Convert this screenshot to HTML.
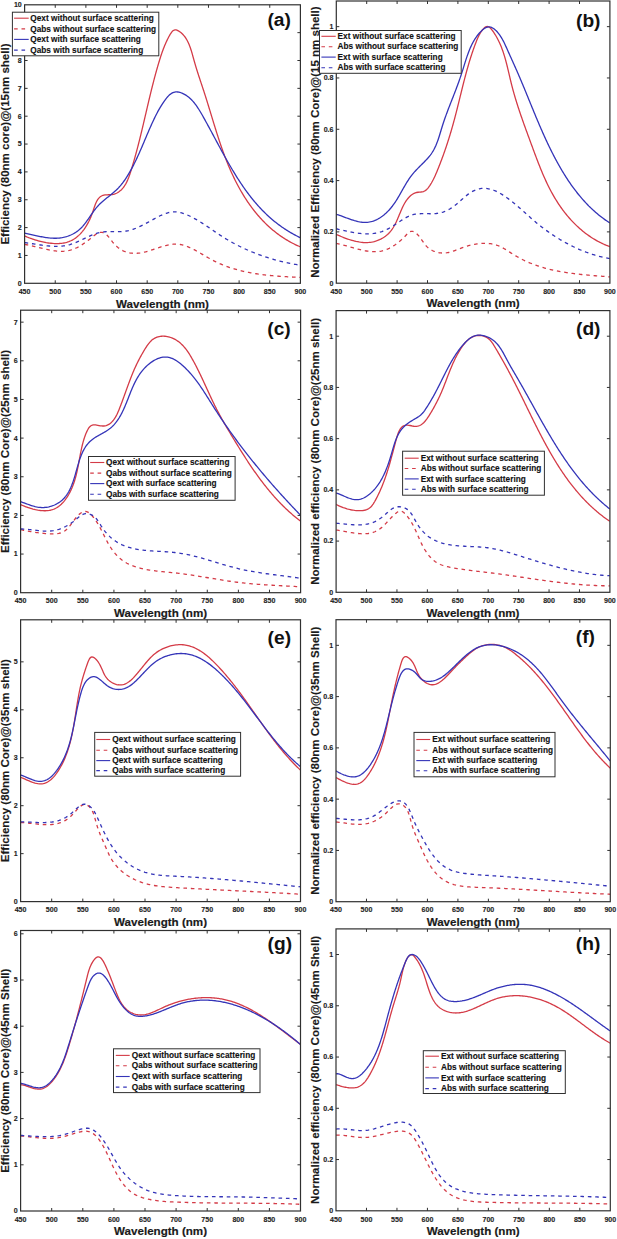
<!DOCTYPE html>
<html><head><meta charset="utf-8"><style>
html,body{margin:0;padding:0;background:#fff;width:617px;height:1239px;overflow:hidden}
svg{display:block}
</style></head><body>
<svg width="617" height="1239" viewBox="0 0 617 1239" font-family="&quot;Liberation Sans&quot;, sans-serif" font-weight="bold">
<rect width="617" height="1239" fill="#fff"/>
<g><clipPath id="clipa"><rect x="24.60" y="4.80" width="275.80" height="278.50"/></clipPath><g clip-path="url(#clipa)"><path d="M24.83,236.09 L25.74,236.47 L26.67,236.85 L27.62,237.23 L28.60,237.61 L29.59,237.99 L30.61,238.36 L31.64,238.73 L32.70,239.09 L33.76,239.45 L34.85,239.80 L35.94,240.13 L37.06,240.46 L38.18,240.78 L39.31,241.09 L40.45,241.38 L41.60,241.66 L42.76,241.92 L43.93,242.17 L45.10,242.40 L46.27,242.62 L47.45,242.81 L48.62,242.99 L49.80,243.14 L50.98,243.27 L52.16,243.38 L53.33,243.47 L54.50,243.53 L55.66,243.56 L56.82,243.57 L57.97,243.55 L59.12,243.50 L60.25,243.42 L61.37,243.31 L62.48,243.17 L63.58,243.00 L64.66,242.79 L65.73,242.55 L66.79,242.27 L67.82,241.95 L68.84,241.60 L69.84,241.21 L70.81,240.78 L71.77,240.31 L72.71,239.81 L73.63,239.28 L74.53,238.71 L75.42,238.10 L76.28,237.47 L77.13,236.80 L77.95,236.10 L78.76,235.37 L79.55,234.62 L80.33,233.84 L81.08,233.03 L81.82,232.19 L82.53,231.33 L83.23,230.44 L83.92,229.53 L84.58,228.60 L85.23,227.65 L85.86,226.68 L86.48,225.68 L87.07,224.67 L87.65,223.64 L88.21,222.60 L88.76,221.54 L89.29,220.46 L89.80,219.37 L90.30,218.26 L90.78,217.15 L91.24,216.02 L91.69,214.88 L92.12,213.73 L92.53,212.57 L92.93,211.40 L93.32,210.24 L93.71,209.07 L94.09,207.92 L94.47,206.78 L94.87,205.66 L95.27,204.56 L95.70,203.49 L96.14,202.47 L96.62,201.48 L97.12,200.54 L97.66,199.66 L98.25,198.83 L98.88,198.07 L99.56,197.37 L100.30,196.75 L101.10,196.22 L101.96,195.76 L102.89,195.41 L103.90,195.14 L104.98,194.97 L106.11,194.86 L107.29,194.80 L108.49,194.75 L109.70,194.71 L110.91,194.64 L112.10,194.52 L113.26,194.33 L114.38,194.05 L115.44,193.69 L116.46,193.24 L117.44,192.73 L118.36,192.16 L119.25,191.54 L120.09,190.87 L120.89,190.17 L121.65,189.43 L122.37,188.65 L123.06,187.84 L123.72,187.00 L124.34,186.13 L124.93,185.23 L125.49,184.30 L126.03,183.35 L126.54,182.38 L127.03,181.38 L127.49,180.37 L127.94,179.34 L128.37,178.29 L128.78,177.23 L129.17,176.15 L129.56,175.07 L129.93,173.98 L130.29,172.88 L130.65,171.78 L131.00,170.67 L131.34,169.57 L131.68,168.46 L132.02,167.36 L132.35,166.25 L132.68,165.14 L133.01,164.04 L133.34,162.93 L133.66,161.83 L133.98,160.72 L134.29,159.61 L134.61,158.51 L134.92,157.40 L135.23,156.30 L135.53,155.19 L135.83,154.08 L136.13,152.98 L136.43,151.87 L136.73,150.77 L137.02,149.66 L137.31,148.56 L137.60,147.45 L137.89,146.35 L138.18,145.24 L138.46,144.14 L138.74,143.03 L139.02,141.93 L139.30,140.82 L139.58,139.72 L139.85,138.62 L140.12,137.51 L140.39,136.41 L140.67,135.30 L140.93,134.20 L141.20,133.10 L141.47,131.99 L141.73,130.89 L142.00,129.79 L142.26,128.69 L142.52,127.58 L142.78,126.48 L143.05,125.38 L143.31,124.28 L143.56,123.18 L143.82,122.08 L144.08,120.98 L144.34,119.87 L144.60,118.77 L144.85,117.67 L145.11,116.57 L145.37,115.47 L145.62,114.37 L145.88,113.28 L146.13,112.18 L146.39,111.08 L146.65,109.98 L146.90,108.88 L147.16,107.78 L147.41,106.69 L147.67,105.59 L147.93,104.49 L148.19,103.40 L148.45,102.30 L148.70,101.20 L148.96,100.11 L149.23,99.01 L149.49,97.92 L149.75,96.82 L150.01,95.73 L150.28,94.64 L150.54,93.54 L150.81,92.45 L151.08,91.36 L151.34,90.27 L151.61,89.17 L151.89,88.08 L152.16,86.99 L152.43,85.90 L152.71,84.81 L152.99,83.72 L153.27,82.63 L153.55,81.54 L153.83,80.45 L154.12,79.37 L154.40,78.28 L154.69,77.19 L154.99,76.11 L155.28,75.02 L155.57,73.93 L155.87,72.85 L156.17,71.76 L156.48,70.68 L156.78,69.60 L157.09,68.51 L157.40,67.43 L157.71,66.35 L158.03,65.27 L158.35,64.18 L158.67,63.10 L158.99,62.02 L159.32,60.94 L159.65,59.86 L159.99,58.79 L160.33,57.71 L160.67,56.63 L161.02,55.55 L161.38,54.47 L161.75,53.39 L162.12,52.31 L162.50,51.23 L162.90,50.15 L163.30,49.07 L163.72,47.99 L164.14,46.90 L164.58,45.82 L165.04,44.73 L165.51,43.64 L165.99,42.55 L166.49,41.46 L167.01,40.37 L167.54,39.27 L168.10,38.17 L168.67,37.07 L169.26,35.97 L169.87,34.86 L170.51,33.79 L171.18,32.78 L171.88,31.87 L172.61,31.09 L173.39,30.49 L174.21,30.08 L175.07,29.91 L175.98,29.95 L176.90,30.18 L177.84,30.56 L178.77,31.06 L179.68,31.66 L180.56,32.31 L181.39,33.01 L182.19,33.74 L182.95,34.51 L183.67,35.31 L184.36,36.14 L185.01,37.00 L185.64,37.90 L186.23,38.82 L186.79,39.76 L187.32,40.73 L187.83,41.72 L188.31,42.74 L188.77,43.77 L189.21,44.82 L189.64,45.89 L190.04,46.97 L190.43,48.07 L190.80,49.18 L191.16,50.29 L191.51,51.42 L191.84,52.55 L192.17,53.69 L192.50,54.83 L192.82,55.98 L193.13,57.12 L193.45,58.26 L193.76,59.41 L194.07,60.54 L194.39,61.68 L194.71,62.80 L195.04,63.92 L195.37,65.04 L195.70,66.15 L196.03,67.25 L196.37,68.35 L196.71,69.45 L197.05,70.54 L197.39,71.63 L197.74,72.71 L198.08,73.79 L198.43,74.87 L198.78,75.94 L199.13,77.01 L199.49,78.08 L199.84,79.15 L200.19,80.21 L200.54,81.28 L200.90,82.34 L201.25,83.40 L201.61,84.46 L201.96,85.52 L202.31,86.58 L202.66,87.64 L203.01,88.70 L203.36,89.76 L203.71,90.82 L204.06,91.88 L204.40,92.95 L204.74,94.01 L205.09,95.08 L205.43,96.14 L205.76,97.21 L206.10,98.28 L206.44,99.35 L206.77,100.42 L207.11,101.50 L207.44,102.57 L207.77,103.64 L208.10,104.72 L208.43,105.79 L208.76,106.87 L209.09,107.95 L209.42,109.02 L209.75,110.10 L210.08,111.18 L210.40,112.26 L210.73,113.34 L211.06,114.42 L211.39,115.50 L211.72,116.58 L212.05,117.67 L212.38,118.75 L212.71,119.83 L213.04,120.91 L213.37,121.99 L213.70,123.08 L214.03,124.16 L214.36,125.24 L214.70,126.32 L215.03,127.41 L215.37,128.49 L215.71,129.57 L216.05,130.65 L216.39,131.73 L216.73,132.82 L217.08,133.90 L217.42,134.98 L217.77,136.06 L218.12,137.14 L218.47,138.22 L218.83,139.29 L219.18,140.37 L219.54,141.45 L219.90,142.53 L220.27,143.60 L220.63,144.68 L221.00,145.75 L221.37,146.83 L221.75,147.90 L222.12,148.97 L222.50,150.04 L222.89,151.11 L223.27,152.18 L223.66,153.25 L224.06,154.31 L224.46,155.38 L224.86,156.44 L225.26,157.50 L225.67,158.56 L226.08,159.62 L226.50,160.68 L226.92,161.74 L227.34,162.79 L227.77,163.85 L228.20,164.90 L228.64,165.95 L229.08,167.00 L229.53,168.04 L229.98,169.09 L230.43,170.13 L230.90,171.17 L231.36,172.21 L231.83,173.25 L232.31,174.28 L232.79,175.32 L233.27,176.35 L233.77,177.38 L234.26,178.40 L234.76,179.43 L235.27,180.45 L235.78,181.46 L236.30,182.48 L236.82,183.49 L237.35,184.50 L237.88,185.50 L238.42,186.51 L238.97,187.51 L239.52,188.50 L240.07,189.49 L240.64,190.48 L241.20,191.47 L241.78,192.45 L242.35,193.42 L242.94,194.40 L243.53,195.37 L244.13,196.33 L244.73,197.29 L245.34,198.25 L245.95,199.20 L246.57,200.15 L247.20,201.09 L247.83,202.03 L248.47,202.96 L249.11,203.89 L249.76,204.81 L250.42,205.73 L251.09,206.64 L251.76,207.55 L252.43,208.45 L253.11,209.34 L253.80,210.24 L254.50,211.12 L255.20,212.00 L255.91,212.87 L256.63,213.74 L257.35,214.60 L258.08,215.46 L258.81,216.30 L259.55,217.15 L260.30,217.98 L261.06,218.81 L261.82,219.64 L262.59,220.45 L263.37,221.26 L264.15,222.06 L264.94,222.86 L265.74,223.65 L266.55,224.43 L267.36,225.20 L268.18,225.97 L269.00,226.73 L269.84,227.48 L270.68,228.22 L271.53,228.96 L272.38,229.68 L273.25,230.40 L274.12,231.12 L274.99,231.82 L275.88,232.51 L276.77,233.20 L277.67,233.88 L278.58,234.55 L279.50,235.21 L280.42,235.87 L281.35,236.51 L282.29,237.14 L283.24,237.77 L284.20,238.39 L285.16,239.00 L286.13,239.59 L287.11,240.18 L288.10,240.76 L289.09,241.33 L290.09,241.90 L291.11,242.45 L292.13,242.99 L293.15,243.52 L294.19,244.04 L295.23,244.55 L296.29,245.05 L297.35,245.54 L298.42,246.02 L299.49,246.49 L300.58,246.95" fill="none" stroke="#d43b47" stroke-width="1.3"/><path d="M24.65,244.44 L25.63,244.59 L26.62,244.76 L27.62,244.94 L28.63,245.14 L29.65,245.36 L30.68,245.58 L31.72,245.81 L32.76,246.06 L33.81,246.31 L34.86,246.57 L35.92,246.83 L36.99,247.09 L38.06,247.36 L39.14,247.63 L40.22,247.90 L41.30,248.17 L42.39,248.44 L43.48,248.70 L44.57,248.96 L45.66,249.21 L46.76,249.45 L47.85,249.69 L48.95,249.91 L50.05,250.12 L51.14,250.32 L52.24,250.50 L53.33,250.67 L54.42,250.83 L55.51,250.96 L56.59,251.07 L57.68,251.17 L58.75,251.24 L59.83,251.29 L60.90,251.31 L61.96,251.31 L63.02,251.28 L64.07,251.22 L65.12,251.13 L66.16,251.01 L67.19,250.86 L68.22,250.68 L69.23,250.46 L70.24,250.20 L71.24,249.91 L72.23,249.59 L73.21,249.24 L74.19,248.86 L75.16,248.45 L76.12,248.01 L77.08,247.55 L78.03,247.06 L78.98,246.54 L79.92,246.01 L80.85,245.45 L81.78,244.87 L82.70,244.27 L83.62,243.66 L84.54,243.03 L85.45,242.38 L86.36,241.72 L87.26,241.05 L88.16,240.36 L89.06,239.66 L89.96,238.96 L90.85,238.24 L91.74,237.52 L92.63,236.79 L93.52,236.07 L94.41,235.36 L95.30,234.69 L96.19,234.06 L97.08,233.50 L97.97,233.03 L98.87,232.66 L99.78,232.40 L100.69,232.28 L101.61,232.30 L102.52,232.47 L103.43,232.77 L104.32,233.18 L105.18,233.70 L106.01,234.31 L106.81,235.00 L107.58,235.76 L108.33,236.57 L109.07,237.44 L109.79,238.34 L110.50,239.26 L111.22,240.20 L111.94,241.14 L112.66,242.06 L113.41,242.97 L114.17,243.85 L114.95,244.69 L115.75,245.50 L116.57,246.28 L117.40,247.02 L118.25,247.72 L119.12,248.38 L120.01,249.00 L120.91,249.59 L121.83,250.13 L122.76,250.62 L123.71,251.07 L124.67,251.48 L125.65,251.85 L126.64,252.17 L127.64,252.45 L128.65,252.69 L129.67,252.89 L130.70,253.05 L131.73,253.17 L132.78,253.26 L133.83,253.31 L134.89,253.33 L135.95,253.31 L137.01,253.26 L138.08,253.18 L139.14,253.07 L140.21,252.93 L141.28,252.76 L142.35,252.56 L143.42,252.34 L144.48,252.09 L145.55,251.83 L146.62,251.54 L147.68,251.24 L148.75,250.93 L149.82,250.60 L150.88,250.26 L151.95,249.92 L153.01,249.56 L154.07,249.21 L155.13,248.84 L156.19,248.48 L157.25,248.12 L158.31,247.77 L159.37,247.41 L160.42,247.07 L161.48,246.73 L162.53,246.41 L163.58,246.10 L164.63,245.80 L165.68,245.53 L166.72,245.27 L167.77,245.03 L168.81,244.81 L169.85,244.62 L170.89,244.46 L171.92,244.33 L172.96,244.22 L173.99,244.15 L175.02,244.12 L176.04,244.12 L177.07,244.16 L178.09,244.24 L179.11,244.36 L180.12,244.51 L181.13,244.71 L182.15,244.93 L183.15,245.19 L184.16,245.47 L185.16,245.79 L186.17,246.13 L187.16,246.50 L188.16,246.89 L189.16,247.31 L190.15,247.75 L191.14,248.20 L192.13,248.68 L193.11,249.17 L194.10,249.67 L195.08,250.19 L196.06,250.73 L197.04,251.27 L198.02,251.82 L198.99,252.38 L199.97,252.94 L200.94,253.51 L201.91,254.08 L202.88,254.65 L203.84,255.22 L204.81,255.79 L205.77,256.35 L206.73,256.91 L207.69,257.47 L208.65,258.01 L209.61,258.55 L210.57,259.07 L211.52,259.59 L212.48,260.09 L213.44,260.59 L214.39,261.08 L215.35,261.55 L216.31,262.02 L217.27,262.48 L218.23,262.93 L219.20,263.37 L220.17,263.80 L221.14,264.22 L222.11,264.64 L223.09,265.04 L224.08,265.43 L225.06,265.82 L226.06,266.19 L227.05,266.56 L228.05,266.92 L229.06,267.27 L230.06,267.61 L231.08,267.94 L232.09,268.27 L233.11,268.59 L234.13,268.90 L235.16,269.20 L236.19,269.49 L237.22,269.78 L238.25,270.05 L239.29,270.33 L240.33,270.59 L241.38,270.85 L242.42,271.10 L243.47,271.34 L244.52,271.57 L245.58,271.80 L246.63,272.03 L247.69,272.24 L248.75,272.45 L249.82,272.66 L250.88,272.85 L251.95,273.05 L253.02,273.23 L254.09,273.41 L255.16,273.59 L256.23,273.75 L257.30,273.92 L258.38,274.08 L259.46,274.23 L260.54,274.38 L261.61,274.52 L262.69,274.66 L263.78,274.79 L264.86,274.92 L265.94,275.05 L267.02,275.17 L268.11,275.28 L269.19,275.39 L270.27,275.50 L271.36,275.61 L272.44,275.71 L273.53,275.80 L274.61,275.90 L275.69,275.99 L276.78,276.07 L277.86,276.16 L278.94,276.24 L280.02,276.31 L281.10,276.39 L282.19,276.46 L283.27,276.53 L284.34,276.60 L285.42,276.66 L286.50,276.72 L287.57,276.78 L288.65,276.84 L289.72,276.90 L290.79,276.95 L291.86,277.00 L292.93,277.05 L293.99,277.10 L295.06,277.15 L296.12,277.20 L297.18,277.25 L298.24,277.29 L299.29,277.34 L300.34,277.38" fill="none" stroke="#d43b47" stroke-width="1.3" stroke-dasharray="3.6,3.8"/><path d="M24.62,233.02 L25.72,233.27 L26.83,233.53 L27.94,233.78 L29.05,234.04 L30.16,234.30 L31.27,234.56 L32.39,234.82 L33.50,235.07 L34.62,235.32 L35.74,235.58 L36.86,235.82 L37.98,236.06 L39.11,236.30 L40.24,236.53 L41.37,236.75 L42.51,236.97 L43.65,237.17 L44.79,237.36 L45.93,237.54 L47.07,237.70 L48.22,237.84 L49.37,237.97 L50.51,238.07 L51.66,238.16 L52.81,238.22 L53.96,238.25 L55.11,238.26 L56.26,238.24 L57.41,238.19 L58.55,238.11 L59.70,237.99 L60.84,237.84 L61.98,237.66 L63.12,237.44 L64.25,237.19 L65.37,236.91 L66.48,236.60 L67.58,236.25 L68.67,235.87 L69.75,235.45 L70.81,235.01 L71.85,234.53 L72.88,234.02 L73.88,233.47 L74.87,232.90 L75.83,232.29 L76.77,231.65 L77.69,230.98 L78.57,230.28 L79.43,229.55 L80.27,228.78 L81.08,227.99 L81.87,227.18 L82.64,226.34 L83.39,225.48 L84.12,224.60 L84.84,223.71 L85.54,222.79 L86.23,221.87 L86.92,220.93 L87.59,219.99 L88.26,219.03 L88.92,218.07 L89.58,217.11 L90.24,216.14 L90.90,215.18 L91.57,214.22 L92.23,213.26 L92.91,212.30 L93.59,211.36 L94.28,210.43 L94.98,209.50 L95.69,208.59 L96.42,207.70 L97.17,206.83 L97.93,205.97 L98.71,205.14 L99.52,204.32 L100.33,203.53 L101.17,202.75 L102.01,201.98 L102.87,201.23 L103.74,200.49 L104.62,199.76 L105.50,199.03 L106.39,198.31 L107.28,197.60 L108.17,196.89 L109.07,196.18 L109.96,195.46 L110.85,194.75 L111.74,194.02 L112.62,193.30 L113.49,192.56 L114.35,191.81 L115.20,191.05 L116.04,190.28 L116.86,189.49 L117.66,188.69 L118.46,187.86 L119.23,187.02 L119.99,186.17 L120.73,185.30 L121.46,184.41 L122.18,183.52 L122.88,182.60 L123.57,181.68 L124.24,180.75 L124.91,179.80 L125.56,178.85 L126.20,177.88 L126.83,176.91 L127.45,175.93 L128.05,174.94 L128.65,173.95 L129.24,172.95 L129.82,171.95 L130.39,170.94 L130.95,169.93 L131.50,168.91 L132.05,167.90 L132.59,166.88 L133.12,165.86 L133.65,164.83 L134.16,163.81 L134.68,162.78 L135.18,161.75 L135.68,160.72 L136.18,159.68 L136.67,158.65 L137.16,157.61 L137.64,156.57 L138.11,155.53 L138.59,154.49 L139.05,153.45 L139.52,152.40 L139.98,151.36 L140.44,150.31 L140.90,149.26 L141.35,148.22 L141.80,147.17 L142.25,146.12 L142.70,145.07 L143.15,144.02 L143.59,142.97 L144.04,141.91 L144.48,140.86 L144.92,139.81 L145.37,138.76 L145.81,137.71 L146.25,136.66 L146.70,135.60 L147.15,134.55 L147.59,133.50 L148.04,132.45 L148.49,131.40 L148.95,130.35 L149.40,129.31 L149.86,128.26 L150.32,127.21 L150.78,126.17 L151.25,125.12 L151.72,124.08 L152.20,123.04 L152.68,121.99 L153.16,120.96 L153.65,119.92 L154.14,118.88 L154.64,117.85 L155.15,116.81 L155.66,115.78 L156.18,114.75 L156.70,113.73 L157.24,112.70 L157.79,111.68 L158.34,110.66 L158.91,109.63 L159.49,108.62 L160.08,107.60 L160.69,106.58 L161.31,105.57 L161.94,104.56 L162.60,103.54 L163.27,102.54 L163.95,101.53 L164.66,100.52 L165.38,99.53 L166.13,98.56 L166.89,97.62 L167.68,96.72 L168.49,95.87 L169.32,95.08 L170.17,94.36 L171.05,93.71 L171.94,93.15 L172.87,92.69 L173.82,92.33 L174.79,92.09 L175.79,91.96 L176.80,91.94 L177.83,92.01 L178.87,92.18 L179.90,92.43 L180.93,92.75 L181.96,93.13 L182.97,93.58 L183.95,94.07 L184.92,94.60 L185.86,95.17 L186.77,95.77 L187.66,96.41 L188.52,97.07 L189.36,97.77 L190.17,98.50 L190.97,99.25 L191.75,100.03 L192.50,100.84 L193.24,101.67 L193.96,102.52 L194.67,103.39 L195.36,104.29 L196.04,105.20 L196.70,106.13 L197.35,107.07 L197.98,108.03 L198.61,109.00 L199.23,109.98 L199.84,110.98 L200.44,111.98 L201.03,112.99 L201.62,114.00 L202.21,115.02 L202.79,116.05 L203.36,117.08 L203.94,118.10 L204.51,119.13 L205.08,120.16 L205.65,121.19 L206.22,122.22 L206.79,123.26 L207.35,124.29 L207.91,125.32 L208.48,126.35 L209.04,127.39 L209.60,128.42 L210.16,129.46 L210.71,130.49 L211.27,131.52 L211.83,132.56 L212.38,133.59 L212.94,134.63 L213.49,135.66 L214.04,136.70 L214.60,137.73 L215.15,138.76 L215.70,139.79 L216.26,140.83 L216.81,141.86 L217.36,142.89 L217.92,143.92 L218.47,144.95 L219.02,145.98 L219.58,147.01 L220.13,148.03 L220.69,149.06 L221.25,150.08 L221.80,151.10 L222.36,152.13 L222.92,153.15 L223.48,154.17 L224.04,155.18 L224.60,156.20 L225.16,157.22 L225.73,158.23 L226.30,159.24 L226.86,160.25 L227.43,161.26 L228.00,162.26 L228.58,163.26 L229.15,164.27 L229.73,165.27 L230.31,166.26 L230.89,167.26 L231.47,168.25 L232.06,169.24 L232.65,170.23 L233.24,171.21 L233.83,172.19 L234.43,173.17 L235.03,174.15 L235.63,175.12 L236.23,176.10 L236.84,177.06 L237.45,178.03 L238.06,178.99 L238.68,179.95 L239.30,180.91 L239.93,181.86 L240.55,182.81 L241.19,183.75 L241.82,184.69 L242.46,185.63 L243.10,186.57 L243.75,187.50 L244.40,188.43 L245.05,189.35 L245.71,190.27 L246.38,191.18 L247.05,192.10 L247.72,193.00 L248.40,193.91 L249.08,194.80 L249.76,195.70 L250.46,196.59 L251.15,197.48 L251.85,198.36 L252.56,199.23 L253.27,200.11 L253.99,200.97 L254.71,201.83 L255.44,202.69 L256.17,203.54 L256.91,204.39 L257.66,205.24 L258.41,206.07 L259.16,206.90 L259.93,207.73 L260.69,208.55 L261.47,209.37 L262.25,210.18 L263.04,210.99 L263.83,211.78 L264.63,212.58 L265.44,213.37 L266.25,214.15 L267.07,214.93 L267.90,215.70 L268.73,216.46 L269.57,217.22 L270.42,217.97 L271.28,218.72 L272.14,219.46 L273.01,220.19 L273.89,220.92 L274.77,221.64 L275.67,222.35 L276.57,223.06 L277.47,223.76 L278.39,224.45 L279.31,225.14 L280.25,225.82 L281.19,226.49 L282.14,227.16 L283.09,227.82 L284.06,228.47 L285.03,229.11 L286.01,229.75 L287.00,230.38 L288.00,231.00 L289.01,231.62 L290.03,232.23 L291.06,232.83 L292.09,233.42 L293.14,234.00 L294.19,234.58 L295.26,235.15 L296.33,235.71 L297.41,236.26 L298.50,236.80 L299.61,237.34 L300.72,237.87" fill="none" stroke="#3434b8" stroke-width="1.3"/><path d="M24.62,242.62 L25.74,242.76 L26.87,242.91 L28.00,243.06 L29.14,243.22 L30.28,243.39 L31.43,243.57 L32.59,243.75 L33.75,243.93 L34.92,244.11 L36.09,244.30 L37.26,244.48 L38.44,244.66 L39.62,244.84 L40.80,245.01 L41.98,245.18 L43.17,245.35 L44.36,245.50 L45.55,245.65 L46.74,245.78 L47.93,245.91 L49.11,246.02 L50.30,246.12 L51.49,246.20 L52.68,246.27 L53.86,246.32 L55.05,246.35 L56.23,246.36 L57.40,246.36 L58.58,246.33 L59.75,246.27 L60.92,246.20 L62.08,246.09 L63.24,245.96 L64.39,245.81 L65.53,245.62 L66.68,245.41 L67.81,245.16 L68.94,244.88 L70.06,244.57 L71.18,244.22 L72.28,243.85 L73.39,243.46 L74.49,243.04 L75.58,242.60 L76.67,242.14 L77.76,241.67 L78.84,241.18 L79.92,240.69 L81.00,240.18 L82.07,239.67 L83.14,239.15 L84.22,238.64 L85.29,238.12 L86.36,237.61 L87.43,237.10 L88.50,236.60 L89.57,236.11 L90.65,235.64 L91.72,235.18 L92.80,234.73 L93.88,234.31 L94.97,233.91 L96.06,233.54 L97.15,233.19 L98.26,232.88 L99.37,232.60 L100.49,232.35 L101.61,232.14 L102.75,231.97 L103.90,231.84 L105.06,231.73 L106.22,231.65 L107.39,231.59 L108.57,231.56 L109.76,231.54 L110.95,231.54 L112.15,231.55 L113.35,231.57 L114.56,231.59 L115.76,231.61 L116.97,231.62 L118.17,231.63 L119.37,231.62 L120.56,231.58 L121.75,231.53 L122.92,231.44 L124.09,231.33 L125.25,231.17 L126.39,230.99 L127.53,230.77 L128.65,230.53 L129.77,230.25 L130.88,229.95 L131.98,229.62 L133.08,229.27 L134.17,228.89 L135.25,228.49 L136.33,228.07 L137.40,227.63 L138.46,227.17 L139.53,226.69 L140.59,226.19 L141.64,225.68 L142.70,225.16 L143.75,224.62 L144.80,224.07 L145.85,223.51 L146.90,222.94 L147.95,222.37 L149.00,221.78 L150.05,221.19 L151.10,220.60 L152.15,220.01 L153.21,219.42 L154.27,218.83 L155.33,218.25 L156.39,217.68 L157.45,217.12 L158.52,216.57 L159.59,216.04 L160.66,215.53 L161.74,215.04 L162.82,214.58 L163.90,214.15 L164.98,213.74 L166.07,213.37 L167.16,213.03 L168.26,212.73 L169.36,212.47 L170.46,212.26 L171.57,212.09 L172.68,211.97 L173.80,211.89 L174.92,211.88 L176.05,211.92 L177.18,212.01 L178.31,212.17 L179.45,212.37 L180.59,212.63 L181.73,212.93 L182.87,213.28 L184.01,213.66 L185.14,214.08 L186.27,214.53 L187.39,215.01 L188.51,215.51 L189.62,216.03 L190.72,216.57 L191.80,217.12 L192.88,217.68 L193.95,218.25 L195.00,218.83 L196.05,219.42 L197.09,220.01 L198.12,220.62 L199.14,221.23 L200.15,221.85 L201.16,222.48 L202.16,223.11 L203.16,223.75 L204.15,224.39 L205.13,225.03 L206.11,225.68 L207.09,226.34 L208.06,226.99 L209.03,227.65 L210.00,228.31 L210.96,228.97 L211.93,229.63 L212.89,230.29 L213.85,230.95 L214.81,231.60 L215.78,232.26 L216.74,232.91 L217.71,233.57 L218.67,234.21 L219.64,234.86 L220.62,235.50 L221.60,236.13 L222.58,236.76 L223.56,237.39 L224.55,238.00 L225.55,238.61 L226.55,239.22 L227.55,239.81 L228.56,240.41 L229.57,240.99 L230.59,241.57 L231.61,242.14 L232.64,242.71 L233.67,243.27 L234.70,243.82 L235.74,244.37 L236.78,244.91 L237.83,245.44 L238.88,245.97 L239.93,246.49 L240.99,247.01 L242.05,247.52 L243.12,248.02 L244.18,248.52 L245.25,249.01 L246.33,249.49 L247.41,249.97 L248.49,250.44 L249.57,250.90 L250.66,251.36 L251.75,251.81 L252.84,252.26 L253.94,252.70 L255.03,253.13 L256.13,253.56 L257.24,253.98 L258.34,254.39 L259.45,254.80 L260.56,255.20 L261.67,255.59 L262.79,255.98 L263.91,256.36 L265.03,256.74 L266.15,257.11 L267.27,257.47 L268.39,257.83 L269.52,258.18 L270.65,258.52 L271.78,258.86 L272.91,259.19 L274.04,259.51 L275.18,259.83 L276.32,260.14 L277.45,260.45 L278.59,260.75 L279.73,261.04 L280.87,261.33 L282.01,261.61 L283.16,261.88 L284.30,262.15 L285.44,262.41 L286.59,262.66 L287.73,262.91 L288.88,263.15 L290.03,263.39 L291.17,263.62 L292.32,263.84 L293.47,264.06 L294.61,264.27 L295.76,264.47 L296.91,264.67 L298.06,264.86 L299.21,265.04 L300.35,265.22" fill="none" stroke="#3434b8" stroke-width="1.3" stroke-dasharray="3.6,3.8"/></g><rect x="24.60" y="4.80" width="275.80" height="278.50" fill="none" stroke="#303030" stroke-width="1.2"/><text x="24.60" y="294.00" text-anchor="middle" font-size="7.7" textLength="11.84" lengthAdjust="spacingAndGlyphs" fill="#222" stroke="#222" stroke-width="0.12">450</text><text x="55.24" y="294.00" text-anchor="middle" font-size="7.7" textLength="11.84" lengthAdjust="spacingAndGlyphs" fill="#222" stroke="#222" stroke-width="0.12">500</text><text x="85.89" y="294.00" text-anchor="middle" font-size="7.7" textLength="11.84" lengthAdjust="spacingAndGlyphs" fill="#222" stroke="#222" stroke-width="0.12">550</text><text x="116.53" y="294.00" text-anchor="middle" font-size="7.7" textLength="11.84" lengthAdjust="spacingAndGlyphs" fill="#222" stroke="#222" stroke-width="0.12">600</text><text x="147.18" y="294.00" text-anchor="middle" font-size="7.7" textLength="11.84" lengthAdjust="spacingAndGlyphs" fill="#222" stroke="#222" stroke-width="0.12">650</text><text x="177.82" y="294.00" text-anchor="middle" font-size="7.7" textLength="11.84" lengthAdjust="spacingAndGlyphs" fill="#222" stroke="#222" stroke-width="0.12">700</text><text x="208.47" y="294.00" text-anchor="middle" font-size="7.7" textLength="11.84" lengthAdjust="spacingAndGlyphs" fill="#222" stroke="#222" stroke-width="0.12">750</text><text x="239.11" y="294.00" text-anchor="middle" font-size="7.7" textLength="11.84" lengthAdjust="spacingAndGlyphs" fill="#222" stroke="#222" stroke-width="0.12">800</text><text x="269.76" y="294.00" text-anchor="middle" font-size="7.7" textLength="11.84" lengthAdjust="spacingAndGlyphs" fill="#222" stroke="#222" stroke-width="0.12">850</text><text x="300.40" y="294.00" text-anchor="middle" font-size="7.7" textLength="11.84" lengthAdjust="spacingAndGlyphs" fill="#222" stroke="#222" stroke-width="0.12">900</text><text x="21.80" y="285.70" text-anchor="end" font-size="7.7" textLength="3.95" lengthAdjust="spacingAndGlyphs" fill="#222" stroke="#222" stroke-width="0.12">0</text><text x="21.80" y="257.85" text-anchor="end" font-size="7.7" textLength="3.95" lengthAdjust="spacingAndGlyphs" fill="#222" stroke="#222" stroke-width="0.12">1</text><text x="21.80" y="230.00" text-anchor="end" font-size="7.7" textLength="3.95" lengthAdjust="spacingAndGlyphs" fill="#222" stroke="#222" stroke-width="0.12">2</text><text x="21.80" y="202.15" text-anchor="end" font-size="7.7" textLength="3.95" lengthAdjust="spacingAndGlyphs" fill="#222" stroke="#222" stroke-width="0.12">3</text><text x="21.80" y="174.30" text-anchor="end" font-size="7.7" textLength="3.95" lengthAdjust="spacingAndGlyphs" fill="#222" stroke="#222" stroke-width="0.12">4</text><text x="21.80" y="146.45" text-anchor="end" font-size="7.7" textLength="3.95" lengthAdjust="spacingAndGlyphs" fill="#222" stroke="#222" stroke-width="0.12">5</text><text x="21.80" y="118.60" text-anchor="end" font-size="7.7" textLength="3.95" lengthAdjust="spacingAndGlyphs" fill="#222" stroke="#222" stroke-width="0.12">6</text><text x="21.80" y="90.75" text-anchor="end" font-size="7.7" textLength="3.95" lengthAdjust="spacingAndGlyphs" fill="#222" stroke="#222" stroke-width="0.12">7</text><text x="21.80" y="62.90" text-anchor="end" font-size="7.7" textLength="3.95" lengthAdjust="spacingAndGlyphs" fill="#222" stroke="#222" stroke-width="0.12">8</text><text x="21.80" y="35.05" text-anchor="end" font-size="7.7" textLength="3.95" lengthAdjust="spacingAndGlyphs" fill="#222" stroke="#222" stroke-width="0.12">9</text><text x="21.80" y="7.20" text-anchor="end" font-size="7.7" textLength="7.90" lengthAdjust="spacingAndGlyphs" fill="#222" stroke="#222" stroke-width="0.12">10</text><path d="M55.24,283.30v-3.00 M55.24,4.80v3.00 M85.89,283.30v-3.00 M85.89,4.80v3.00 M116.53,283.30v-3.00 M116.53,4.80v3.00 M147.18,283.30v-3.00 M147.18,4.80v3.00 M177.82,283.30v-3.00 M177.82,4.80v3.00 M208.47,283.30v-3.00 M208.47,4.80v3.00 M239.11,283.30v-3.00 M239.11,4.80v3.00 M269.76,283.30v-3.00 M269.76,4.80v3.00 M24.60,255.45h3.00 M300.40,255.45h-3.00 M24.60,227.60h3.00 M300.40,227.60h-3.00 M24.60,199.75h3.00 M300.40,199.75h-3.00 M24.60,171.90h3.00 M300.40,171.90h-3.00 M24.60,144.05h3.00 M300.40,144.05h-3.00 M24.60,116.20h3.00 M300.40,116.20h-3.00 M24.60,88.35h3.00 M300.40,88.35h-3.00 M24.60,60.50h3.00 M300.40,60.50h-3.00 M24.60,32.65h3.00 M300.40,32.65h-3.00" stroke="#303030" stroke-width="1" fill="none"/><text x="162.50" y="307.50" text-anchor="middle" font-size="11.6" fill="#1a1a1a" stroke="#1a1a1a" stroke-width="0.18">Wavelength (nm)</text><text transform="translate(9.00,144.05) rotate(-90)" text-anchor="middle" font-size="11.5" fill="#1a1a1a" stroke="#1a1a1a" stroke-width="0.15">Efficiency (80nm core)@(15nm shell)</text><text x="267.40" y="26.40" font-size="19.2" fill="#111">(a)</text><rect x="12.40" y="12.20" width="146.40" height="43.60" fill="#fff" stroke="#303030" stroke-width="1"/><path d="M14.10,18.20H28.70" stroke="#d43b47" stroke-width="1.1"/><text x="30.30" y="20.80" font-size="8.5" textLength="123.46" lengthAdjust="spacingAndGlyphs" fill="#111" stroke="#111" stroke-width="0.12">Qext without surface scattering</text><path d="M14.10,28.90H28.70" stroke="#d43b47" stroke-width="1.1" stroke-dasharray="3.6,3.8"/><text x="30.30" y="31.50" font-size="8.5" textLength="125.75" lengthAdjust="spacingAndGlyphs" fill="#111" stroke="#111" stroke-width="0.12">Qabs without surface scattering</text><path d="M14.10,39.40H28.70" stroke="#3434b8" stroke-width="1.1"/><text x="30.30" y="42.00" font-size="8.5" textLength="110.62" lengthAdjust="spacingAndGlyphs" fill="#111" stroke="#111" stroke-width="0.12">Qext with surface scattering</text><path d="M14.10,50.10H28.70" stroke="#3434b8" stroke-width="1.1" stroke-dasharray="3.6,3.8"/><text x="30.30" y="52.70" font-size="8.5" textLength="112.91" lengthAdjust="spacingAndGlyphs" fill="#111" stroke="#111" stroke-width="0.12">Qabs with surface scattering</text></g>
<g><clipPath id="clipb"><rect x="336.30" y="1.00" width="273.60" height="282.20"/></clipPath><g clip-path="url(#clipb)"><path d="M336.11,234.32 L337.31,234.86 L338.54,235.40 L339.79,235.94 L341.07,236.48 L342.36,237.01 L343.68,237.54 L345.01,238.05 L346.35,238.55 L347.71,239.03 L349.09,239.50 L350.47,239.94 L351.87,240.35 L353.27,240.74 L354.68,241.10 L356.10,241.43 L357.52,241.72 L358.94,241.98 L360.36,242.19 L361.78,242.36 L363.21,242.48 L364.62,242.56 L366.04,242.58 L367.44,242.55 L368.84,242.46 L370.23,242.32 L371.61,242.11 L372.98,241.85 L374.33,241.52 L375.66,241.14 L376.97,240.71 L378.26,240.22 L379.53,239.67 L380.77,239.07 L381.99,238.42 L383.18,237.72 L384.33,236.96 L385.45,236.16 L386.53,235.30 L387.58,234.40 L388.59,233.45 L389.55,232.45 L390.47,231.41 L391.35,230.31 L392.18,229.18 L392.96,228.01 L393.71,226.79 L394.42,225.55 L395.10,224.28 L395.75,222.98 L396.38,221.66 L396.99,220.32 L397.58,218.97 L398.16,217.61 L398.73,216.24 L399.29,214.87 L399.86,213.50 L400.42,212.13 L400.99,210.77 L401.58,209.43 L402.17,208.10 L402.79,206.79 L403.42,205.51 L404.08,204.25 L404.77,203.02 L405.49,201.83 L406.25,200.67 L407.05,199.56 L407.90,198.49 L408.79,197.48 L409.73,196.51 L410.73,195.61 L411.78,194.77 L412.90,194.02 L414.08,193.37 L415.32,192.86 L416.63,192.49 L418.00,192.26 L419.39,192.12 L420.78,192.00 L422.13,191.82 L423.40,191.51 L424.57,191.02 L425.64,190.35 L426.63,189.54 L427.54,188.61 L428.39,187.58 L429.19,186.49 L429.97,185.36 L430.71,184.19 L431.43,183.00 L432.12,181.78 L432.79,180.54 L433.44,179.28 L434.06,178.00 L434.67,176.70 L435.27,175.40 L435.85,174.08 L436.42,172.75 L436.98,171.42 L437.52,170.08 L438.07,168.75 L438.60,167.41 L439.13,166.08 L439.66,164.75 L440.17,163.42 L440.69,162.08 L441.19,160.75 L441.69,159.42 L442.19,158.09 L442.68,156.76 L443.16,155.43 L443.64,154.10 L444.11,152.77 L444.58,151.44 L445.04,150.11 L445.50,148.78 L445.95,147.45 L446.40,146.12 L446.84,144.79 L447.28,143.46 L447.71,142.12 L448.14,140.79 L448.56,139.46 L448.98,138.12 L449.40,136.79 L449.81,135.45 L450.21,134.12 L450.61,132.78 L451.01,131.44 L451.40,130.10 L451.79,128.76 L452.18,127.42 L452.56,126.08 L452.94,124.73 L453.31,123.39 L453.68,122.04 L454.05,120.69 L454.42,119.34 L454.78,117.99 L455.13,116.64 L455.49,115.28 L455.84,113.93 L456.19,112.57 L456.54,111.21 L456.88,109.85 L457.22,108.49 L457.56,107.13 L457.90,105.77 L458.24,104.40 L458.58,103.04 L458.92,101.67 L459.25,100.31 L459.59,98.94 L459.92,97.57 L460.26,96.21 L460.59,94.84 L460.93,93.47 L461.26,92.10 L461.60,90.74 L461.94,89.37 L462.28,88.00 L462.62,86.63 L462.96,85.27 L463.31,83.90 L463.65,82.53 L464.00,81.17 L464.35,79.80 L464.71,78.44 L465.06,77.08 L465.42,75.71 L465.79,74.35 L466.15,72.99 L466.52,71.63 L466.90,70.27 L467.28,68.92 L467.66,67.56 L468.05,66.21 L468.44,64.85 L468.84,63.50 L469.24,62.15 L469.65,60.81 L470.06,59.46 L470.48,58.12 L470.91,56.77 L471.34,55.43 L471.78,54.10 L472.22,52.76 L472.67,51.43 L473.13,50.10 L473.60,48.77 L474.07,47.45 L474.56,46.12 L475.05,44.80 L475.54,43.49 L476.05,42.17 L476.56,40.86 L477.09,39.55 L477.64,38.24 L478.23,36.93 L478.86,35.62 L479.55,34.31 L480.32,32.99 L481.17,31.66 L482.12,30.33 L483.14,29.08 L484.20,27.99 L485.28,27.15 L486.35,26.64 L487.39,26.52 L488.40,26.76 L489.37,27.29 L490.30,28.06 L491.21,29.01 L492.08,30.09 L492.93,31.24 L493.74,32.41 L494.52,33.59 L495.28,34.78 L496.01,35.99 L496.71,37.21 L497.38,38.44 L498.03,39.68 L498.66,40.94 L499.26,42.20 L499.84,43.48 L500.40,44.76 L500.94,46.05 L501.46,47.35 L501.96,48.66 L502.44,49.98 L502.91,51.31 L503.36,52.64 L503.80,53.98 L504.22,55.33 L504.63,56.68 L505.03,58.03 L505.41,59.40 L505.79,60.76 L506.16,62.13 L506.51,63.50 L506.87,64.88 L507.21,66.26 L507.55,67.64 L507.88,69.03 L508.21,70.41 L508.54,71.80 L508.86,73.18 L509.19,74.57 L509.51,75.96 L509.84,77.34 L510.16,78.73 L510.49,80.11 L510.83,81.49 L511.16,82.87 L511.50,84.25 L511.85,85.62 L512.21,86.99 L512.57,88.36 L512.93,89.72 L513.31,91.08 L513.69,92.44 L514.07,93.80 L514.46,95.15 L514.85,96.50 L515.25,97.85 L515.66,99.19 L516.06,100.54 L516.48,101.88 L516.90,103.21 L517.32,104.55 L517.74,105.89 L518.17,107.22 L518.61,108.55 L519.05,109.88 L519.49,111.21 L519.93,112.53 L520.38,113.86 L520.84,115.18 L521.29,116.51 L521.75,117.83 L522.21,119.15 L522.67,120.47 L523.14,121.79 L523.61,123.10 L524.08,124.42 L524.55,125.74 L525.02,127.06 L525.50,128.37 L525.98,129.69 L526.46,131.00 L526.94,132.32 L527.42,133.64 L527.90,134.95 L528.38,136.27 L528.87,137.59 L529.35,138.90 L529.84,140.22 L530.32,141.54 L530.81,142.86 L531.30,144.18 L531.78,145.50 L532.27,146.82 L532.76,148.14 L533.24,149.46 L533.73,150.79 L534.22,152.11 L534.71,153.43 L535.21,154.75 L535.70,156.07 L536.20,157.39 L536.70,158.71 L537.20,160.03 L537.71,161.35 L538.22,162.67 L538.73,163.98 L539.25,165.30 L539.77,166.61 L540.30,167.92 L540.83,169.22 L541.36,170.53 L541.91,171.83 L542.45,173.13 L543.01,174.43 L543.57,175.72 L544.13,177.01 L544.70,178.30 L545.28,179.59 L545.87,180.87 L546.47,182.14 L547.07,183.41 L547.68,184.68 L548.30,185.95 L548.93,187.21 L549.56,188.46 L550.21,189.71 L550.87,190.96 L551.53,192.19 L552.21,193.43 L552.89,194.66 L553.59,195.88 L554.30,197.10 L555.02,198.31 L555.75,199.51 L556.49,200.71 L557.24,201.90 L558.01,203.09 L558.78,204.27 L559.57,205.44 L560.37,206.60 L561.19,207.75 L562.01,208.90 L562.85,210.04 L563.69,211.16 L564.55,212.28 L565.43,213.39 L566.31,214.49 L567.20,215.58 L568.11,216.66 L569.03,217.73 L569.96,218.79 L570.90,219.83 L571.86,220.87 L572.82,221.89 L573.80,222.90 L574.79,223.90 L575.79,224.89 L576.80,225.86 L577.83,226.82 L578.86,227.76 L579.91,228.70 L580.97,229.61 L582.04,230.52 L583.13,231.41 L584.22,232.28 L585.33,233.14 L586.45,233.98 L587.58,234.81 L588.72,235.62 L589.88,236.41 L591.04,237.19 L592.22,237.95 L593.41,238.69 L594.61,239.42 L595.82,240.13 L597.05,240.82 L598.28,241.49 L599.53,242.14 L600.79,242.77 L602.07,243.39 L603.35,243.98 L604.64,244.55 L605.95,245.11 L607.27,245.64 L608.60,246.16 L609.94,246.65" fill="none" stroke="#d43b47" stroke-width="1.3"/><path d="M336.14,243.37 L337.28,243.59 L338.42,243.83 L339.58,244.09 L340.74,244.37 L341.91,244.67 L343.10,244.98 L344.29,245.30 L345.48,245.63 L346.69,245.97 L347.90,246.32 L349.12,246.67 L350.34,247.03 L351.57,247.38 L352.81,247.74 L354.04,248.09 L355.28,248.43 L356.53,248.77 L357.77,249.10 L359.02,249.42 L360.27,249.73 L361.52,250.02 L362.77,250.29 L364.01,250.55 L365.26,250.78 L366.51,250.99 L367.75,251.18 L368.99,251.34 L370.23,251.47 L371.46,251.58 L372.69,251.65 L373.91,251.68 L375.13,251.68 L376.34,251.64 L377.55,251.56 L378.75,251.44 L379.94,251.28 L381.12,251.06 L382.29,250.81 L383.45,250.50 L384.61,250.15 L385.75,249.76 L386.89,249.32 L388.01,248.85 L389.13,248.33 L390.23,247.78 L391.32,247.19 L392.40,246.57 L393.47,245.91 L394.53,245.23 L395.58,244.51 L396.61,243.76 L397.63,242.98 L398.64,242.18 L399.64,241.36 L400.62,240.51 L401.59,239.64 L402.54,238.75 L403.48,237.84 L404.41,236.91 L405.32,235.97 L406.22,235.02 L407.11,234.08 L408.00,233.21 L408.90,232.45 L409.81,231.85 L410.75,231.45 L411.72,231.30 L412.72,231.41 L413.75,231.76 L414.77,232.30 L415.78,233.00 L416.76,233.82 L417.69,234.72 L418.56,235.67 L419.38,236.66 L420.17,237.69 L420.92,238.74 L421.66,239.80 L422.39,240.87 L423.12,241.93 L423.87,242.98 L424.63,244.01 L425.42,245.01 L426.24,245.96 L427.12,246.87 L428.06,247.72 L429.05,248.51 L430.09,249.23 L431.18,249.89 L432.30,250.50 L433.47,251.03 L434.66,251.51 L435.88,251.92 L437.12,252.27 L438.37,252.55 L439.63,252.77 L440.89,252.93 L442.16,253.02 L443.41,253.04 L444.66,253.00 L445.89,252.89 L447.10,252.72 L448.31,252.50 L449.50,252.23 L450.69,251.92 L451.86,251.57 L453.04,251.19 L454.20,250.79 L455.37,250.36 L456.54,249.92 L457.70,249.47 L458.87,249.01 L460.05,248.56 L461.23,248.12 L462.42,247.68 L463.62,247.26 L464.82,246.86 L466.03,246.47 L467.25,246.10 L468.47,245.74 L469.69,245.41 L470.92,245.09 L472.15,244.80 L473.38,244.53 L474.62,244.28 L475.85,244.06 L477.09,243.86 L478.33,243.69 L479.56,243.55 L480.80,243.44 L482.03,243.35 L483.26,243.30 L484.49,243.28 L485.71,243.29 L486.93,243.34 L488.14,243.42 L489.35,243.54 L490.55,243.70 L491.75,243.89 L492.94,244.13 L494.12,244.40 L495.29,244.72 L496.45,245.08 L497.60,245.49 L498.74,245.93 L499.87,246.43 L500.99,246.96 L502.10,247.53 L503.20,248.13 L504.30,248.76 L505.39,249.41 L506.47,250.08 L507.56,250.76 L508.64,251.45 L509.71,252.14 L510.79,252.83 L511.87,253.52 L512.95,254.20 L514.03,254.87 L515.11,255.52 L516.20,256.16 L517.29,256.79 L518.38,257.40 L519.48,258.00 L520.58,258.58 L521.68,259.16 L522.79,259.71 L523.90,260.26 L525.02,260.79 L526.14,261.31 L527.27,261.82 L528.40,262.32 L529.53,262.80 L530.68,263.27 L531.82,263.72 L532.97,264.17 L534.13,264.60 L535.28,265.03 L536.45,265.44 L537.62,265.84 L538.79,266.22 L539.96,266.60 L541.14,266.97 L542.32,267.33 L543.51,267.67 L544.70,268.01 L545.89,268.34 L547.09,268.65 L548.29,268.96 L549.49,269.26 L550.70,269.55 L551.91,269.83 L553.12,270.10 L554.33,270.37 L555.55,270.62 L556.77,270.87 L557.99,271.11 L559.21,271.35 L560.44,271.57 L561.66,271.79 L562.89,272.00 L564.12,272.21 L565.36,272.40 L566.59,272.60 L567.83,272.78 L569.06,272.96 L570.30,273.14 L571.54,273.30 L572.78,273.47 L574.02,273.63 L575.26,273.78 L576.50,273.93 L577.75,274.07 L578.99,274.21 L580.23,274.35 L581.48,274.48 L582.72,274.61 L583.97,274.73 L585.21,274.85 L586.45,274.97 L587.70,275.09 L588.94,275.20 L590.18,275.31 L591.42,275.42 L592.66,275.52 L593.90,275.63 L595.14,275.73 L596.38,275.83 L597.62,275.93 L598.85,276.03 L600.09,276.12 L601.32,276.22 L602.55,276.32 L603.78,276.41 L605.01,276.51 L606.23,276.60 L607.46,276.70 L608.68,276.80 L609.90,276.89" fill="none" stroke="#d43b47" stroke-width="1.3" stroke-dasharray="3.6,3.8"/><path d="M336.11,214.20 L337.21,214.53 L338.33,214.90 L339.48,215.29 L340.64,215.71 L341.83,216.14 L343.03,216.59 L344.25,217.05 L345.48,217.52 L346.73,217.99 L347.99,218.45 L349.26,218.91 L350.54,219.36 L351.83,219.80 L353.12,220.21 L354.41,220.61 L355.71,220.97 L357.01,221.30 L358.31,221.60 L359.61,221.86 L360.90,222.07 L362.19,222.23 L363.47,222.34 L364.74,222.40 L366.01,222.39 L367.26,222.32 L368.50,222.18 L369.72,221.98 L370.93,221.72 L372.13,221.40 L373.32,221.03 L374.48,220.60 L375.64,220.12 L376.77,219.59 L377.89,219.02 L379.00,218.40 L380.08,217.73 L381.14,217.03 L382.19,216.29 L383.22,215.51 L384.22,214.70 L385.21,213.86 L386.17,212.99 L387.11,212.09 L388.03,211.16 L388.93,210.22 L389.80,209.25 L390.65,208.26 L391.47,207.26 L392.27,206.25 L393.04,205.22 L393.80,204.17 L394.54,203.12 L395.26,202.06 L395.96,200.98 L396.65,199.90 L397.32,198.80 L397.99,197.71 L398.64,196.60 L399.29,195.49 L399.93,194.38 L400.56,193.27 L401.19,192.15 L401.82,191.03 L402.45,189.91 L403.08,188.80 L403.71,187.68 L404.34,186.57 L404.98,185.46 L405.63,184.36 L406.29,183.27 L406.95,182.18 L407.63,181.10 L408.32,180.03 L409.03,178.97 L409.75,177.92 L410.49,176.88 L411.25,175.86 L412.03,174.85 L412.84,173.85 L413.66,172.87 L414.51,171.91 L415.37,170.96 L416.25,170.01 L417.14,169.08 L418.05,168.16 L418.96,167.24 L419.88,166.32 L420.79,165.41 L421.71,164.49 L422.63,163.58 L423.54,162.67 L424.45,161.74 L425.34,160.82 L426.22,159.89 L427.09,158.94 L427.94,157.99 L428.77,157.02 L429.57,156.04 L430.35,155.05 L431.10,154.03 L431.82,153.00 L432.51,151.95 L433.17,150.87 L433.79,149.78 L434.38,148.66 L434.94,147.53 L435.48,146.38 L436.00,145.22 L436.49,144.04 L436.96,142.85 L437.41,141.64 L437.85,140.43 L438.27,139.21 L438.68,137.98 L439.08,136.74 L439.47,135.49 L439.85,134.24 L440.23,132.99 L440.61,131.73 L440.99,130.48 L441.36,129.22 L441.75,127.97 L442.13,126.71 L442.52,125.46 L442.92,124.22 L443.33,122.98 L443.74,121.74 L444.16,120.50 L444.59,119.27 L445.02,118.05 L445.46,116.82 L445.90,115.60 L446.34,114.38 L446.79,113.17 L447.24,111.96 L447.69,110.75 L448.15,109.55 L448.61,108.34 L449.07,107.14 L449.54,105.95 L450.00,104.75 L450.46,103.56 L450.93,102.37 L451.39,101.19 L451.86,100.00 L452.32,98.82 L452.78,97.64 L453.25,96.46 L453.70,95.29 L454.16,94.12 L454.61,92.95 L455.06,91.78 L455.51,90.61 L455.96,89.44 L456.40,88.27 L456.84,87.10 L457.27,85.93 L457.71,84.76 L458.14,83.58 L458.56,82.41 L458.99,81.23 L459.40,80.04 L459.82,78.85 L460.23,77.66 L460.64,76.46 L461.04,75.26 L461.44,74.05 L461.84,72.83 L462.23,71.61 L462.62,70.38 L463.01,69.14 L463.39,67.90 L463.78,66.66 L464.16,65.41 L464.55,64.15 L464.94,62.90 L465.33,61.64 L465.73,60.39 L466.13,59.14 L466.54,57.89 L466.96,56.64 L467.39,55.40 L467.83,54.16 L468.28,52.92 L468.75,51.70 L469.23,50.48 L469.72,49.27 L470.23,48.07 L470.76,46.88 L471.30,45.70 L471.86,44.53 L472.45,43.38 L473.05,42.24 L473.68,41.12 L474.33,40.01 L475.01,38.92 L475.71,37.85 L476.44,36.79 L477.20,35.76 L477.99,34.74 L478.80,33.75 L479.65,32.78 L480.53,31.84 L481.44,30.92 L482.39,30.05 L483.35,29.25 L484.34,28.53 L485.35,27.92 L486.37,27.43 L487.40,27.09 L488.44,26.91 L489.48,26.91 L490.52,27.10 L491.55,27.45 L492.57,27.95 L493.58,28.58 L494.56,29.32 L495.52,30.16 L496.45,31.07 L497.35,32.05 L498.21,33.06 L499.03,34.11 L499.81,35.18 L500.55,36.28 L501.26,37.40 L501.95,38.54 L502.60,39.70 L503.23,40.87 L503.84,42.06 L504.43,43.25 L505.00,44.46 L505.56,45.67 L506.11,46.88 L506.65,48.09 L507.19,49.29 L507.72,50.50 L508.26,51.69 L508.79,52.88 L509.32,54.07 L509.85,55.25 L510.38,56.42 L510.91,57.60 L511.44,58.76 L511.96,59.93 L512.49,61.09 L513.01,62.25 L513.53,63.40 L514.05,64.56 L514.57,65.72 L515.09,66.87 L515.60,68.02 L516.11,69.18 L516.62,70.34 L517.13,71.49 L517.64,72.65 L518.14,73.81 L518.65,74.98 L519.15,76.14 L519.65,77.30 L520.14,78.47 L520.64,79.64 L521.13,80.81 L521.62,81.98 L522.11,83.15 L522.60,84.32 L523.09,85.50 L523.58,86.67 L524.07,87.85 L524.55,89.02 L525.04,90.20 L525.52,91.38 L526.01,92.56 L526.49,93.74 L526.97,94.92 L527.45,96.10 L527.94,97.28 L528.42,98.46 L528.90,99.64 L529.38,100.83 L529.87,102.01 L530.35,103.19 L530.83,104.38 L531.32,105.56 L531.80,106.74 L532.28,107.93 L532.77,109.11 L533.25,110.29 L533.74,111.48 L534.23,112.66 L534.72,113.85 L535.21,115.03 L535.70,116.21 L536.19,117.39 L536.69,118.58 L537.18,119.76 L537.68,120.94 L538.18,122.12 L538.68,123.30 L539.18,124.48 L539.69,125.66 L540.20,126.83 L540.71,128.01 L541.22,129.19 L541.73,130.36 L542.25,131.53 L542.77,132.71 L543.29,133.88 L543.81,135.05 L544.34,136.22 L544.87,137.39 L545.40,138.55 L545.94,139.72 L546.48,140.88 L547.02,142.05 L547.57,143.21 L548.12,144.37 L548.67,145.52 L549.23,146.68 L549.79,147.84 L550.35,148.99 L550.92,150.14 L551.49,151.29 L552.07,152.43 L552.65,153.58 L553.24,154.72 L553.83,155.86 L554.42,157.00 L555.02,158.14 L555.62,159.27 L556.23,160.40 L556.84,161.53 L557.46,162.66 L558.08,163.78 L558.71,164.91 L559.35,166.03 L559.99,167.14 L560.63,168.26 L561.28,169.37 L561.93,170.47 L562.60,171.58 L563.26,172.68 L563.93,173.77 L564.61,174.87 L565.30,175.96 L565.99,177.04 L566.68,178.12 L567.39,179.20 L568.09,180.27 L568.81,181.34 L569.53,182.40 L570.26,183.46 L570.99,184.51 L571.73,185.56 L572.48,186.60 L573.24,187.63 L574.00,188.67 L574.76,189.69 L575.54,190.71 L576.32,191.72 L577.11,192.73 L577.91,193.73 L578.71,194.72 L579.52,195.71 L580.34,196.69 L581.17,197.67 L582.00,198.63 L582.84,199.59 L583.69,200.54 L584.55,201.49 L585.41,202.43 L586.29,203.36 L587.17,204.28 L588.06,205.19 L588.95,206.10 L589.86,206.99 L590.77,207.88 L591.70,208.76 L592.63,209.63 L593.57,210.50 L594.51,211.35 L595.47,212.19 L596.44,213.03 L597.41,213.85 L598.40,214.67 L599.39,215.47 L600.39,216.27 L601.40,217.06 L602.42,217.83 L603.45,218.60 L604.49,219.35 L605.54,220.10 L606.60,220.83 L607.66,221.56 L608.74,222.27 L609.83,222.97" fill="none" stroke="#3434b8" stroke-width="1.3"/><path d="M336.12,228.73 L337.26,229.00 L338.40,229.28 L339.56,229.56 L340.72,229.84 L341.90,230.12 L343.08,230.40 L344.27,230.67 L345.46,230.94 L346.66,231.21 L347.87,231.47 L349.09,231.72 L350.31,231.96 L351.53,232.19 L352.75,232.41 L353.98,232.62 L355.22,232.82 L356.45,233.00 L357.69,233.17 L358.92,233.32 L360.16,233.45 L361.40,233.56 L362.63,233.66 L363.87,233.73 L365.10,233.78 L366.33,233.81 L367.56,233.81 L368.79,233.79 L370.01,233.74 L371.22,233.66 L372.43,233.56 L373.64,233.42 L374.84,233.25 L376.03,233.05 L377.21,232.82 L378.39,232.55 L379.56,232.25 L380.72,231.91 L381.87,231.53 L383.00,231.11 L384.14,230.66 L385.26,230.18 L386.37,229.67 L387.47,229.13 L388.57,228.56 L389.65,227.97 L390.73,227.36 L391.80,226.73 L392.87,226.08 L393.92,225.42 L394.97,224.74 L396.01,224.05 L397.05,223.36 L398.08,222.66 L399.10,221.96 L400.13,221.27 L401.16,220.58 L402.18,219.91 L403.21,219.25 L404.25,218.61 L405.29,218.00 L406.34,217.42 L407.40,216.86 L408.47,216.35 L409.55,215.87 L410.64,215.44 L411.76,215.06 L412.88,214.73 L414.03,214.45 L415.19,214.22 L416.37,214.04 L417.56,213.91 L418.77,213.80 L419.98,213.73 L421.21,213.69 L422.44,213.67 L423.68,213.66 L424.92,213.67 L426.17,213.69 L427.42,213.70 L428.67,213.72 L429.91,213.73 L431.16,213.73 L432.40,213.71 L433.64,213.67 L434.87,213.60 L436.08,213.50 L437.29,213.37 L438.49,213.20 L439.68,212.98 L440.85,212.71 L442.00,212.39 L443.15,212.03 L444.27,211.63 L445.39,211.18 L446.49,210.70 L447.57,210.17 L448.65,209.61 L449.71,209.01 L450.75,208.38 L451.79,207.72 L452.81,207.03 L453.82,206.31 L454.81,205.56 L455.79,204.79 L456.76,204.00 L457.72,203.19 L458.67,202.36 L459.62,201.52 L460.56,200.67 L461.50,199.82 L462.44,198.97 L463.39,198.13 L464.34,197.29 L465.30,196.47 L466.28,195.67 L467.26,194.88 L468.27,194.13 L469.29,193.40 L470.33,192.70 L471.40,192.05 L472.48,191.43 L473.59,190.86 L474.71,190.34 L475.84,189.87 L476.98,189.46 L478.13,189.10 L479.28,188.81 L480.44,188.59 L481.60,188.43 L482.75,188.34 L483.91,188.32 L485.07,188.35 L486.22,188.44 L487.37,188.58 L488.52,188.78 L489.67,189.03 L490.81,189.33 L491.95,189.67 L493.08,190.06 L494.21,190.48 L495.34,190.95 L496.45,191.45 L497.56,191.98 L498.67,192.55 L499.76,193.14 L500.85,193.77 L501.93,194.41 L503.00,195.08 L504.06,195.76 L505.11,196.47 L506.15,197.18 L507.18,197.91 L508.20,198.65 L509.21,199.40 L510.20,200.15 L511.19,200.91 L512.16,201.68 L513.12,202.45 L514.08,203.23 L515.03,204.01 L515.97,204.80 L516.90,205.59 L517.83,206.39 L518.75,207.18 L519.66,207.98 L520.58,208.79 L521.48,209.59 L522.39,210.40 L523.29,211.21 L524.19,212.02 L525.09,212.83 L525.99,213.64 L526.89,214.45 L527.79,215.25 L528.69,216.06 L529.59,216.86 L530.50,217.66 L531.40,218.46 L532.31,219.26 L533.23,220.05 L534.15,220.84 L535.08,221.62 L536.01,222.40 L536.95,223.18 L537.89,223.95 L538.84,224.71 L539.79,225.47 L540.75,226.23 L541.72,226.98 L542.69,227.72 L543.66,228.46 L544.64,229.19 L545.63,229.92 L546.62,230.64 L547.61,231.36 L548.61,232.07 L549.62,232.77 L550.63,233.47 L551.64,234.16 L552.66,234.84 L553.69,235.52 L554.72,236.19 L555.75,236.85 L556.79,237.51 L557.83,238.16 L558.88,238.81 L559.93,239.44 L560.99,240.07 L562.05,240.69 L563.11,241.31 L564.18,241.91 L565.26,242.51 L566.33,243.10 L567.42,243.68 L568.50,244.26 L569.59,244.82 L570.68,245.38 L571.78,245.93 L572.88,246.47 L573.99,247.00 L575.10,247.53 L576.21,248.04 L577.33,248.55 L578.45,249.04 L579.57,249.53 L580.70,250.01 L581.83,250.48 L582.96,250.94 L584.10,251.39 L585.24,251.83 L586.38,252.26 L587.53,252.68 L588.68,253.09 L589.83,253.49 L590.98,253.88 L592.14,254.26 L593.31,254.63 L594.47,254.99 L595.64,255.33 L596.81,255.67 L597.98,256.00 L599.16,256.31 L600.34,256.61 L601.52,256.91 L602.70,257.19 L603.89,257.46 L605.07,257.72 L606.27,257.96 L607.46,258.20 L608.65,258.42 L609.85,258.63" fill="none" stroke="#3434b8" stroke-width="1.3" stroke-dasharray="3.6,3.8"/></g><rect x="336.30" y="1.00" width="273.60" height="282.20" fill="none" stroke="#303030" stroke-width="1.2"/><text x="336.30" y="293.90" text-anchor="middle" font-size="7.7" textLength="11.84" lengthAdjust="spacingAndGlyphs" fill="#222" stroke="#222" stroke-width="0.12">450</text><text x="366.70" y="293.90" text-anchor="middle" font-size="7.7" textLength="11.84" lengthAdjust="spacingAndGlyphs" fill="#222" stroke="#222" stroke-width="0.12">500</text><text x="397.10" y="293.90" text-anchor="middle" font-size="7.7" textLength="11.84" lengthAdjust="spacingAndGlyphs" fill="#222" stroke="#222" stroke-width="0.12">550</text><text x="427.50" y="293.90" text-anchor="middle" font-size="7.7" textLength="11.84" lengthAdjust="spacingAndGlyphs" fill="#222" stroke="#222" stroke-width="0.12">600</text><text x="457.90" y="293.90" text-anchor="middle" font-size="7.7" textLength="11.84" lengthAdjust="spacingAndGlyphs" fill="#222" stroke="#222" stroke-width="0.12">650</text><text x="488.30" y="293.90" text-anchor="middle" font-size="7.7" textLength="11.84" lengthAdjust="spacingAndGlyphs" fill="#222" stroke="#222" stroke-width="0.12">700</text><text x="518.70" y="293.90" text-anchor="middle" font-size="7.7" textLength="11.84" lengthAdjust="spacingAndGlyphs" fill="#222" stroke="#222" stroke-width="0.12">750</text><text x="549.10" y="293.90" text-anchor="middle" font-size="7.7" textLength="11.84" lengthAdjust="spacingAndGlyphs" fill="#222" stroke="#222" stroke-width="0.12">800</text><text x="579.50" y="293.90" text-anchor="middle" font-size="7.7" textLength="11.84" lengthAdjust="spacingAndGlyphs" fill="#222" stroke="#222" stroke-width="0.12">850</text><text x="609.90" y="293.90" text-anchor="middle" font-size="7.7" textLength="11.84" lengthAdjust="spacingAndGlyphs" fill="#222" stroke="#222" stroke-width="0.12">900</text><text x="333.50" y="285.60" text-anchor="end" font-size="7.7" textLength="3.95" lengthAdjust="spacingAndGlyphs" fill="#222" stroke="#222" stroke-width="0.12">0</text><text x="333.50" y="234.29" text-anchor="end" font-size="7.7" textLength="9.87" lengthAdjust="spacingAndGlyphs" fill="#222" stroke="#222" stroke-width="0.12">0.2</text><text x="333.50" y="182.98" text-anchor="end" font-size="7.7" textLength="9.87" lengthAdjust="spacingAndGlyphs" fill="#222" stroke="#222" stroke-width="0.12">0.4</text><text x="333.50" y="131.67" text-anchor="end" font-size="7.7" textLength="9.87" lengthAdjust="spacingAndGlyphs" fill="#222" stroke="#222" stroke-width="0.12">0.6</text><text x="333.50" y="80.36" text-anchor="end" font-size="7.7" textLength="9.87" lengthAdjust="spacingAndGlyphs" fill="#222" stroke="#222" stroke-width="0.12">0.8</text><text x="333.50" y="29.05" text-anchor="end" font-size="7.7" textLength="3.95" lengthAdjust="spacingAndGlyphs" fill="#222" stroke="#222" stroke-width="0.12">1</text><path d="M366.70,283.20v-3.00 M366.70,1.00v3.00 M397.10,283.20v-3.00 M397.10,1.00v3.00 M427.50,283.20v-3.00 M427.50,1.00v3.00 M457.90,283.20v-3.00 M457.90,1.00v3.00 M488.30,283.20v-3.00 M488.30,1.00v3.00 M518.70,283.20v-3.00 M518.70,1.00v3.00 M549.10,283.20v-3.00 M549.10,1.00v3.00 M579.50,283.20v-3.00 M579.50,1.00v3.00 M336.30,231.89h3.00 M609.90,231.89h-3.00 M336.30,180.58h3.00 M609.90,180.58h-3.00 M336.30,129.27h3.00 M609.90,129.27h-3.00 M336.30,77.96h3.00 M609.90,77.96h-3.00 M336.30,26.65h3.00 M609.90,26.65h-3.00" stroke="#303030" stroke-width="1" fill="none"/><text x="473.10" y="307.40" text-anchor="middle" font-size="11.6" fill="#1a1a1a" stroke="#1a1a1a" stroke-width="0.18">Wavelength (nm)</text><text transform="translate(319.00,142.10) rotate(-90)" text-anchor="middle" font-size="11.5" fill="#1a1a1a" stroke="#1a1a1a" stroke-width="0.15">Normalized Efficiency (80nm Core)@(15 nm shell)</text><text x="576.00" y="26.60" font-size="19.2" fill="#111">(b)</text><rect x="319.50" y="30.50" width="141.70" height="42.80" fill="#fff" stroke="#303030" stroke-width="1"/><path d="M321.40,36.30H335.70" stroke="#d43b47" stroke-width="1.1"/><text x="337.60" y="38.90" font-size="8.5" textLength="117.95" lengthAdjust="spacingAndGlyphs" fill="#111" stroke="#111" stroke-width="0.12">Ext without surface scattering</text><path d="M321.40,46.70H335.70" stroke="#d43b47" stroke-width="1.1" stroke-dasharray="3.6,3.8"/><text x="337.60" y="49.30" font-size="8.5" textLength="120.70" lengthAdjust="spacingAndGlyphs" fill="#111" stroke="#111" stroke-width="0.12">Abs without surface scattering</text><path d="M321.40,57.10H335.70" stroke="#3434b8" stroke-width="1.1"/><text x="337.60" y="59.70" font-size="8.5" textLength="105.11" lengthAdjust="spacingAndGlyphs" fill="#111" stroke="#111" stroke-width="0.12">Ext with surface scattering</text><path d="M321.40,67.70H335.70" stroke="#3434b8" stroke-width="1.1" stroke-dasharray="3.6,3.8"/><text x="337.60" y="70.30" font-size="8.5" textLength="107.86" lengthAdjust="spacingAndGlyphs" fill="#111" stroke="#111" stroke-width="0.12">Abs with surface scattering</text></g>
<g><clipPath id="clipc"><rect x="20.60" y="310.20" width="280.00" height="282.50"/></clipPath><g clip-path="url(#clipc)"><path d="M20.72,504.69 L21.68,505.10 L22.68,505.52 L23.71,505.94 L24.78,506.36 L25.88,506.77 L27.00,507.18 L28.15,507.58 L29.32,507.97 L30.51,508.34 L31.72,508.70 L32.95,509.04 L34.18,509.35 L35.43,509.65 L36.68,509.91 L37.94,510.14 L39.20,510.34 L40.46,510.51 L41.71,510.64 L42.96,510.72 L44.20,510.77 L45.44,510.77 L46.65,510.71 L47.86,510.61 L49.04,510.46 L50.20,510.24 L51.34,509.97 L52.46,509.64 L53.55,509.24 L54.61,508.79 L55.64,508.28 L56.65,507.71 L57.63,507.09 L58.58,506.43 L59.51,505.72 L60.42,504.96 L61.29,504.17 L62.14,503.33 L62.97,502.46 L63.77,501.56 L64.55,500.62 L65.30,499.66 L66.02,498.67 L66.72,497.66 L67.40,496.63 L68.05,495.58 L68.68,494.52 L69.28,493.44 L69.86,492.35 L70.41,491.26 L70.94,490.16 L71.45,489.05 L71.94,487.94 L72.40,486.83 L72.84,485.71 L73.27,484.59 L73.67,483.46 L74.06,482.33 L74.43,481.20 L74.79,480.06 L75.13,478.92 L75.45,477.77 L75.77,476.62 L76.07,475.47 L76.35,474.31 L76.63,473.16 L76.90,471.99 L77.16,470.83 L77.41,469.66 L77.66,468.48 L77.90,467.31 L78.13,466.13 L78.36,464.95 L78.58,463.76 L78.81,462.58 L79.03,461.39 L79.25,460.20 L79.47,459.00 L79.69,457.80 L79.92,456.61 L80.14,455.40 L80.37,454.20 L80.61,452.99 L80.85,451.79 L81.10,450.58 L81.35,449.36 L81.61,448.15 L81.89,446.94 L82.17,445.73 L82.46,444.51 L82.77,443.31 L83.09,442.10 L83.43,440.90 L83.78,439.71 L84.15,438.53 L84.54,437.35 L84.95,436.18 L85.38,435.02 L85.83,433.87 L86.31,432.74 L86.81,431.62 L87.33,430.52 L87.89,429.45 L88.49,428.43 L89.13,427.50 L89.84,426.68 L90.60,425.99 L91.44,425.46 L92.35,425.10 L93.35,424.92 L94.41,424.88 L95.52,424.96 L96.68,425.12 L97.87,425.33 L99.08,425.56 L100.31,425.77 L101.52,425.93 L102.73,426.02 L103.91,426.00 L105.05,425.85 L106.16,425.57 L107.23,425.18 L108.26,424.68 L109.24,424.09 L110.18,423.42 L111.07,422.68 L111.91,421.88 L112.70,421.02 L113.45,420.11 L114.16,419.16 L114.83,418.16 L115.47,417.13 L116.07,416.06 L116.65,414.97 L117.20,413.85 L117.72,412.71 L118.23,411.55 L118.72,410.39 L119.20,409.21 L119.67,408.03 L120.13,406.85 L120.58,405.68 L121.03,404.51 L121.47,403.34 L121.91,402.17 L122.34,401.00 L122.77,399.84 L123.19,398.68 L123.61,397.53 L124.03,396.37 L124.45,395.22 L124.86,394.07 L125.28,392.93 L125.69,391.79 L126.10,390.65 L126.51,389.51 L126.92,388.38 L127.33,387.25 L127.74,386.12 L128.15,385.00 L128.56,383.88 L128.97,382.76 L129.39,381.65 L129.81,380.54 L130.23,379.43 L130.65,378.33 L131.08,377.23 L131.51,376.13 L131.95,375.04 L132.39,373.95 L132.84,372.86 L133.29,371.78 L133.75,370.70 L134.21,369.62 L134.68,368.55 L135.16,367.49 L135.64,366.42 L136.14,365.36 L136.64,364.31 L137.15,363.25 L137.67,362.20 L138.20,361.15 L138.74,360.10 L139.29,359.04 L139.85,357.99 L140.42,356.92 L141.01,355.86 L141.61,354.78 L142.22,353.70 L142.85,352.62 L143.49,351.52 L144.15,350.41 L144.82,349.29 L145.51,348.17 L146.23,347.05 L146.96,345.94 L147.71,344.86 L148.49,343.81 L149.30,342.80 L150.14,341.84 L151.01,340.94 L151.91,340.11 L152.85,339.36 L153.83,338.70 L154.84,338.12 L155.88,337.61 L156.94,337.19 L158.03,336.84 L159.14,336.57 L160.27,336.37 L161.42,336.24 L162.57,336.18 L163.73,336.19 L164.90,336.26 L166.06,336.39 L167.23,336.58 L168.39,336.83 L169.55,337.14 L170.69,337.50 L171.82,337.91 L172.93,338.37 L174.03,338.88 L175.09,339.44 L176.14,340.03 L177.15,340.67 L178.13,341.35 L179.08,342.07 L180.01,342.82 L180.90,343.61 L181.77,344.42 L182.62,345.27 L183.44,346.15 L184.24,347.05 L185.02,347.98 L185.77,348.93 L186.51,349.91 L187.23,350.90 L187.93,351.91 L188.61,352.93 L189.28,353.97 L189.94,355.02 L190.58,356.08 L191.21,357.15 L191.83,358.23 L192.44,359.31 L193.04,360.39 L193.64,361.47 L194.22,362.56 L194.80,363.65 L195.37,364.73 L195.94,365.82 L196.50,366.91 L197.05,368.00 L197.60,369.09 L198.15,370.18 L198.69,371.27 L199.22,372.36 L199.75,373.45 L200.28,374.54 L200.80,375.63 L201.32,376.72 L201.83,377.81 L202.34,378.90 L202.85,380.00 L203.36,381.09 L203.86,382.18 L204.37,383.27 L204.87,384.36 L205.37,385.45 L205.87,386.54 L206.37,387.62 L206.86,388.71 L207.36,389.80 L207.86,390.89 L208.36,391.97 L208.86,393.06 L209.36,394.14 L209.86,395.22 L210.36,396.31 L210.87,397.39 L211.37,398.47 L211.88,399.55 L212.39,400.62 L212.91,401.70 L213.43,402.77 L213.95,403.85 L214.48,404.92 L215.00,405.99 L215.54,407.06 L216.08,408.12 L216.62,409.19 L217.17,410.25 L217.72,411.31 L218.28,412.37 L218.85,413.43 L219.42,414.48 L219.99,415.54 L220.56,416.59 L221.15,417.64 L221.73,418.69 L222.32,419.74 L222.91,420.79 L223.51,421.84 L224.10,422.88 L224.71,423.93 L225.31,424.97 L225.92,426.01 L226.53,427.05 L227.14,428.09 L227.75,429.13 L228.37,430.17 L228.99,431.21 L229.61,432.25 L230.23,433.28 L230.85,434.32 L231.48,435.36 L232.10,436.39 L232.73,437.43 L233.35,438.46 L233.98,439.50 L234.61,440.53 L235.24,441.57 L235.87,442.60 L236.50,443.63 L237.13,444.66 L237.77,445.69 L238.40,446.72 L239.04,447.75 L239.68,448.78 L240.32,449.81 L240.96,450.83 L241.60,451.86 L242.25,452.88 L242.89,453.90 L243.54,454.92 L244.19,455.94 L244.85,456.96 L245.50,457.98 L246.16,458.99 L246.82,460.00 L247.48,461.01 L248.14,462.02 L248.81,463.03 L249.48,464.04 L250.15,465.04 L250.82,466.04 L251.50,467.04 L252.18,468.04 L252.86,469.03 L253.55,470.02 L254.23,471.01 L254.93,472.00 L255.62,472.98 L256.32,473.97 L257.02,474.94 L257.72,475.92 L258.43,476.89 L259.14,477.87 L259.86,478.83 L260.58,479.80 L261.30,480.76 L262.03,481.72 L262.76,482.67 L263.49,483.63 L264.23,484.57 L264.97,485.52 L265.72,486.46 L266.47,487.40 L267.22,488.34 L267.98,489.27 L268.74,490.19 L269.51,491.12 L270.28,492.04 L271.06,492.95 L271.84,493.86 L272.63,494.77 L273.42,495.68 L274.21,496.58 L275.01,497.47 L275.82,498.36 L276.63,499.25 L277.45,500.13 L278.27,501.01 L279.09,501.88 L279.93,502.75 L280.76,503.61 L281.61,504.47 L282.45,505.32 L283.31,506.17 L284.17,507.02 L285.03,507.86 L285.90,508.69 L286.78,509.52 L287.66,510.34 L288.55,511.16 L289.45,511.97 L290.35,512.78 L291.26,513.58 L292.17,514.38 L293.09,515.17 L294.02,515.96 L294.95,516.74 L295.89,517.51 L296.84,518.28 L297.79,519.04 L298.76,519.79 L299.72,520.54 L300.70,521.29" fill="none" stroke="#d43b47" stroke-width="1.3"/><path d="M20.60,529.70 L22.06,529.97 L23.52,530.25 L24.97,530.52 L26.42,530.79 L27.87,531.06 L29.32,531.32 L30.77,531.58 L32.22,531.83 L33.67,532.07 L35.12,532.30 L36.58,532.52 L38.03,532.73 L39.49,532.92 L40.96,533.10 L42.42,533.26 L43.90,533.41 L45.37,533.53 L46.86,533.64 L48.35,533.72 L49.85,533.78 L51.35,533.81 L52.87,533.82 L54.38,533.79 L55.88,533.71 L57.37,533.56 L58.83,533.33 L60.25,533.00 L61.63,532.57 L62.95,532.02 L64.20,531.33 L65.39,530.51 L66.53,529.57 L67.61,528.52 L68.65,527.39 L69.66,526.20 L70.63,524.95 L71.59,523.67 L72.54,522.37 L73.48,521.06 L74.42,519.77 L75.37,518.51 L76.34,517.30 L77.33,516.16 L78.36,515.09 L79.43,514.12 L80.54,513.27 L81.71,512.54 L82.93,511.98 L84.16,511.62 L85.40,511.49 L86.62,511.64 L87.81,512.07 L88.95,512.75 L90.06,513.63 L91.13,514.65 L92.16,515.78 L93.14,516.96 L94.08,518.17 L94.98,519.39 L95.85,520.64 L96.68,521.90 L97.48,523.17 L98.26,524.46 L99.01,525.75 L99.73,527.06 L100.45,528.38 L101.14,529.70 L101.82,531.03 L102.50,532.36 L103.17,533.69 L103.83,535.03 L104.49,536.36 L105.16,537.69 L105.84,539.01 L106.52,540.33 L107.21,541.64 L107.92,542.94 L108.65,544.23 L109.40,545.50 L110.17,546.77 L110.97,548.01 L111.80,549.24 L112.66,550.45 L113.56,551.64 L114.49,552.80 L115.46,553.94 L116.46,555.05 L117.49,556.12 L118.56,557.16 L119.65,558.16 L120.78,559.12 L121.95,560.04 L123.14,560.91 L124.37,561.73 L125.62,562.51 L126.91,563.23 L128.22,563.90 L129.55,564.53 L130.91,565.12 L132.28,565.67 L133.68,566.19 L135.08,566.66 L136.50,567.11 L137.92,567.53 L139.35,567.92 L140.78,568.28 L142.22,568.63 L143.66,568.95 L145.11,569.25 L146.56,569.53 L148.01,569.79 L149.46,570.04 L150.92,570.27 L152.38,570.48 L153.84,570.69 L155.30,570.88 L156.77,571.06 L158.24,571.23 L159.71,571.39 L161.18,571.54 L162.65,571.69 L164.12,571.84 L165.59,571.98 L167.06,572.12 L168.53,572.26 L170.01,572.40 L171.48,572.55 L172.95,572.69 L174.42,572.84 L175.89,573.00 L177.36,573.16 L178.83,573.34 L180.30,573.51 L181.76,573.70 L183.23,573.89 L184.69,574.08 L186.16,574.29 L187.62,574.49 L189.08,574.70 L190.54,574.92 L192.00,575.14 L193.46,575.36 L194.92,575.59 L196.38,575.82 L197.84,576.06 L199.30,576.29 L200.76,576.53 L202.22,576.77 L203.67,577.01 L205.13,577.26 L206.59,577.50 L208.04,577.75 L209.50,577.99 L210.96,578.24 L212.42,578.48 L213.87,578.72 L215.33,578.97 L216.79,579.21 L218.25,579.45 L219.70,579.69 L221.16,579.92 L222.62,580.15 L224.08,580.38 L225.54,580.61 L227.00,580.83 L228.46,581.05 L229.92,581.26 L231.38,581.47 L232.84,581.68 L234.31,581.88 L235.77,582.07 L237.24,582.26 L238.70,582.44 L240.17,582.61 L241.64,582.78 L243.11,582.94 L244.57,583.10 L246.04,583.25 L247.51,583.40 L248.99,583.54 L250.46,583.67 L251.93,583.80 L253.40,583.93 L254.88,584.05 L256.35,584.17 L257.83,584.28 L259.30,584.39 L260.78,584.50 L262.25,584.61 L263.73,584.71 L265.20,584.80 L266.68,584.90 L268.15,584.99 L269.63,585.08 L271.11,585.17 L272.58,585.25 L274.06,585.34 L275.54,585.42 L277.01,585.50 L278.49,585.58 L279.97,585.66 L281.44,585.74 L282.92,585.82 L284.39,585.90 L285.87,585.98 L287.34,586.06 L288.82,586.14 L290.29,586.22 L291.77,586.30 L293.24,586.38 L294.71,586.46 L296.19,586.54 L297.66,586.63 L299.13,586.72 L300.60,586.81" fill="none" stroke="#d43b47" stroke-width="1.3" stroke-dasharray="3.6,3.8"/><path d="M20.65,501.70 L21.80,502.10 L22.95,502.52 L24.12,502.95 L25.30,503.39 L26.49,503.83 L27.69,504.26 L28.90,504.69 L30.11,505.11 L31.34,505.51 L32.57,505.89 L33.81,506.24 L35.05,506.56 L36.31,506.85 L37.57,507.09 L38.83,507.29 L40.10,507.43 L41.37,507.52 L42.65,507.55 L43.93,507.52 L45.21,507.42 L46.49,507.27 L47.75,507.07 L49.01,506.80 L50.26,506.49 L51.49,506.12 L52.71,505.70 L53.90,505.24 L55.07,504.72 L56.22,504.16 L57.33,503.55 L58.41,502.91 L59.46,502.22 L60.46,501.49 L61.43,500.72 L62.35,499.91 L63.24,499.07 L64.08,498.19 L64.88,497.28 L65.65,496.34 L66.38,495.37 L67.08,494.37 L67.75,493.34 L68.38,492.29 L68.99,491.21 L69.57,490.11 L70.12,488.99 L70.65,487.85 L71.16,486.68 L71.65,485.50 L72.11,484.31 L72.56,483.09 L73.00,481.87 L73.41,480.63 L73.82,479.38 L74.21,478.13 L74.60,476.86 L74.97,475.59 L75.34,474.31 L75.71,473.03 L76.07,471.75 L76.43,470.47 L76.78,469.18 L77.14,467.90 L77.51,466.62 L77.87,465.35 L78.24,464.08 L78.63,462.82 L79.01,461.56 L79.41,460.32 L79.83,459.09 L80.25,457.87 L80.70,456.67 L81.15,455.48 L81.63,454.31 L82.13,453.16 L82.65,452.03 L83.19,450.91 L83.76,449.83 L84.35,448.76 L84.98,447.72 L85.63,446.71 L86.31,445.72 L87.03,444.76 L87.78,443.84 L88.56,442.94 L89.38,442.07 L90.23,441.24 L91.13,440.44 L92.06,439.67 L93.03,438.94 L94.04,438.24 L95.08,437.56 L96.15,436.90 L97.23,436.26 L98.34,435.63 L99.45,435.01 L100.57,434.39 L101.69,433.77 L102.81,433.14 L103.93,432.51 L105.03,431.86 L106.12,431.19 L107.19,430.50 L108.24,429.79 L109.26,429.05 L110.26,428.28 L111.22,427.47 L112.15,426.63 L113.05,425.75 L113.92,424.84 L114.75,423.90 L115.55,422.94 L116.33,421.94 L117.08,420.93 L117.80,419.89 L118.50,418.83 L119.18,417.76 L119.83,416.68 L120.46,415.58 L121.07,414.47 L121.66,413.35 L122.24,412.22 L122.80,411.08 L123.34,409.94 L123.87,408.79 L124.39,407.63 L124.89,406.47 L125.39,405.30 L125.88,404.12 L126.36,402.95 L126.83,401.77 L127.30,400.58 L127.77,399.40 L128.23,398.21 L128.70,397.03 L129.16,395.84 L129.62,394.66 L130.09,393.47 L130.56,392.29 L131.04,391.11 L131.52,389.94 L132.01,388.77 L132.51,387.60 L133.03,386.44 L133.55,385.29 L134.08,384.14 L134.63,383.00 L135.20,381.86 L135.78,380.74 L136.38,379.63 L137.00,378.52 L137.64,377.43 L138.30,376.34 L138.99,375.27 L139.70,374.22 L140.43,373.17 L141.20,372.14 L141.99,371.12 L142.81,370.12 L143.66,369.14 L144.54,368.17 L145.46,367.22 L146.40,366.29 L147.38,365.39 L148.38,364.51 L149.40,363.67 L150.45,362.86 L151.51,362.09 L152.60,361.36 L153.70,360.67 L154.82,360.04 L155.95,359.46 L157.10,358.93 L158.25,358.46 L159.41,358.05 L160.57,357.70 L161.74,357.43 L162.91,357.22 L164.08,357.10 L165.24,357.05 L166.40,357.08 L167.56,357.19 L168.71,357.40 L169.85,357.68 L170.98,358.03 L172.10,358.46 L173.22,358.95 L174.32,359.50 L175.41,360.11 L176.49,360.77 L177.55,361.48 L178.61,362.23 L179.64,363.02 L180.67,363.84 L181.68,364.68 L182.67,365.55 L183.65,366.44 L184.61,367.34 L185.56,368.26 L186.48,369.18 L187.39,370.11 L188.29,371.05 L189.17,371.99 L190.03,372.95 L190.88,373.92 L191.72,374.89 L192.55,375.87 L193.36,376.85 L194.16,377.85 L194.95,378.85 L195.72,379.85 L196.49,380.86 L197.25,381.88 L197.99,382.90 L198.73,383.93 L199.46,384.96 L200.18,386.00 L200.90,387.04 L201.61,388.09 L202.31,389.14 L203.00,390.19 L203.69,391.24 L204.38,392.30 L205.06,393.36 L205.74,394.42 L206.41,395.48 L207.09,396.55 L207.76,397.62 L208.43,398.68 L209.09,399.75 L209.76,400.82 L210.43,401.89 L211.10,402.96 L211.76,404.02 L212.43,405.09 L213.11,406.16 L213.78,407.22 L214.46,408.28 L215.14,409.34 L215.82,410.40 L216.51,411.46 L217.20,412.52 L217.89,413.57 L218.58,414.63 L219.27,415.68 L219.97,416.73 L220.67,417.78 L221.38,418.83 L222.08,419.88 L222.79,420.92 L223.50,421.97 L224.21,423.01 L224.93,424.05 L225.65,425.09 L226.36,426.13 L227.09,427.16 L227.81,428.20 L228.54,429.23 L229.27,430.26 L230.00,431.29 L230.73,432.32 L231.47,433.35 L232.21,434.38 L232.95,435.40 L233.69,436.43 L234.44,437.45 L235.18,438.47 L235.93,439.49 L236.68,440.51 L237.44,441.52 L238.19,442.54 L238.95,443.55 L239.71,444.56 L240.47,445.57 L241.24,446.58 L242.00,447.59 L242.77,448.60 L243.54,449.60 L244.31,450.60 L245.09,451.61 L245.86,452.61 L246.64,453.61 L247.42,454.60 L248.20,455.60 L248.99,456.59 L249.77,457.59 L250.56,458.58 L251.35,459.57 L252.14,460.56 L252.94,461.55 L253.73,462.53 L254.53,463.52 L255.33,464.50 L256.13,465.48 L256.93,466.46 L257.73,467.44 L258.54,468.42 L259.35,469.39 L260.16,470.37 L260.97,471.34 L261.78,472.31 L262.60,473.28 L263.41,474.25 L264.23,475.22 L265.05,476.18 L265.87,477.15 L266.69,478.11 L267.52,479.07 L268.34,480.03 L269.17,480.99 L270.00,481.95 L270.83,482.90 L271.66,483.86 L272.49,484.81 L273.33,485.76 L274.16,486.71 L275.00,487.66 L275.84,488.60 L276.68,489.55 L277.52,490.49 L278.37,491.44 L279.21,492.38 L280.06,493.32 L280.90,494.26 L281.75,495.19 L282.60,496.13 L283.45,497.06 L284.31,497.99 L285.16,498.93 L286.02,499.85 L286.87,500.78 L287.73,501.71 L288.59,502.63 L289.45,503.56 L290.31,504.48 L291.17,505.40 L292.03,506.32 L292.90,507.24 L293.76,508.16 L294.63,509.07 L295.50,509.98 L296.37,510.90 L297.24,511.81 L298.11,512.72 L298.98,513.62 L299.85,514.53 L300.73,515.44" fill="none" stroke="#3434b8" stroke-width="1.3"/><path d="M20.61,529.01 L22.02,529.02 L23.45,529.07 L24.89,529.15 L26.35,529.26 L27.83,529.40 L29.31,529.55 L30.81,529.72 L32.31,529.90 L33.83,530.08 L35.34,530.26 L36.86,530.44 L38.38,530.60 L39.90,530.75 L41.42,530.88 L42.94,530.99 L44.45,531.06 L45.95,531.11 L47.45,531.11 L48.93,531.07 L50.40,530.98 L51.86,530.84 L53.30,530.64 L54.73,530.38 L56.14,530.07 L57.54,529.71 L58.92,529.29 L60.29,528.83 L61.64,528.31 L62.98,527.75 L64.31,527.13 L65.62,526.48 L66.91,525.77 L68.20,525.03 L69.47,524.24 L70.72,523.42 L71.96,522.55 L73.19,521.65 L74.41,520.70 L75.61,519.73 L76.80,518.72 L77.99,517.71 L79.18,516.73 L80.39,515.82 L81.64,515.02 L82.92,514.37 L84.26,513.90 L85.67,513.66 L87.14,513.67 L88.64,513.90 L90.13,514.32 L91.56,514.92 L92.90,515.65 L94.11,516.50 L95.20,517.44 L96.20,518.48 L97.12,519.58 L97.97,520.75 L98.78,521.96 L99.56,523.22 L100.33,524.50 L101.10,525.79 L101.91,527.08 L102.75,528.37 L103.64,529.63 L104.58,530.87 L105.56,532.09 L106.58,533.28 L107.64,534.43 L108.73,535.55 L109.84,536.63 L110.99,537.66 L112.16,538.65 L113.34,539.59 L114.55,540.48 L115.77,541.32 L117.01,542.11 L118.27,542.85 L119.54,543.55 L120.83,544.21 L122.13,544.82 L123.45,545.40 L124.78,545.94 L126.13,546.44 L127.49,546.91 L128.86,547.34 L130.24,547.74 L131.63,548.11 L133.04,548.45 L134.45,548.76 L135.88,549.05 L137.31,549.31 L138.75,549.55 L140.20,549.77 L141.66,549.97 L143.12,550.15 L144.60,550.32 L146.07,550.47 L147.56,550.60 L149.04,550.73 L150.53,550.84 L152.03,550.94 L153.53,551.04 L155.03,551.13 L156.54,551.22 L158.04,551.31 L159.55,551.39 L161.06,551.47 L162.56,551.56 L164.07,551.65 L165.58,551.74 L167.08,551.85 L168.58,551.95 L170.08,552.07 L171.58,552.20 L173.07,552.35 L174.56,552.51 L176.05,552.68 L177.53,552.87 L179.00,553.08 L180.47,553.30 L181.93,553.54 L183.39,553.80 L184.85,554.07 L186.30,554.35 L187.74,554.65 L189.19,554.96 L190.63,555.29 L192.06,555.62 L193.50,555.97 L194.93,556.32 L196.35,556.69 L197.78,557.06 L199.20,557.44 L200.62,557.83 L202.04,558.23 L203.46,558.63 L204.87,559.04 L206.29,559.45 L207.70,559.87 L209.11,560.29 L210.52,560.71 L211.94,561.14 L213.35,561.56 L214.76,561.99 L216.17,562.42 L217.58,562.85 L218.99,563.27 L220.41,563.70 L221.82,564.12 L223.24,564.54 L224.65,564.95 L226.07,565.37 L227.49,565.77 L228.92,566.17 L230.34,566.57 L231.77,566.95 L233.20,567.33 L234.63,567.70 L236.07,568.07 L237.51,568.42 L238.95,568.76 L240.40,569.09 L241.85,569.42 L243.30,569.73 L244.76,570.03 L246.22,570.33 L247.68,570.62 L249.14,570.89 L250.61,571.17 L252.08,571.43 L253.55,571.69 L255.02,571.94 L256.49,572.18 L257.97,572.42 L259.45,572.65 L260.92,572.88 L262.40,573.10 L263.88,573.32 L265.36,573.53 L266.84,573.74 L268.32,573.95 L269.80,574.15 L271.28,574.35 L272.76,574.55 L274.24,574.74 L275.72,574.94 L277.20,575.13 L278.67,575.32 L280.15,575.51 L281.62,575.71 L283.10,575.90 L284.57,576.09 L286.04,576.28 L287.50,576.47 L288.97,576.67 L290.43,576.86 L291.89,577.06 L293.35,577.26 L294.80,577.47 L296.26,577.67 L297.70,577.88 L299.15,578.10 L300.59,578.32" fill="none" stroke="#3434b8" stroke-width="1.3" stroke-dasharray="3.6,3.8"/></g><rect x="20.60" y="310.20" width="280.00" height="282.50" fill="none" stroke="#303030" stroke-width="1.2"/><text x="20.60" y="603.40" text-anchor="middle" font-size="7.7" textLength="11.84" lengthAdjust="spacingAndGlyphs" fill="#222" stroke="#222" stroke-width="0.12">450</text><text x="51.71" y="603.40" text-anchor="middle" font-size="7.7" textLength="11.84" lengthAdjust="spacingAndGlyphs" fill="#222" stroke="#222" stroke-width="0.12">500</text><text x="82.82" y="603.40" text-anchor="middle" font-size="7.7" textLength="11.84" lengthAdjust="spacingAndGlyphs" fill="#222" stroke="#222" stroke-width="0.12">550</text><text x="113.93" y="603.40" text-anchor="middle" font-size="7.7" textLength="11.84" lengthAdjust="spacingAndGlyphs" fill="#222" stroke="#222" stroke-width="0.12">600</text><text x="145.04" y="603.40" text-anchor="middle" font-size="7.7" textLength="11.84" lengthAdjust="spacingAndGlyphs" fill="#222" stroke="#222" stroke-width="0.12">650</text><text x="176.16" y="603.40" text-anchor="middle" font-size="7.7" textLength="11.84" lengthAdjust="spacingAndGlyphs" fill="#222" stroke="#222" stroke-width="0.12">700</text><text x="207.27" y="603.40" text-anchor="middle" font-size="7.7" textLength="11.84" lengthAdjust="spacingAndGlyphs" fill="#222" stroke="#222" stroke-width="0.12">750</text><text x="238.38" y="603.40" text-anchor="middle" font-size="7.7" textLength="11.84" lengthAdjust="spacingAndGlyphs" fill="#222" stroke="#222" stroke-width="0.12">800</text><text x="269.49" y="603.40" text-anchor="middle" font-size="7.7" textLength="11.84" lengthAdjust="spacingAndGlyphs" fill="#222" stroke="#222" stroke-width="0.12">850</text><text x="300.60" y="603.40" text-anchor="middle" font-size="7.7" textLength="11.84" lengthAdjust="spacingAndGlyphs" fill="#222" stroke="#222" stroke-width="0.12">900</text><text x="17.80" y="595.10" text-anchor="end" font-size="7.7" textLength="3.95" lengthAdjust="spacingAndGlyphs" fill="#222" stroke="#222" stroke-width="0.12">0</text><text x="17.80" y="556.45" text-anchor="end" font-size="7.7" textLength="3.95" lengthAdjust="spacingAndGlyphs" fill="#222" stroke="#222" stroke-width="0.12">1</text><text x="17.80" y="517.80" text-anchor="end" font-size="7.7" textLength="3.95" lengthAdjust="spacingAndGlyphs" fill="#222" stroke="#222" stroke-width="0.12">2</text><text x="17.80" y="479.15" text-anchor="end" font-size="7.7" textLength="3.95" lengthAdjust="spacingAndGlyphs" fill="#222" stroke="#222" stroke-width="0.12">3</text><text x="17.80" y="440.50" text-anchor="end" font-size="7.7" textLength="3.95" lengthAdjust="spacingAndGlyphs" fill="#222" stroke="#222" stroke-width="0.12">4</text><text x="17.80" y="401.85" text-anchor="end" font-size="7.7" textLength="3.95" lengthAdjust="spacingAndGlyphs" fill="#222" stroke="#222" stroke-width="0.12">5</text><text x="17.80" y="363.20" text-anchor="end" font-size="7.7" textLength="3.95" lengthAdjust="spacingAndGlyphs" fill="#222" stroke="#222" stroke-width="0.12">6</text><text x="17.80" y="324.55" text-anchor="end" font-size="7.7" textLength="3.95" lengthAdjust="spacingAndGlyphs" fill="#222" stroke="#222" stroke-width="0.12">7</text><path d="M51.71,592.70v-3.00 M51.71,310.20v3.00 M82.82,592.70v-3.00 M82.82,310.20v3.00 M113.93,592.70v-3.00 M113.93,310.20v3.00 M145.04,592.70v-3.00 M145.04,310.20v3.00 M176.16,592.70v-3.00 M176.16,310.20v3.00 M207.27,592.70v-3.00 M207.27,310.20v3.00 M238.38,592.70v-3.00 M238.38,310.20v3.00 M269.49,592.70v-3.00 M269.49,310.20v3.00 M20.60,554.05h3.00 M300.60,554.05h-3.00 M20.60,515.40h3.00 M300.60,515.40h-3.00 M20.60,476.75h3.00 M300.60,476.75h-3.00 M20.60,438.10h3.00 M300.60,438.10h-3.00 M20.60,399.45h3.00 M300.60,399.45h-3.00 M20.60,360.80h3.00 M300.60,360.80h-3.00 M20.60,322.15h3.00 M300.60,322.15h-3.00" stroke="#303030" stroke-width="1" fill="none"/><text x="160.60" y="616.90" text-anchor="middle" font-size="11.6" fill="#1a1a1a" stroke="#1a1a1a" stroke-width="0.18">Wavelength (nm)</text><text transform="translate(9.00,451.45) rotate(-90)" text-anchor="middle" font-size="11.5" fill="#1a1a1a" stroke="#1a1a1a" stroke-width="0.15">Efficiency (80nm Core)@(25nm shell)</text><text x="267.30" y="334.90" font-size="19.2" fill="#111">(c)</text><rect x="88.50" y="456.50" width="146.60" height="43.80" fill="#fff" stroke="#303030" stroke-width="1"/><path d="M90.20,462.50H104.30" stroke="#d43b47" stroke-width="1.1"/><text x="106.00" y="465.10" font-size="8.5" textLength="123.46" lengthAdjust="spacingAndGlyphs" fill="#111" stroke="#111" stroke-width="0.12">Qext without surface scattering</text><path d="M90.20,473.10H104.30" stroke="#d43b47" stroke-width="1.1" stroke-dasharray="3.6,3.8"/><text x="106.00" y="475.70" font-size="8.5" textLength="125.75" lengthAdjust="spacingAndGlyphs" fill="#111" stroke="#111" stroke-width="0.12">Qabs without surface scattering</text><path d="M90.20,483.60H104.30" stroke="#3434b8" stroke-width="1.1"/><text x="106.00" y="486.20" font-size="8.5" textLength="110.62" lengthAdjust="spacingAndGlyphs" fill="#111" stroke="#111" stroke-width="0.12">Qext with surface scattering</text><path d="M90.20,494.30H104.30" stroke="#3434b8" stroke-width="1.1" stroke-dasharray="3.6,3.8"/><text x="106.00" y="496.90" font-size="8.5" textLength="112.91" lengthAdjust="spacingAndGlyphs" fill="#111" stroke="#111" stroke-width="0.12">Qabs with surface scattering</text></g>
<g><clipPath id="clipd"><rect x="336.10" y="310.60" width="273.80" height="281.70"/></clipPath><g clip-path="url(#clipd)"><path d="M336.12,504.42 L337.25,504.99 L338.40,505.54 L339.57,506.08 L340.76,506.59 L341.97,507.08 L343.19,507.55 L344.43,507.99 L345.68,508.40 L346.94,508.79 L348.22,509.14 L349.51,509.46 L350.81,509.75 L352.12,510.01 L353.44,510.22 L354.77,510.40 L356.11,510.53 L357.46,510.63 L358.81,510.68 L360.17,510.68 L361.51,510.63 L362.84,510.50 L364.14,510.30 L365.40,510.00 L366.61,509.61 L367.77,509.12 L368.85,508.50 L369.87,507.77 L370.81,506.92 L371.69,505.97 L372.51,504.95 L373.28,503.86 L374.01,502.72 L374.71,501.54 L375.37,500.34 L376.02,499.13 L376.65,497.92 L377.26,496.72 L377.86,495.52 L378.44,494.32 L379.01,493.12 L379.57,491.93 L380.11,490.73 L380.64,489.54 L381.15,488.35 L381.66,487.16 L382.15,485.97 L382.63,484.78 L383.10,483.59 L383.56,482.39 L384.01,481.20 L384.45,480.00 L384.89,478.81 L385.31,477.61 L385.72,476.41 L386.13,475.21 L386.53,474.00 L386.93,472.79 L387.31,471.58 L387.69,470.36 L388.07,469.14 L388.44,467.92 L388.81,466.69 L389.17,465.45 L389.53,464.22 L389.89,462.97 L390.24,461.72 L390.59,460.46 L390.94,459.20 L391.29,457.93 L391.64,456.65 L391.99,455.37 L392.34,454.08 L392.68,452.78 L393.03,451.47 L393.38,450.15 L393.74,448.83 L394.09,447.49 L394.45,446.15 L394.81,444.80 L395.17,443.43 L395.54,442.06 L395.92,440.67 L396.29,439.28 L396.68,437.89 L397.09,436.50 L397.51,435.15 L397.97,433.82 L398.45,432.55 L398.98,431.34 L399.55,430.20 L400.17,429.15 L400.84,428.20 L401.58,427.36 L402.38,426.63 L403.25,426.05 L404.21,425.61 L405.24,425.33 L406.35,425.20 L407.53,425.19 L408.75,425.31 L410.02,425.51 L411.30,425.76 L412.60,426.02 L413.88,426.24 L415.15,426.37 L416.37,426.37 L417.54,426.22 L418.66,425.92 L419.75,425.50 L420.78,424.95 L421.78,424.29 L422.75,423.53 L423.68,422.68 L424.57,421.75 L425.44,420.76 L426.27,419.70 L427.08,418.60 L427.87,417.46 L428.64,416.30 L429.39,415.12 L430.12,413.93 L430.84,412.75 L431.54,411.57 L432.23,410.40 L432.90,409.23 L433.57,408.06 L434.22,406.89 L434.86,405.72 L435.48,404.56 L436.09,403.40 L436.70,402.23 L437.29,401.07 L437.87,399.91 L438.43,398.74 L438.99,397.58 L439.54,396.41 L440.08,395.24 L440.60,394.06 L441.12,392.89 L441.63,391.70 L442.13,390.52 L442.62,389.33 L443.11,388.14 L443.59,386.94 L444.07,385.75 L444.54,384.55 L445.00,383.35 L445.47,382.14 L445.93,380.94 L446.39,379.73 L446.85,378.52 L447.32,377.31 L447.78,376.10 L448.24,374.89 L448.71,373.69 L449.19,372.48 L449.66,371.27 L450.15,370.06 L450.64,368.85 L451.14,367.65 L451.64,366.44 L452.15,365.24 L452.68,364.04 L453.21,362.84 L453.76,361.65 L454.32,360.46 L454.89,359.27 L455.47,358.08 L456.07,356.90 L456.69,355.72 L457.32,354.55 L457.97,353.38 L458.64,352.21 L459.32,351.06 L460.03,349.90 L460.75,348.75 L461.50,347.61 L462.27,346.49 L463.07,345.38 L463.89,344.30 L464.74,343.25 L465.61,342.25 L466.52,341.28 L467.45,340.37 L468.42,339.52 L469.43,338.73 L470.47,338.01 L471.54,337.36 L472.66,336.80 L473.81,336.33 L475.01,335.96 L476.24,335.68 L477.53,335.51 L478.85,335.46 L480.20,335.51 L481.55,335.68 L482.89,335.96 L484.21,336.34 L485.48,336.83 L486.69,337.43 L487.81,338.12 L488.84,338.92 L489.80,339.80 L490.68,340.76 L491.50,341.78 L492.28,342.85 L493.01,343.95 L493.72,345.08 L494.41,346.23 L495.10,347.37 L495.78,348.51 L496.46,349.65 L497.13,350.79 L497.80,351.92 L498.46,353.06 L499.12,354.19 L499.78,355.33 L500.43,356.46 L501.08,357.59 L501.73,358.73 L502.37,359.86 L503.01,360.99 L503.65,362.12 L504.28,363.25 L504.91,364.39 L505.54,365.52 L506.16,366.65 L506.78,367.78 L507.40,368.92 L508.01,370.05 L508.63,371.19 L509.24,372.33 L509.84,373.47 L510.45,374.61 L511.05,375.75 L511.66,376.89 L512.25,378.04 L512.85,379.18 L513.45,380.33 L514.04,381.48 L514.63,382.64 L515.23,383.79 L515.82,384.95 L516.40,386.11 L516.99,387.27 L517.58,388.44 L518.16,389.60 L518.74,390.77 L519.33,391.94 L519.91,393.11 L520.49,394.28 L521.07,395.45 L521.65,396.63 L522.23,397.80 L522.81,398.98 L523.39,400.15 L523.96,401.33 L524.54,402.51 L525.12,403.69 L525.70,404.87 L526.28,406.05 L526.85,407.23 L527.43,408.42 L528.01,409.60 L528.59,410.78 L529.17,411.96 L529.75,413.15 L530.33,414.33 L530.91,415.51 L531.50,416.70 L532.08,417.88 L532.66,419.06 L533.25,420.24 L533.84,421.43 L534.42,422.61 L535.01,423.79 L535.60,424.97 L536.20,426.15 L536.79,427.32 L537.39,428.50 L537.98,429.68 L538.58,430.85 L539.19,432.03 L539.79,433.20 L540.39,434.37 L541.00,435.54 L541.61,436.71 L542.22,437.88 L542.84,439.04 L543.46,440.20 L544.08,441.37 L544.70,442.53 L545.33,443.68 L545.95,444.84 L546.59,445.99 L547.22,447.14 L547.86,448.29 L548.50,449.44 L549.14,450.58 L549.79,451.73 L550.44,452.86 L551.10,454.00 L551.75,455.13 L552.42,456.27 L553.08,457.39 L553.75,458.52 L554.43,459.64 L555.10,460.76 L555.79,461.87 L556.47,462.99 L557.16,464.09 L557.86,465.20 L558.56,466.30 L559.26,467.40 L559.97,468.49 L560.68,469.58 L561.40,470.67 L562.13,471.75 L562.85,472.83 L563.59,473.90 L564.33,474.97 L565.07,476.04 L565.82,477.10 L566.57,478.16 L567.33,479.21 L568.10,480.26 L568.87,481.30 L569.65,482.34 L570.43,483.37 L571.22,484.40 L572.02,485.42 L572.82,486.44 L573.63,487.45 L574.44,488.46 L575.26,489.46 L576.09,490.46 L576.92,491.45 L577.76,492.44 L578.61,493.42 L579.46,494.39 L580.32,495.36 L581.19,496.32 L582.06,497.28 L582.94,498.23 L583.83,499.17 L584.73,500.11 L585.63,501.04 L586.54,501.97 L587.46,502.89 L588.39,503.80 L589.32,504.70 L590.26,505.60 L591.21,506.49 L592.17,507.38 L593.13,508.26 L594.11,509.13 L595.09,509.99 L596.08,510.85 L597.08,511.70 L598.09,512.54 L599.10,513.38 L600.13,514.20 L601.16,515.02 L602.20,515.83 L603.25,516.64 L604.31,517.43 L605.38,518.22 L606.46,519.00 L607.55,519.78 L608.65,520.54 L609.75,521.30" fill="none" stroke="#d43b47" stroke-width="1.3"/><path d="M336.16,530.03 L337.44,530.21 L338.75,530.41 L340.09,530.63 L341.46,530.87 L342.86,531.13 L344.28,531.39 L345.73,531.66 L347.19,531.93 L348.67,532.19 L350.17,532.45 L351.67,532.70 L353.18,532.93 L354.70,533.14 L356.22,533.32 L357.74,533.48 L359.25,533.61 L360.76,533.70 L362.26,533.75 L363.75,533.76 L365.22,533.72 L366.68,533.63 L368.12,533.48 L369.53,533.27 L370.92,533.00 L372.28,532.65 L373.61,532.24 L374.90,531.75 L376.16,531.18 L377.38,530.52 L378.57,529.79 L379.72,528.99 L380.85,528.12 L381.95,527.20 L383.03,526.23 L384.09,525.22 L385.14,524.17 L386.18,523.10 L387.22,522.00 L388.25,520.90 L389.28,519.78 L390.32,518.67 L391.36,517.57 L392.42,516.48 L393.50,515.41 L394.59,514.37 L395.71,513.38 L396.84,512.48 L398.00,511.74 L399.16,511.25 L400.32,511.07 L401.48,511.25 L402.63,511.76 L403.76,512.53 L404.86,513.50 L405.93,514.63 L406.96,515.85 L407.94,517.11 L408.86,518.37 L409.74,519.64 L410.57,520.92 L411.36,522.21 L412.11,523.50 L412.82,524.79 L413.51,526.09 L414.16,527.39 L414.80,528.69 L415.41,530.00 L416.01,531.31 L416.59,532.62 L417.17,533.93 L417.74,535.24 L418.30,536.55 L418.87,537.85 L419.45,539.16 L420.03,540.46 L420.62,541.76 L421.23,543.06 L421.87,544.35 L422.52,545.64 L423.20,546.92 L423.91,548.20 L424.66,549.46 L425.44,550.73 L426.26,551.97 L427.12,553.20 L428.01,554.41 L428.95,555.58 L429.92,556.72 L430.92,557.82 L431.97,558.87 L433.05,559.87 L434.18,560.81 L435.34,561.69 L436.53,562.50 L437.77,563.23 L439.04,563.89 L440.34,564.48 L441.67,565.01 L443.03,565.49 L444.41,565.92 L445.80,566.30 L447.22,566.65 L448.64,566.97 L450.07,567.27 L451.50,567.54 L452.94,567.81 L454.37,568.07 L455.81,568.32 L457.25,568.56 L458.68,568.79 L460.12,569.01 L461.56,569.23 L462.99,569.44 L464.43,569.64 L465.87,569.84 L467.31,570.03 L468.75,570.22 L470.18,570.40 L471.62,570.58 L473.06,570.76 L474.50,570.94 L475.94,571.11 L477.38,571.28 L478.81,571.45 L480.25,571.62 L481.69,571.79 L483.13,571.96 L484.57,572.13 L486.00,572.30 L487.44,572.47 L488.88,572.65 L490.32,572.83 L491.75,573.01 L493.19,573.20 L494.63,573.39 L496.06,573.58 L497.50,573.77 L498.93,573.96 L500.37,574.16 L501.81,574.35 L503.24,574.55 L504.68,574.76 L506.11,574.96 L507.55,575.16 L508.98,575.37 L510.42,575.57 L511.85,575.78 L513.29,575.99 L514.72,576.20 L516.16,576.41 L517.60,576.62 L519.03,576.83 L520.47,577.04 L521.90,577.25 L523.34,577.46 L524.77,577.67 L526.21,577.89 L527.64,578.10 L529.08,578.31 L530.51,578.52 L531.95,578.73 L533.39,578.93 L534.82,579.14 L536.26,579.35 L537.69,579.55 L539.13,579.76 L540.57,579.96 L542.00,580.16 L543.44,580.36 L544.88,580.56 L546.31,580.76 L547.75,580.95 L549.19,581.14 L550.63,581.33 L552.07,581.52 L553.50,581.71 L554.94,581.89 L556.38,582.07 L557.82,582.25 L559.26,582.42 L560.70,582.59 L562.14,582.76 L563.58,582.93 L565.02,583.09 L566.46,583.25 L567.90,583.40 L569.35,583.56 L570.79,583.70 L572.23,583.85 L573.67,583.99 L575.12,584.12 L576.56,584.25 L578.01,584.38 L579.45,584.50 L580.90,584.62 L582.34,584.73 L583.79,584.84 L585.23,584.94 L586.68,585.04 L588.13,585.13 L589.58,585.22 L591.03,585.30 L592.48,585.38 L593.93,585.45 L595.38,585.51 L596.83,585.57 L598.28,585.62 L599.73,585.67 L601.18,585.71 L602.64,585.74 L604.09,585.77 L605.54,585.79 L607.00,585.80 L608.45,585.81 L609.91,585.81" fill="none" stroke="#d43b47" stroke-width="1.3" stroke-dasharray="3.6,3.8"/><path d="M336.11,492.99 L337.16,493.32 L338.26,493.71 L339.39,494.16 L340.56,494.64 L341.76,495.16 L342.99,495.69 L344.24,496.23 L345.52,496.77 L346.80,497.29 L348.10,497.79 L349.41,498.25 L350.71,498.67 L352.02,499.03 L353.32,499.32 L354.61,499.53 L355.88,499.65 L357.14,499.67 L358.37,499.58 L359.58,499.39 L360.77,499.10 L361.93,498.72 L363.07,498.27 L364.18,497.74 L365.27,497.14 L366.33,496.49 L367.37,495.79 L368.38,495.04 L369.37,494.26 L370.32,493.46 L371.25,492.63 L372.16,491.77 L373.04,490.89 L373.89,489.99 L374.72,489.07 L375.53,488.13 L376.31,487.17 L377.07,486.19 L377.81,485.18 L378.52,484.16 L379.22,483.13 L379.90,482.07 L380.55,481.00 L381.19,479.91 L381.81,478.81 L382.41,477.70 L382.99,476.57 L383.56,475.43 L384.11,474.27 L384.64,473.11 L385.16,471.93 L385.67,470.74 L386.16,469.54 L386.64,468.34 L387.11,467.12 L387.56,465.90 L388.00,464.67 L388.44,463.44 L388.86,462.20 L389.27,460.95 L389.67,459.70 L390.07,458.45 L390.46,457.19 L390.84,455.94 L391.21,454.68 L391.58,453.42 L391.94,452.16 L392.30,450.90 L392.66,449.64 L393.03,448.39 L393.40,447.15 L393.77,445.91 L394.16,444.68 L394.55,443.46 L394.96,442.26 L395.39,441.06 L395.83,439.88 L396.29,438.72 L396.78,437.57 L397.29,436.44 L397.82,435.34 L398.39,434.25 L398.98,433.18 L399.61,432.14 L400.28,431.13 L400.98,430.14 L401.72,429.18 L402.51,428.25 L403.33,427.35 L404.20,426.48 L405.11,425.64 L406.06,424.82 L407.03,424.03 L408.04,423.27 L409.07,422.53 L410.12,421.81 L411.19,421.11 L412.28,420.43 L413.37,419.77 L414.48,419.12 L415.59,418.48 L416.68,417.83 L417.76,417.16 L418.80,416.47 L419.81,415.73 L420.75,414.94 L421.65,414.10 L422.49,413.20 L423.30,412.26 L424.06,411.28 L424.80,410.28 L425.52,409.24 L426.21,408.20 L426.90,407.14 L427.58,406.07 L428.25,405.00 L428.92,403.92 L429.58,402.83 L430.23,401.74 L430.88,400.64 L431.52,399.54 L432.16,398.43 L432.79,397.32 L433.41,396.20 L434.03,395.08 L434.64,393.95 L435.25,392.83 L435.85,391.70 L436.45,390.56 L437.04,389.43 L437.63,388.29 L438.22,387.15 L438.80,386.01 L439.38,384.86 L439.95,383.72 L440.52,382.58 L441.09,381.43 L441.66,380.29 L442.22,379.15 L442.79,378.01 L443.36,376.87 L443.92,375.72 L444.49,374.59 L445.06,373.45 L445.64,372.32 L446.21,371.18 L446.79,370.05 L447.38,368.93 L447.97,367.80 L448.56,366.68 L449.16,365.57 L449.77,364.46 L450.38,363.35 L451.01,362.24 L451.64,361.15 L452.28,360.05 L452.93,358.97 L453.59,357.88 L454.26,356.81 L454.95,355.74 L455.64,354.68 L456.35,353.62 L457.07,352.57 L457.81,351.53 L458.56,350.50 L459.33,349.47 L460.11,348.45 L460.91,347.45 L461.72,346.45 L462.55,345.45 L463.40,344.47 L464.27,343.50 L465.16,342.55 L466.07,341.62 L467.01,340.73 L467.96,339.87 L468.95,339.07 L469.96,338.31 L471.00,337.62 L472.08,337.00 L473.18,336.46 L474.32,336.00 L475.49,335.64 L476.70,335.37 L477.95,335.21 L479.23,335.16 L480.53,335.21 L481.85,335.35 L483.18,335.58 L484.50,335.90 L485.80,336.29 L487.08,336.76 L488.33,337.29 L489.54,337.88 L490.69,338.52 L491.79,339.21 L492.85,339.95 L493.85,340.74 L494.81,341.57 L495.72,342.43 L496.60,343.34 L497.44,344.27 L498.25,345.24 L499.02,346.24 L499.76,347.26 L500.48,348.31 L501.18,349.38 L501.85,350.47 L502.50,351.57 L503.14,352.68 L503.77,353.81 L504.39,354.94 L504.99,356.08 L505.60,357.22 L506.20,358.37 L506.80,359.50 L507.40,360.64 L508.01,361.77 L508.62,362.89 L509.24,364.00 L509.86,365.11 L510.48,366.22 L511.10,367.32 L511.73,368.42 L512.36,369.51 L512.99,370.60 L513.62,371.69 L514.26,372.78 L514.89,373.86 L515.53,374.95 L516.16,376.03 L516.80,377.12 L517.43,378.20 L518.06,379.29 L518.70,380.38 L519.33,381.47 L519.95,382.56 L520.58,383.65 L521.21,384.75 L521.83,385.84 L522.46,386.94 L523.08,388.04 L523.71,389.14 L524.33,390.24 L524.95,391.35 L525.57,392.45 L526.19,393.56 L526.81,394.66 L527.43,395.77 L528.04,396.88 L528.66,397.99 L529.28,399.10 L529.90,400.21 L530.51,401.32 L531.13,402.43 L531.75,403.54 L532.37,404.65 L532.98,405.77 L533.60,406.88 L534.22,407.99 L534.84,409.11 L535.46,410.22 L536.08,411.33 L536.70,412.45 L537.32,413.56 L537.94,414.67 L538.56,415.79 L539.19,416.90 L539.81,418.01 L540.43,419.12 L541.06,420.23 L541.69,421.34 L542.32,422.45 L542.95,423.56 L543.58,424.67 L544.21,425.78 L544.85,426.89 L545.48,427.99 L546.12,429.10 L546.76,430.20 L547.40,431.30 L548.04,432.40 L548.69,433.50 L549.33,434.60 L549.98,435.70 L550.63,436.79 L551.29,437.89 L551.94,438.98 L552.60,440.07 L553.26,441.16 L553.93,442.25 L554.59,443.33 L555.26,444.41 L555.93,445.50 L556.60,446.57 L557.28,447.65 L557.96,448.73 L558.64,449.80 L559.33,450.87 L560.02,451.94 L560.71,453.00 L561.41,454.06 L562.11,455.12 L562.81,456.18 L563.51,457.23 L564.22,458.28 L564.94,459.33 L565.65,460.38 L566.37,461.42 L567.10,462.46 L567.83,463.50 L568.56,464.53 L569.30,465.56 L570.04,466.59 L570.78,467.61 L571.53,468.63 L572.28,469.64 L573.04,470.66 L573.80,471.67 L574.57,472.67 L575.34,473.67 L576.12,474.67 L576.90,475.66 L577.69,476.65 L578.48,477.64 L579.27,478.62 L580.08,479.59 L580.88,480.57 L581.69,481.53 L582.51,482.50 L583.33,483.46 L584.16,484.41 L584.99,485.36 L585.83,486.31 L586.68,487.25 L587.53,488.18 L588.38,489.11 L589.24,490.04 L590.11,490.96 L590.99,491.88 L591.87,492.79 L592.75,493.69 L593.64,494.59 L594.54,495.49 L595.45,496.38 L596.36,497.26 L597.28,498.14 L598.20,499.01 L599.13,499.88 L600.07,500.74 L601.01,501.60 L601.97,502.45 L602.92,503.29 L603.89,504.13 L604.86,504.96 L605.84,505.79 L606.83,506.61 L607.82,507.42 L608.82,508.23 L609.83,509.03" fill="none" stroke="#3434b8" stroke-width="1.3"/><path d="M336.12,523.22 L337.35,523.33 L338.60,523.44 L339.87,523.56 L341.15,523.69 L342.44,523.82 L343.74,523.96 L345.06,524.09 L346.38,524.22 L347.71,524.35 L349.05,524.47 L350.39,524.57 L351.74,524.67 L353.09,524.75 L354.44,524.81 L355.79,524.86 L357.13,524.88 L358.47,524.88 L359.81,524.85 L361.14,524.79 L362.47,524.70 L363.78,524.58 L365.08,524.43 L366.38,524.23 L367.65,524.00 L368.92,523.72 L370.17,523.40 L371.39,523.03 L372.61,522.61 L373.80,522.14 L374.96,521.61 L376.11,521.04 L377.24,520.41 L378.36,519.74 L379.45,519.03 L380.54,518.28 L381.61,517.49 L382.67,516.67 L383.72,515.82 L384.76,514.93 L385.80,514.03 L386.83,513.10 L387.86,512.17 L388.90,511.25 L389.95,510.37 L391.02,509.55 L392.12,508.80 L393.24,508.14 L394.39,507.60 L395.59,507.19 L396.82,506.91 L398.06,506.76 L399.32,506.73 L400.58,506.82 L401.83,507.02 L403.06,507.34 L404.26,507.77 L405.42,508.29 L406.52,508.92 L407.56,509.63 L408.53,510.44 L409.43,511.33 L410.27,512.29 L411.06,513.32 L411.80,514.40 L412.52,515.53 L413.20,516.69 L413.87,517.89 L414.54,519.10 L415.20,520.32 L415.87,521.55 L416.55,522.77 L417.26,523.98 L418.00,525.16 L418.77,526.32 L419.58,527.45 L420.41,528.56 L421.27,529.63 L422.16,530.67 L423.07,531.68 L424.01,532.65 L424.96,533.58 L425.95,534.48 L426.95,535.34 L427.97,536.15 L429.01,536.92 L430.06,537.65 L431.14,538.34 L432.23,538.99 L433.33,539.60 L434.45,540.17 L435.59,540.71 L436.74,541.22 L437.91,541.69 L439.08,542.13 L440.28,542.54 L441.48,542.92 L442.69,543.27 L443.92,543.60 L445.16,543.90 L446.41,544.17 L447.66,544.43 L448.93,544.66 L450.21,544.87 L451.49,545.07 L452.78,545.24 L454.08,545.40 L455.39,545.54 L456.70,545.67 L458.02,545.79 L459.34,545.90 L460.67,545.99 L462.00,546.08 L463.34,546.16 L464.68,546.23 L466.02,546.30 L467.37,546.36 L468.71,546.42 L470.06,546.49 L471.41,546.55 L472.76,546.61 L474.10,546.67 L475.45,546.74 L476.80,546.81 L478.14,546.89 L479.48,546.98 L480.82,547.08 L482.15,547.19 L483.48,547.30 L484.81,547.44 L486.13,547.58 L487.45,547.74 L488.76,547.92 L490.06,548.11 L491.36,548.32 L492.65,548.55 L493.94,548.79 L495.22,549.05 L496.50,549.32 L497.77,549.60 L499.04,549.90 L500.31,550.21 L501.57,550.52 L502.82,550.85 L504.08,551.19 L505.33,551.53 L506.58,551.89 L507.83,552.25 L509.08,552.62 L510.33,552.99 L511.57,553.37 L512.81,553.75 L514.06,554.14 L515.30,554.52 L516.54,554.92 L517.79,555.31 L519.03,555.70 L520.28,556.09 L521.53,556.49 L522.77,556.88 L524.02,557.27 L525.27,557.67 L526.52,558.06 L527.78,558.45 L529.03,558.84 L530.28,559.23 L531.54,559.62 L532.79,560.01 L534.05,560.40 L535.31,560.78 L536.57,561.17 L537.83,561.55 L539.09,561.93 L540.35,562.31 L541.61,562.68 L542.88,563.06 L544.14,563.43 L545.41,563.80 L546.67,564.16 L547.94,564.52 L549.21,564.88 L550.48,565.24 L551.75,565.59 L553.02,565.94 L554.29,566.29 L555.57,566.63 L556.84,566.97 L558.12,567.30 L559.39,567.63 L560.67,567.96 L561.95,568.28 L563.23,568.60 L564.51,568.91 L565.79,569.22 L567.07,569.52 L568.35,569.81 L569.63,570.11 L570.92,570.39 L572.20,570.67 L573.49,570.95 L574.78,571.22 L576.07,571.48 L577.36,571.73 L578.65,571.98 L579.94,572.23 L581.23,572.46 L582.52,572.69 L583.82,572.92 L585.11,573.13 L586.41,573.34 L587.70,573.54 L589.00,573.74 L590.30,573.92 L591.60,574.10 L592.90,574.27 L594.20,574.44 L595.50,574.59 L596.80,574.74 L598.11,574.87 L599.41,575.00 L600.72,575.12 L602.03,575.23 L603.33,575.34 L604.64,575.43 L605.95,575.51 L607.26,575.59 L608.57,575.65 L609.88,575.71" fill="none" stroke="#3434b8" stroke-width="1.3" stroke-dasharray="3.6,3.8"/></g><rect x="336.10" y="310.60" width="273.80" height="281.70" fill="none" stroke="#303030" stroke-width="1.2"/><text x="336.10" y="603.00" text-anchor="middle" font-size="7.7" textLength="11.84" lengthAdjust="spacingAndGlyphs" fill="#222" stroke="#222" stroke-width="0.12">450</text><text x="366.52" y="603.00" text-anchor="middle" font-size="7.7" textLength="11.84" lengthAdjust="spacingAndGlyphs" fill="#222" stroke="#222" stroke-width="0.12">500</text><text x="396.94" y="603.00" text-anchor="middle" font-size="7.7" textLength="11.84" lengthAdjust="spacingAndGlyphs" fill="#222" stroke="#222" stroke-width="0.12">550</text><text x="427.37" y="603.00" text-anchor="middle" font-size="7.7" textLength="11.84" lengthAdjust="spacingAndGlyphs" fill="#222" stroke="#222" stroke-width="0.12">600</text><text x="457.79" y="603.00" text-anchor="middle" font-size="7.7" textLength="11.84" lengthAdjust="spacingAndGlyphs" fill="#222" stroke="#222" stroke-width="0.12">650</text><text x="488.21" y="603.00" text-anchor="middle" font-size="7.7" textLength="11.84" lengthAdjust="spacingAndGlyphs" fill="#222" stroke="#222" stroke-width="0.12">700</text><text x="518.63" y="603.00" text-anchor="middle" font-size="7.7" textLength="11.84" lengthAdjust="spacingAndGlyphs" fill="#222" stroke="#222" stroke-width="0.12">750</text><text x="549.06" y="603.00" text-anchor="middle" font-size="7.7" textLength="11.84" lengthAdjust="spacingAndGlyphs" fill="#222" stroke="#222" stroke-width="0.12">800</text><text x="579.48" y="603.00" text-anchor="middle" font-size="7.7" textLength="11.84" lengthAdjust="spacingAndGlyphs" fill="#222" stroke="#222" stroke-width="0.12">850</text><text x="609.90" y="603.00" text-anchor="middle" font-size="7.7" textLength="11.84" lengthAdjust="spacingAndGlyphs" fill="#222" stroke="#222" stroke-width="0.12">900</text><text x="333.30" y="594.70" text-anchor="end" font-size="7.7" textLength="3.95" lengthAdjust="spacingAndGlyphs" fill="#222" stroke="#222" stroke-width="0.12">0</text><text x="333.30" y="543.48" text-anchor="end" font-size="7.7" textLength="9.87" lengthAdjust="spacingAndGlyphs" fill="#222" stroke="#222" stroke-width="0.12">0.2</text><text x="333.30" y="492.26" text-anchor="end" font-size="7.7" textLength="9.87" lengthAdjust="spacingAndGlyphs" fill="#222" stroke="#222" stroke-width="0.12">0.4</text><text x="333.30" y="441.05" text-anchor="end" font-size="7.7" textLength="9.87" lengthAdjust="spacingAndGlyphs" fill="#222" stroke="#222" stroke-width="0.12">0.6</text><text x="333.30" y="389.83" text-anchor="end" font-size="7.7" textLength="9.87" lengthAdjust="spacingAndGlyphs" fill="#222" stroke="#222" stroke-width="0.12">0.8</text><text x="333.30" y="338.61" text-anchor="end" font-size="7.7" textLength="3.95" lengthAdjust="spacingAndGlyphs" fill="#222" stroke="#222" stroke-width="0.12">1</text><path d="M366.52,592.30v-3.00 M366.52,310.60v3.00 M396.94,592.30v-3.00 M396.94,310.60v3.00 M427.37,592.30v-3.00 M427.37,310.60v3.00 M457.79,592.30v-3.00 M457.79,310.60v3.00 M488.21,592.30v-3.00 M488.21,310.60v3.00 M518.63,592.30v-3.00 M518.63,310.60v3.00 M549.06,592.30v-3.00 M549.06,310.60v3.00 M579.48,592.30v-3.00 M579.48,310.60v3.00 M336.10,541.08h3.00 M609.90,541.08h-3.00 M336.10,489.86h3.00 M609.90,489.86h-3.00 M336.10,438.65h3.00 M609.90,438.65h-3.00 M336.10,387.43h3.00 M609.90,387.43h-3.00 M336.10,336.21h3.00 M609.90,336.21h-3.00" stroke="#303030" stroke-width="1" fill="none"/><text x="473.00" y="616.50" text-anchor="middle" font-size="11.6" fill="#1a1a1a" stroke="#1a1a1a" stroke-width="0.18">Wavelength (nm)</text><text transform="translate(319.00,451.45) rotate(-90)" text-anchor="middle" font-size="11.5" fill="#1a1a1a" stroke="#1a1a1a" stroke-width="0.15">Normalized efficiency (80nm Core)@(25nm shell)</text><text x="576.00" y="334.90" font-size="19.2" fill="#111">(d)</text><rect x="402.60" y="451.20" width="141.80" height="44.00" fill="#fff" stroke="#303030" stroke-width="1"/><path d="M404.70,458.20H418.70" stroke="#d43b47" stroke-width="1.1"/><text x="420.70" y="460.80" font-size="8.5" textLength="117.95" lengthAdjust="spacingAndGlyphs" fill="#111" stroke="#111" stroke-width="0.12">Ext without surface scattering</text><path d="M404.70,468.50H418.70" stroke="#d43b47" stroke-width="1.1" stroke-dasharray="3.6,3.8"/><text x="420.70" y="471.10" font-size="8.5" textLength="120.70" lengthAdjust="spacingAndGlyphs" fill="#111" stroke="#111" stroke-width="0.12">Abs without surface scattering</text><path d="M404.70,478.90H418.70" stroke="#3434b8" stroke-width="1.1"/><text x="420.70" y="481.50" font-size="8.5" textLength="105.11" lengthAdjust="spacingAndGlyphs" fill="#111" stroke="#111" stroke-width="0.12">Ext with surface scattering</text><path d="M404.70,489.30H418.70" stroke="#3434b8" stroke-width="1.1" stroke-dasharray="3.6,3.8"/><text x="420.70" y="491.90" font-size="8.5" textLength="107.86" lengthAdjust="spacingAndGlyphs" fill="#111" stroke="#111" stroke-width="0.12">Abs with surface scattering</text></g>
<g><clipPath id="clipe"><rect x="20.60" y="619.80" width="279.90" height="281.80"/></clipPath><g clip-path="url(#clipe)"><path d="M20.64,777.40 L21.63,777.75 L22.71,778.18 L23.87,778.67 L25.11,779.21 L26.41,779.78 L27.77,780.37 L29.17,780.96 L30.60,781.53 L32.05,782.08 L33.51,782.58 L34.98,783.02 L36.44,783.38 L37.87,783.65 L39.28,783.82 L40.65,783.87 L41.97,783.79 L43.25,783.59 L44.49,783.28 L45.69,782.87 L46.85,782.36 L47.97,781.76 L49.05,781.07 L50.10,780.31 L51.11,779.47 L52.08,778.57 L53.03,777.61 L53.94,776.60 L54.83,775.55 L55.68,774.46 L56.51,773.34 L57.31,772.20 L58.08,771.04 L58.83,769.86 L59.56,768.68 L60.26,767.49 L60.94,766.29 L61.60,765.08 L62.24,763.86 L62.86,762.63 L63.45,761.39 L64.03,760.15 L64.58,758.89 L65.12,757.63 L65.64,756.36 L66.14,755.09 L66.62,753.81 L67.09,752.52 L67.54,751.22 L67.97,749.92 L68.39,748.61 L68.80,747.30 L69.19,745.98 L69.56,744.66 L69.93,743.33 L70.28,742.00 L70.62,740.66 L70.95,739.32 L71.26,737.98 L71.57,736.63 L71.87,735.28 L72.15,733.93 L72.43,732.58 L72.70,731.22 L72.96,729.86 L73.22,728.50 L73.46,727.14 L73.71,725.77 L73.94,724.41 L74.17,723.04 L74.40,721.68 L74.62,720.31 L74.84,718.95 L75.05,717.58 L75.27,716.22 L75.48,714.85 L75.69,713.49 L75.90,712.13 L76.11,710.77 L76.31,709.42 L76.52,708.06 L76.73,706.71 L76.95,705.36 L77.16,704.02 L77.38,702.68 L77.60,701.34 L77.82,700.00 L78.05,698.67 L78.29,697.35 L78.52,696.03 L78.77,694.71 L79.02,693.40 L79.28,692.10 L79.55,690.80 L79.82,689.51 L80.10,688.22 L80.40,686.94 L80.70,685.66 L81.01,684.39 L81.33,683.12 L81.67,681.84 L82.01,680.56 L82.37,679.28 L82.74,677.99 L83.12,676.68 L83.51,675.37 L83.92,674.04 L84.34,672.70 L84.78,671.34 L85.23,669.96 L85.70,668.56 L86.18,667.14 L86.68,665.69 L87.20,664.22 L87.73,662.73 L88.30,661.27 L88.90,659.92 L89.56,658.73 L90.28,657.79 L91.08,657.15 L91.97,656.89 L92.96,657.05 L94.01,657.58 L95.09,658.41 L96.16,659.46 L97.19,660.66 L98.13,661.93 L98.98,663.22 L99.75,664.54 L100.44,665.86 L101.08,667.18 L101.67,668.51 L102.25,669.82 L102.81,671.11 L103.38,672.39 L103.96,673.63 L104.58,674.84 L105.26,676.01 L105.99,677.13 L106.80,678.19 L107.69,679.20 L108.64,680.14 L109.65,681.01 L110.72,681.81 L111.83,682.53 L112.99,683.16 L114.18,683.71 L115.39,684.16 L116.63,684.52 L117.89,684.77 L119.15,684.91 L120.42,684.94 L121.69,684.85 L122.94,684.64 L124.18,684.30 L125.40,683.83 L126.60,683.24 L127.77,682.55 L128.92,681.76 L130.05,680.88 L131.16,679.93 L132.24,678.93 L133.30,677.87 L134.34,676.78 L135.35,675.66 L136.34,674.53 L137.31,673.40 L138.26,672.27 L139.18,671.14 L140.09,670.02 L140.99,668.91 L141.87,667.81 L142.75,666.72 L143.62,665.64 L144.48,664.57 L145.35,663.52 L146.21,662.48 L147.09,661.46 L147.96,660.45 L148.85,659.47 L149.75,658.50 L150.67,657.55 L151.60,656.63 L152.55,655.73 L153.53,654.86 L154.53,654.01 L155.56,653.19 L156.62,652.40 L157.72,651.64 L158.84,650.91 L160.01,650.22 L161.22,649.55 L162.46,648.93 L163.73,648.34 L165.03,647.78 L166.35,647.27 L167.69,646.80 L169.05,646.37 L170.43,645.99 L171.81,645.65 L173.20,645.36 L174.59,645.12 L175.99,644.92 L177.37,644.78 L178.76,644.69 L180.13,644.66 L181.49,644.68 L182.83,644.76 L184.15,644.89 L185.46,645.08 L186.76,645.31 L188.04,645.60 L189.31,645.93 L190.56,646.31 L191.80,646.74 L193.02,647.20 L194.23,647.71 L195.43,648.26 L196.61,648.84 L197.78,649.47 L198.94,650.13 L200.09,650.82 L201.22,651.54 L202.34,652.29 L203.45,653.08 L204.55,653.89 L205.64,654.72 L206.71,655.58 L207.78,656.46 L208.83,657.36 L209.88,658.28 L210.91,659.22 L211.93,660.18 L212.95,661.14 L213.95,662.13 L214.95,663.12 L215.93,664.12 L216.91,665.13 L217.88,666.15 L218.84,667.17 L219.80,668.19 L220.74,669.22 L221.68,670.26 L222.61,671.30 L223.53,672.34 L224.45,673.39 L225.35,674.44 L226.26,675.49 L227.15,676.55 L228.04,677.61 L228.92,678.67 L229.80,679.74 L230.67,680.81 L231.53,681.88 L232.39,682.96 L233.24,684.04 L234.09,685.12 L234.94,686.20 L235.77,687.29 L236.61,688.38 L237.44,689.47 L238.26,690.56 L239.08,691.66 L239.90,692.76 L240.72,693.85 L241.53,694.96 L242.33,696.06 L243.14,697.16 L243.94,698.27 L244.73,699.38 L245.53,700.48 L246.32,701.59 L247.11,702.70 L247.90,703.81 L248.69,704.93 L249.47,706.04 L250.26,707.15 L251.04,708.27 L251.82,709.38 L252.60,710.50 L253.38,711.61 L254.16,712.72 L254.94,713.84 L255.71,714.95 L256.49,716.07 L257.27,717.18 L258.05,718.30 L258.83,719.41 L259.61,720.52 L260.39,721.63 L261.17,722.74 L261.95,723.85 L262.74,724.96 L263.52,726.07 L264.31,727.17 L265.10,728.28 L265.89,729.38 L266.69,730.48 L267.48,731.58 L268.28,732.68 L269.08,733.77 L269.89,734.87 L270.70,735.96 L271.51,737.05 L272.33,738.13 L273.15,739.22 L273.97,740.30 L274.80,741.38 L275.63,742.46 L276.47,743.53 L277.31,744.60 L278.15,745.67 L279.00,746.73 L279.86,747.79 L280.72,748.85 L281.59,749.90 L282.46,750.95 L283.34,752.00 L284.23,753.04 L285.12,754.08 L286.02,755.11 L286.92,756.14 L287.84,757.17 L288.75,758.19 L289.68,759.21 L290.62,760.22 L291.56,761.23 L292.51,762.23 L293.46,763.23 L294.43,764.22 L295.40,765.21 L296.39,766.19 L297.38,767.17 L298.38,768.14 L299.39,769.11 L300.41,770.07" fill="none" stroke="#d43b47" stroke-width="1.3"/><path d="M20.63,822.51 L22.08,822.57 L23.56,822.66 L25.05,822.78 L26.56,822.92 L28.09,823.07 L29.63,823.24 L31.18,823.41 L32.75,823.59 L34.32,823.77 L35.89,823.94 L37.47,824.11 L39.05,824.26 L40.64,824.40 L42.22,824.51 L43.80,824.60 L45.37,824.66 L46.93,824.68 L48.49,824.67 L50.04,824.62 L51.57,824.52 L53.09,824.37 L54.59,824.16 L56.08,823.90 L57.54,823.58 L58.98,823.18 L60.40,822.72 L61.80,822.18 L63.16,821.56 L64.50,820.86 L65.81,820.08 L67.09,819.22 L68.35,818.28 L69.59,817.27 L70.81,816.18 L72.02,815.03 L73.21,813.81 L74.39,812.53 L75.56,811.22 L76.72,809.92 L77.88,808.68 L79.04,807.52 L80.20,806.49 L81.36,805.64 L82.53,805.00 L83.70,804.60 L84.89,804.50 L86.08,804.70 L87.25,805.18 L88.38,805.89 L89.44,806.81 L90.41,807.88 L91.27,809.08 L92.04,810.39 L92.72,811.80 L93.34,813.29 L93.90,814.84 L94.41,816.44 L94.89,818.07 L95.35,819.72 L95.80,821.37 L96.24,823.00 L96.70,824.60 L97.18,826.15 L97.68,827.68 L98.20,829.17 L98.73,830.63 L99.27,832.07 L99.82,833.48 L100.39,834.88 L100.97,836.26 L101.55,837.64 L102.14,839.00 L102.74,840.37 L103.34,841.74 L103.94,843.11 L104.55,844.49 L105.15,845.88 L105.76,847.29 L106.37,848.70 L106.99,850.12 L107.62,851.54 L108.27,852.96 L108.93,854.37 L109.63,855.77 L110.35,857.15 L111.11,858.51 L111.90,859.85 L112.74,861.15 L113.62,862.43 L114.54,863.67 L115.50,864.88 L116.50,866.05 L117.54,867.20 L118.61,868.31 L119.72,869.39 L120.86,870.44 L122.03,871.45 L123.23,872.43 L124.45,873.38 L125.71,874.29 L126.99,875.17 L128.29,876.02 L129.61,876.83 L130.96,877.61 L132.32,878.35 L133.71,879.06 L135.10,879.74 L136.52,880.38 L137.94,880.99 L139.38,881.56 L140.83,882.09 L142.29,882.60 L143.76,883.06 L145.23,883.50 L146.71,883.90 L148.20,884.27 L149.70,884.62 L151.20,884.94 L152.70,885.23 L154.22,885.50 L155.73,885.75 L157.26,885.97 L158.78,886.18 L160.31,886.37 L161.85,886.54 L163.38,886.70 L164.92,886.84 L166.47,886.97 L168.01,887.09 L169.56,887.21 L171.10,887.31 L172.65,887.41 L174.20,887.51 L175.75,887.60 L177.29,887.69 L178.84,887.78 L180.39,887.87 L181.93,887.96 L183.48,888.05 L185.02,888.14 L186.57,888.22 L188.11,888.31 L189.66,888.39 L191.20,888.48 L192.74,888.56 L194.28,888.65 L195.83,888.73 L197.37,888.81 L198.91,888.89 L200.45,888.97 L201.99,889.06 L203.53,889.14 L205.07,889.22 L206.61,889.29 L208.15,889.37 L209.69,889.45 L211.23,889.53 L212.77,889.61 L214.31,889.69 L215.85,889.76 L217.39,889.84 L218.93,889.92 L220.46,889.99 L222.00,890.07 L223.54,890.15 L225.08,890.22 L226.61,890.30 L228.15,890.37 L229.69,890.45 L231.23,890.53 L232.76,890.60 L234.30,890.68 L235.84,890.75 L237.38,890.83 L238.91,890.90 L240.45,890.98 L241.99,891.06 L243.52,891.13 L245.06,891.21 L246.60,891.28 L248.13,891.36 L249.67,891.44 L251.21,891.51 L252.75,891.59 L254.28,891.67 L255.82,891.75 L257.36,891.82 L258.90,891.90 L260.43,891.98 L261.97,892.06 L263.51,892.14 L265.05,892.22 L266.59,892.30 L268.13,892.38 L269.67,892.46 L271.21,892.54 L272.75,892.62 L274.29,892.71 L275.83,892.79 L277.37,892.88 L278.91,892.96 L280.45,893.04 L281.99,893.13 L283.53,893.22 L285.07,893.30 L286.61,893.39 L288.16,893.48 L289.70,893.57 L291.24,893.66 L292.79,893.75 L294.33,893.84 L295.88,893.94 L297.42,894.03 L298.97,894.13 L300.51,894.22" fill="none" stroke="#d43b47" stroke-width="1.3" stroke-dasharray="3.6,3.8"/><path d="M20.61,774.98 L21.55,775.27 L22.56,775.63 L23.63,776.05 L24.75,776.52 L25.93,777.03 L27.14,777.55 L28.38,778.09 L29.66,778.63 L30.95,779.15 L32.26,779.65 L33.57,780.10 L34.89,780.51 L36.20,780.85 L37.50,781.12 L38.77,781.30 L40.02,781.37 L41.24,781.34 L42.43,781.21 L43.58,780.97 L44.71,780.64 L45.81,780.23 L46.87,779.73 L47.91,779.15 L48.92,778.51 L49.90,777.79 L50.85,777.02 L51.77,776.19 L52.67,775.32 L53.54,774.40 L54.39,773.44 L55.21,772.46 L56.01,771.44 L56.78,770.41 L57.53,769.35 L58.25,768.29 L58.96,767.23 L59.64,766.16 L60.29,765.08 L60.93,764.00 L61.55,762.92 L62.14,761.83 L62.72,760.74 L63.28,759.65 L63.82,758.55 L64.34,757.45 L64.84,756.34 L65.33,755.23 L65.80,754.11 L66.26,752.99 L66.70,751.86 L67.13,750.74 L67.54,749.60 L67.94,748.47 L68.32,747.33 L68.70,746.18 L69.06,745.03 L69.41,743.88 L69.75,742.72 L70.08,741.56 L70.40,740.40 L70.71,739.23 L71.01,738.05 L71.31,736.88 L71.60,735.69 L71.88,734.51 L72.15,733.32 L72.42,732.13 L72.68,730.93 L72.94,729.73 L73.20,728.52 L73.45,727.31 L73.69,726.10 L73.94,724.88 L74.18,723.66 L74.43,722.44 L74.67,721.21 L74.91,719.97 L75.15,718.74 L75.39,717.50 L75.64,716.25 L75.88,715.00 L76.13,713.75 L76.39,712.50 L76.64,711.24 L76.90,709.97 L77.16,708.70 L77.43,707.43 L77.71,706.16 L77.99,704.88 L78.28,703.59 L78.58,702.31 L78.88,701.02 L79.19,699.72 L79.52,698.43 L79.85,697.12 L80.19,695.82 L80.54,694.51 L80.91,693.20 L81.29,691.90 L81.69,690.60 L82.12,689.33 L82.57,688.08 L83.05,686.86 L83.56,685.68 L84.11,684.53 L84.69,683.44 L85.32,682.40 L86.00,681.43 L86.72,680.52 L87.50,679.68 L88.33,678.92 L89.22,678.25 L90.17,677.67 L91.15,677.21 L92.16,676.89 L93.17,676.71 L94.19,676.70 L95.20,676.87 L96.19,677.19 L97.18,677.65 L98.17,678.23 L99.16,678.92 L100.14,679.68 L101.13,680.50 L102.13,681.37 L103.13,682.26 L104.14,683.16 L105.17,684.04 L106.21,684.89 L107.26,685.69 L108.34,686.42 L109.44,687.08 L110.55,687.65 L111.68,688.15 L112.81,688.56 L113.96,688.91 L115.12,689.17 L116.28,689.36 L117.45,689.47 L118.62,689.51 L119.78,689.47 L120.95,689.36 L122.10,689.17 L123.25,688.92 L124.39,688.58 L125.51,688.18 L126.62,687.70 L127.72,687.16 L128.79,686.54 L129.85,685.87 L130.90,685.15 L131.92,684.38 L132.94,683.56 L133.93,682.71 L134.91,681.83 L135.88,680.93 L136.83,680.01 L137.76,679.07 L138.69,678.13 L139.59,677.19 L140.49,676.25 L141.37,675.31 L142.24,674.38 L143.11,673.45 L143.97,672.53 L144.83,671.62 L145.69,670.72 L146.54,669.83 L147.40,668.95 L148.27,668.09 L149.14,667.23 L150.01,666.40 L150.90,665.58 L151.80,664.77 L152.72,663.99 L153.65,663.23 L154.59,662.48 L155.56,661.76 L156.55,661.07 L157.56,660.39 L158.60,659.75 L159.67,659.13 L160.76,658.54 L161.88,657.97 L163.03,657.44 L164.19,656.94 L165.38,656.47 L166.58,656.03 L167.80,655.62 L169.04,655.25 L170.28,654.91 L171.54,654.60 L172.80,654.33 L174.06,654.10 L175.33,653.90 L176.60,653.74 L177.87,653.62 L179.13,653.54 L180.39,653.50 L181.64,653.50 L182.88,653.54 L184.11,653.61 L185.33,653.73 L186.54,653.89 L187.73,654.09 L188.92,654.32 L190.10,654.59 L191.26,654.89 L192.42,655.22 L193.57,655.59 L194.70,655.99 L195.83,656.42 L196.95,656.88 L198.05,657.37 L199.15,657.89 L200.24,658.43 L201.32,659.00 L202.39,659.59 L203.45,660.21 L204.50,660.85 L205.54,661.51 L206.58,662.19 L207.60,662.89 L208.62,663.62 L209.63,664.35 L210.63,665.11 L211.62,665.88 L212.60,666.66 L213.57,667.46 L214.54,668.28 L215.50,669.10 L216.45,669.93 L217.39,670.78 L218.32,671.63 L219.25,672.49 L220.17,673.36 L221.08,674.23 L221.99,675.11 L222.88,676.00 L223.77,676.89 L224.66,677.78 L225.53,678.68 L226.40,679.59 L227.27,680.49 L228.12,681.41 L228.98,682.33 L229.82,683.25 L230.66,684.17 L231.50,685.10 L232.32,686.04 L233.15,686.97 L233.97,687.92 L234.78,688.86 L235.59,689.81 L236.39,690.76 L237.19,691.72 L237.99,692.67 L238.78,693.63 L239.57,694.60 L240.35,695.56 L241.13,696.53 L241.91,697.50 L242.68,698.48 L243.45,699.45 L244.22,700.43 L244.99,701.41 L245.75,702.39 L246.51,703.37 L247.26,704.36 L248.02,705.34 L248.77,706.33 L249.52,707.32 L250.27,708.31 L251.02,709.30 L251.77,710.29 L252.52,711.28 L253.26,712.27 L254.00,713.27 L254.75,714.26 L255.49,715.25 L256.23,716.24 L256.98,717.24 L257.72,718.23 L258.46,719.22 L259.20,720.22 L259.95,721.21 L260.69,722.20 L261.43,723.19 L262.18,724.18 L262.93,725.16 L263.67,726.15 L264.42,727.14 L265.18,728.12 L265.93,729.10 L266.68,730.08 L267.44,731.06 L268.20,732.04 L268.96,733.01 L269.72,733.99 L270.49,734.96 L271.26,735.93 L272.03,736.89 L272.81,737.85 L273.59,738.81 L274.37,739.77 L275.16,740.72 L275.95,741.67 L276.75,742.62 L277.54,743.57 L278.35,744.51 L279.16,745.44 L279.97,746.38 L280.79,747.30 L281.61,748.23 L282.44,749.15 L283.27,750.07 L284.11,750.98 L284.95,751.89 L285.80,752.79 L286.66,753.69 L287.52,754.58 L288.39,755.47 L289.26,756.35 L290.15,757.23 L291.03,758.10 L291.93,758.97 L292.83,759.83 L293.74,760.68 L294.66,761.53 L295.58,762.38 L296.52,763.21 L297.46,764.04 L298.41,764.87 L299.36,765.69 L300.33,766.50" fill="none" stroke="#3434b8" stroke-width="1.3"/><path d="M20.63,821.84 L22.03,821.84 L23.46,821.87 L24.90,821.91 L26.36,821.97 L27.84,822.04 L29.33,822.11 L30.83,822.19 L32.33,822.26 L33.85,822.34 L35.37,822.41 L36.90,822.48 L38.43,822.53 L39.96,822.57 L41.49,822.59 L43.02,822.59 L44.55,822.57 L46.06,822.52 L47.57,822.44 L49.07,822.33 L50.56,822.19 L52.04,822.01 L53.50,821.79 L54.95,821.52 L56.38,821.21 L57.79,820.84 L59.18,820.42 L60.54,819.95 L61.88,819.42 L63.19,818.82 L64.48,818.16 L65.74,817.44 L66.98,816.66 L68.20,815.81 L69.41,814.91 L70.61,813.95 L71.81,812.94 L73.00,811.88 L74.20,810.77 L75.40,809.63 L76.61,808.51 L77.83,807.44 L79.05,806.46 L80.29,805.60 L81.53,804.92 L82.79,804.43 L84.06,804.19 L85.34,804.23 L86.62,804.53 L87.87,805.06 L89.08,805.78 L90.22,806.65 L91.27,807.63 L92.24,808.70 L93.15,809.86 L93.98,811.10 L94.77,812.39 L95.51,813.74 L96.21,815.12 L96.89,816.52 L97.54,817.94 L98.19,819.37 L98.83,820.78 L99.47,822.20 L100.11,823.61 L100.74,825.01 L101.38,826.40 L102.01,827.79 L102.65,829.17 L103.30,830.55 L103.94,831.91 L104.60,833.27 L105.26,834.61 L105.94,835.95 L106.62,837.27 L107.31,838.58 L108.02,839.88 L108.74,841.17 L109.48,842.45 L110.24,843.71 L111.01,844.96 L111.81,846.19 L112.62,847.41 L113.46,848.61 L114.32,849.79 L115.21,850.96 L116.12,852.11 L117.06,853.25 L118.03,854.36 L119.02,855.45 L120.04,856.53 L121.09,857.58 L122.17,858.61 L123.27,859.62 L124.39,860.60 L125.53,861.56 L126.70,862.49 L127.89,863.39 L129.10,864.27 L130.33,865.12 L131.58,865.93 L132.85,866.72 L134.13,867.47 L135.44,868.20 L136.75,868.89 L138.09,869.54 L139.43,870.16 L140.80,870.74 L142.17,871.29 L143.56,871.79 L144.96,872.26 L146.37,872.69 L147.78,873.09 L149.21,873.45 L150.65,873.77 L152.10,874.07 L153.55,874.34 L155.01,874.58 L156.48,874.80 L157.96,875.00 L159.44,875.17 L160.92,875.32 L162.41,875.46 L163.91,875.59 L165.41,875.70 L166.91,875.79 L168.41,875.88 L169.91,875.96 L171.42,876.04 L172.92,876.11 L174.43,876.18 L175.93,876.25 L177.44,876.32 L178.94,876.39 L180.44,876.47 L181.94,876.54 L183.44,876.62 L184.94,876.70 L186.44,876.79 L187.93,876.87 L189.43,876.96 L190.92,877.05 L192.41,877.14 L193.91,877.23 L195.40,877.33 L196.89,877.43 L198.37,877.52 L199.86,877.62 L201.35,877.73 L202.84,877.83 L204.32,877.94 L205.81,878.04 L207.29,878.15 L208.77,878.26 L210.26,878.37 L211.74,878.49 L213.22,878.60 L214.70,878.72 L216.18,878.84 L217.66,878.95 L219.14,879.07 L220.62,879.20 L222.10,879.32 L223.57,879.44 L225.05,879.57 L226.53,879.69 L228.00,879.82 L229.48,879.95 L230.96,880.08 L232.43,880.21 L233.91,880.34 L235.38,880.48 L236.86,880.61 L238.33,880.75 L239.81,880.88 L241.28,881.02 L242.76,881.16 L244.23,881.29 L245.71,881.43 L247.18,881.57 L248.66,881.71 L250.13,881.85 L251.61,882.00 L253.08,882.14 L254.56,882.28 L256.03,882.42 L257.51,882.57 L258.99,882.71 L260.46,882.86 L261.94,883.00 L263.42,883.15 L264.89,883.30 L266.37,883.44 L267.85,883.59 L269.33,883.74 L270.81,883.88 L272.29,884.03 L273.77,884.18 L275.25,884.33 L276.73,884.47 L278.21,884.62 L279.69,884.77 L281.18,884.92 L282.66,885.07 L284.15,885.21 L285.63,885.36 L287.12,885.51 L288.61,885.66 L290.09,885.80 L291.58,885.95 L293.07,886.10 L294.56,886.25 L296.06,886.39 L297.55,886.54 L299.04,886.68 L300.54,886.83" fill="none" stroke="#3434b8" stroke-width="1.3" stroke-dasharray="3.6,3.8"/></g><rect x="20.60" y="619.80" width="279.90" height="281.80" fill="none" stroke="#303030" stroke-width="1.2"/><text x="20.60" y="912.30" text-anchor="middle" font-size="7.7" textLength="11.84" lengthAdjust="spacingAndGlyphs" fill="#222" stroke="#222" stroke-width="0.12">450</text><text x="51.70" y="912.30" text-anchor="middle" font-size="7.7" textLength="11.84" lengthAdjust="spacingAndGlyphs" fill="#222" stroke="#222" stroke-width="0.12">500</text><text x="82.80" y="912.30" text-anchor="middle" font-size="7.7" textLength="11.84" lengthAdjust="spacingAndGlyphs" fill="#222" stroke="#222" stroke-width="0.12">550</text><text x="113.90" y="912.30" text-anchor="middle" font-size="7.7" textLength="11.84" lengthAdjust="spacingAndGlyphs" fill="#222" stroke="#222" stroke-width="0.12">600</text><text x="145.00" y="912.30" text-anchor="middle" font-size="7.7" textLength="11.84" lengthAdjust="spacingAndGlyphs" fill="#222" stroke="#222" stroke-width="0.12">650</text><text x="176.10" y="912.30" text-anchor="middle" font-size="7.7" textLength="11.84" lengthAdjust="spacingAndGlyphs" fill="#222" stroke="#222" stroke-width="0.12">700</text><text x="207.20" y="912.30" text-anchor="middle" font-size="7.7" textLength="11.84" lengthAdjust="spacingAndGlyphs" fill="#222" stroke="#222" stroke-width="0.12">750</text><text x="238.30" y="912.30" text-anchor="middle" font-size="7.7" textLength="11.84" lengthAdjust="spacingAndGlyphs" fill="#222" stroke="#222" stroke-width="0.12">800</text><text x="269.40" y="912.30" text-anchor="middle" font-size="7.7" textLength="11.84" lengthAdjust="spacingAndGlyphs" fill="#222" stroke="#222" stroke-width="0.12">850</text><text x="300.50" y="912.30" text-anchor="middle" font-size="7.7" textLength="11.84" lengthAdjust="spacingAndGlyphs" fill="#222" stroke="#222" stroke-width="0.12">900</text><text x="17.80" y="904.00" text-anchor="end" font-size="7.7" textLength="3.95" lengthAdjust="spacingAndGlyphs" fill="#222" stroke="#222" stroke-width="0.12">0</text><text x="17.80" y="856.05" text-anchor="end" font-size="7.7" textLength="3.95" lengthAdjust="spacingAndGlyphs" fill="#222" stroke="#222" stroke-width="0.12">1</text><text x="17.80" y="808.10" text-anchor="end" font-size="7.7" textLength="3.95" lengthAdjust="spacingAndGlyphs" fill="#222" stroke="#222" stroke-width="0.12">2</text><text x="17.80" y="760.15" text-anchor="end" font-size="7.7" textLength="3.95" lengthAdjust="spacingAndGlyphs" fill="#222" stroke="#222" stroke-width="0.12">3</text><text x="17.80" y="712.20" text-anchor="end" font-size="7.7" textLength="3.95" lengthAdjust="spacingAndGlyphs" fill="#222" stroke="#222" stroke-width="0.12">4</text><text x="17.80" y="664.25" text-anchor="end" font-size="7.7" textLength="3.95" lengthAdjust="spacingAndGlyphs" fill="#222" stroke="#222" stroke-width="0.12">5</text><path d="M51.70,901.60v-3.00 M51.70,619.80v3.00 M82.80,901.60v-3.00 M82.80,619.80v3.00 M113.90,901.60v-3.00 M113.90,619.80v3.00 M145.00,901.60v-3.00 M145.00,619.80v3.00 M176.10,901.60v-3.00 M176.10,619.80v3.00 M207.20,901.60v-3.00 M207.20,619.80v3.00 M238.30,901.60v-3.00 M238.30,619.80v3.00 M269.40,901.60v-3.00 M269.40,619.80v3.00 M20.60,853.65h3.00 M300.50,853.65h-3.00 M20.60,805.70h3.00 M300.50,805.70h-3.00 M20.60,757.75h3.00 M300.50,757.75h-3.00 M20.60,709.80h3.00 M300.50,709.80h-3.00 M20.60,661.85h3.00 M300.50,661.85h-3.00" stroke="#303030" stroke-width="1" fill="none"/><text x="160.55" y="925.80" text-anchor="middle" font-size="11.6" fill="#1a1a1a" stroke="#1a1a1a" stroke-width="0.18">Wavelength (nm)</text><text transform="translate(9.00,760.70) rotate(-90)" text-anchor="middle" font-size="11.5" fill="#1a1a1a" stroke="#1a1a1a" stroke-width="0.15">Efficiency (80nm Core)@(35nm shell)</text><text x="267.60" y="643.90" font-size="19.2" fill="#111">(e)</text><rect x="94.70" y="732.40" width="145.90" height="43.80" fill="#fff" stroke="#303030" stroke-width="1"/><path d="M96.30,739.50H110.20" stroke="#d43b47" stroke-width="1.1"/><text x="112.30" y="742.10" font-size="8.5" textLength="123.46" lengthAdjust="spacingAndGlyphs" fill="#111" stroke="#111" stroke-width="0.12">Qext without surface scattering</text><path d="M96.30,750.20H110.20" stroke="#d43b47" stroke-width="1.1" stroke-dasharray="3.6,3.8"/><text x="112.30" y="752.80" font-size="8.5" textLength="125.75" lengthAdjust="spacingAndGlyphs" fill="#111" stroke="#111" stroke-width="0.12">Qabs without surface scattering</text><path d="M96.30,760.60H110.20" stroke="#3434b8" stroke-width="1.1"/><text x="112.30" y="763.20" font-size="8.5" textLength="110.62" lengthAdjust="spacingAndGlyphs" fill="#111" stroke="#111" stroke-width="0.12">Qext with surface scattering</text><path d="M96.30,770.60H110.20" stroke="#3434b8" stroke-width="1.1" stroke-dasharray="3.6,3.8"/><text x="112.30" y="773.20" font-size="8.5" textLength="112.91" lengthAdjust="spacingAndGlyphs" fill="#111" stroke="#111" stroke-width="0.12">Qabs with surface scattering</text></g>
<g><clipPath id="clipf"><rect x="336.00" y="619.70" width="274.30" height="282.00"/></clipPath><g clip-path="url(#clipf)"><path d="M336.13,777.52 L336.92,777.99 L337.82,778.50 L338.82,779.06 L339.90,779.64 L341.07,780.24 L342.29,780.84 L343.57,781.43 L344.90,781.99 L346.25,782.53 L347.63,783.01 L349.01,783.44 L350.39,783.80 L351.76,784.08 L353.10,784.27 L354.40,784.35 L355.66,784.31 L356.86,784.15 L358.01,783.87 L359.10,783.47 L360.14,782.97 L361.14,782.38 L362.09,781.71 L363.00,780.96 L363.88,780.14 L364.72,779.26 L365.53,778.34 L366.31,777.37 L367.07,776.38 L367.81,775.36 L368.53,774.33 L369.23,773.29 L369.92,772.24 L370.59,771.18 L371.24,770.12 L371.88,769.04 L372.50,767.95 L373.11,766.85 L373.70,765.75 L374.28,764.63 L374.84,763.51 L375.39,762.38 L375.93,761.24 L376.45,760.10 L376.96,758.95 L377.45,757.79 L377.94,756.62 L378.41,755.45 L378.87,754.28 L379.32,753.09 L379.75,751.90 L380.18,750.71 L380.59,749.51 L381.00,748.31 L381.39,747.10 L381.78,745.89 L382.16,744.67 L382.52,743.45 L382.88,742.23 L383.23,741.00 L383.57,739.77 L383.90,738.54 L384.23,737.30 L384.55,736.06 L384.86,734.82 L385.17,733.58 L385.46,732.34 L385.76,731.10 L386.04,729.85 L386.32,728.61 L386.60,727.36 L386.87,726.12 L387.14,724.87 L387.40,723.63 L387.66,722.38 L387.91,721.14 L388.16,719.90 L388.41,718.66 L388.66,717.42 L388.90,716.18 L389.14,714.94 L389.38,713.71 L389.62,712.48 L389.86,711.25 L390.09,710.03 L390.33,708.81 L390.56,707.59 L390.80,706.38 L391.03,705.17 L391.27,703.97 L391.51,702.76 L391.75,701.56 L391.98,700.37 L392.23,699.17 L392.47,697.98 L392.71,696.78 L392.96,695.59 L393.21,694.40 L393.47,693.20 L393.72,692.01 L393.99,690.81 L394.25,689.61 L394.52,688.40 L394.79,687.20 L395.07,685.99 L395.36,684.77 L395.65,683.55 L395.94,682.32 L396.24,681.09 L396.55,679.85 L396.86,678.60 L397.18,677.35 L397.51,676.08 L397.84,674.81 L398.18,673.53 L398.53,672.24 L398.89,670.94 L399.26,669.63 L399.63,668.30 L400.02,666.97 L400.41,665.62 L400.81,664.26 L401.23,662.89 L401.66,661.55 L402.13,660.29 L402.65,659.14 L403.23,658.15 L403.87,657.37 L404.60,656.84 L405.43,656.61 L406.36,656.71 L407.36,657.11 L408.41,657.74 L409.45,658.57 L410.45,659.52 L411.37,660.54 L412.19,661.60 L412.92,662.68 L413.57,663.79 L414.17,664.92 L414.71,666.07 L415.21,667.22 L415.70,668.39 L416.17,669.56 L416.64,670.73 L417.14,671.89 L417.66,673.05 L418.22,674.19 L418.85,675.32 L419.54,676.43 L420.31,677.51 L421.15,678.55 L422.05,679.55 L423.02,680.49 L424.02,681.37 L425.07,682.17 L426.15,682.88 L427.26,683.49 L428.37,683.99 L429.49,684.37 L430.61,684.62 L431.73,684.74 L432.83,684.74 L433.93,684.61 L435.02,684.37 L436.10,684.03 L437.17,683.59 L438.23,683.07 L439.28,682.46 L440.33,681.78 L441.36,681.03 L442.38,680.22 L443.40,679.36 L444.40,678.46 L445.40,677.52 L446.38,676.56 L447.35,675.57 L448.31,674.56 L449.26,673.55 L450.20,672.54 L451.12,671.54 L452.04,670.56 L452.94,669.59 L453.83,668.65 L454.72,667.72 L455.59,666.81 L456.46,665.91 L457.33,665.03 L458.19,664.16 L459.05,663.30 L459.91,662.44 L460.77,661.60 L461.64,660.76 L462.50,659.92 L463.38,659.09 L464.26,658.26 L465.14,657.43 L466.04,656.59 L466.95,655.76 L467.87,654.92 L468.81,654.09 L469.75,653.27 L470.72,652.46 L471.70,651.67 L472.70,650.90 L473.72,650.16 L474.76,649.44 L475.83,648.77 L476.91,648.13 L478.02,647.54 L479.16,646.99 L480.32,646.50 L481.51,646.06 L482.72,645.68 L483.95,645.34 L485.20,645.06 L486.46,644.83 L487.73,644.65 L489.00,644.52 L490.29,644.44 L491.58,644.42 L492.87,644.44 L494.16,644.52 L495.44,644.64 L496.71,644.82 L497.98,645.04 L499.23,645.32 L500.47,645.64 L501.69,646.01 L502.89,646.43 L504.06,646.90 L505.21,647.42 L506.34,647.98 L507.45,648.58 L508.54,649.21 L509.61,649.88 L510.66,650.58 L511.70,651.30 L512.72,652.04 L513.73,652.81 L514.73,653.58 L515.72,654.37 L516.70,655.16 L517.68,655.96 L518.64,656.77 L519.60,657.59 L520.55,658.41 L521.50,659.24 L522.43,660.08 L523.36,660.93 L524.28,661.78 L525.20,662.64 L526.10,663.50 L527.00,664.37 L527.90,665.25 L528.78,666.13 L529.66,667.02 L530.54,667.92 L531.41,668.82 L532.27,669.72 L533.12,670.64 L533.98,671.55 L534.82,672.48 L535.66,673.40 L536.49,674.34 L537.32,675.27 L538.15,676.22 L538.96,677.17 L539.78,678.12 L540.59,679.07 L541.39,680.03 L542.19,681.00 L542.99,681.97 L543.78,682.94 L544.56,683.92 L545.35,684.90 L546.13,685.88 L546.90,686.87 L547.67,687.86 L548.44,688.86 L549.21,689.85 L549.97,690.85 L550.73,691.86 L551.49,692.86 L552.24,693.87 L552.99,694.88 L553.74,695.90 L554.49,696.91 L555.23,697.93 L555.97,698.95 L556.71,699.97 L557.45,701.00 L558.18,702.02 L558.92,703.05 L559.65,704.08 L560.38,705.11 L561.11,706.14 L561.84,707.17 L562.57,708.20 L563.30,709.24 L564.03,710.27 L564.75,711.31 L565.48,712.34 L566.20,713.38 L566.93,714.41 L567.65,715.45 L568.38,716.49 L569.11,717.52 L569.83,718.56 L570.56,719.59 L571.28,720.63 L572.01,721.66 L572.74,722.70 L573.47,723.73 L574.20,724.76 L574.93,725.79 L575.67,726.82 L576.40,727.85 L577.14,728.87 L577.88,729.90 L578.62,730.92 L579.36,731.94 L580.10,732.96 L580.85,733.98 L581.60,735.00 L582.35,736.01 L583.10,737.02 L583.86,738.03 L584.62,739.03 L585.39,740.04 L586.15,741.03 L586.92,742.03 L587.69,743.02 L588.47,744.01 L589.25,745.00 L590.04,745.98 L590.83,746.96 L591.62,747.94 L592.41,748.91 L593.22,749.88 L594.02,750.84 L594.83,751.80 L595.65,752.76 L596.47,753.71 L597.29,754.65 L598.12,755.59 L598.96,756.53 L599.80,757.46 L600.64,758.39 L601.50,759.31 L602.35,760.23 L603.22,761.14 L604.09,762.04 L604.96,762.94 L605.85,763.83 L606.74,764.72 L607.63,765.60 L608.53,766.48 L609.44,767.35 L610.36,768.21" fill="none" stroke="#d43b47" stroke-width="1.3"/><path d="M336.11,822.00 L337.62,822.15 L339.16,822.33 L340.72,822.53 L342.31,822.74 L343.92,822.97 L345.55,823.20 L347.19,823.43 L348.84,823.65 L350.50,823.85 L352.16,824.03 L353.82,824.19 L355.47,824.31 L357.12,824.38 L358.75,824.41 L360.38,824.39 L361.98,824.30 L363.56,824.15 L365.13,823.94 L366.67,823.66 L368.20,823.31 L369.70,822.89 L371.19,822.41 L372.66,821.87 L374.12,821.25 L375.55,820.57 L376.97,819.82 L378.38,819.01 L379.76,818.12 L381.14,817.17 L382.49,816.15 L383.84,815.07 L385.17,813.91 L386.48,812.69 L387.79,811.42 L389.09,810.13 L390.37,808.86 L391.66,807.66 L392.94,806.55 L394.23,805.59 L395.52,804.79 L396.81,804.21 L398.12,803.88 L399.43,803.84 L400.75,804.10 L402.05,804.63 L403.29,805.39 L404.45,806.36 L405.49,807.48 L406.41,808.74 L407.22,810.12 L407.93,811.59 L408.57,813.15 L409.13,814.77 L409.65,816.44 L410.13,818.14 L410.58,819.85 L411.04,821.56 L411.50,823.24 L411.98,824.89 L412.48,826.51 L413.01,828.09 L413.55,829.64 L414.11,831.17 L414.69,832.67 L415.28,834.15 L415.88,835.61 L416.49,837.07 L417.11,838.51 L417.73,839.94 L418.36,841.37 L419.00,842.80 L419.63,844.23 L420.26,845.67 L420.90,847.12 L421.53,848.57 L422.17,850.02 L422.82,851.48 L423.48,852.94 L424.16,854.40 L424.85,855.86 L425.56,857.32 L426.30,858.77 L427.05,860.22 L427.84,861.66 L428.66,863.09 L429.52,864.52 L430.41,865.93 L431.33,867.33 L432.30,868.70 L433.30,870.05 L434.33,871.37 L435.40,872.65 L436.51,873.89 L437.65,875.08 L438.82,876.22 L440.03,877.30 L441.27,878.31 L442.54,879.26 L443.85,880.14 L445.18,880.95 L446.55,881.69 L447.94,882.37 L449.36,882.98 L450.81,883.55 L452.28,884.05 L453.77,884.51 L455.28,884.92 L456.82,885.28 L458.37,885.61 L459.93,885.89 L461.51,886.14 L463.11,886.36 L464.72,886.55 L466.33,886.71 L467.96,886.84 L469.60,886.96 L471.24,887.06 L472.88,887.15 L474.54,887.22 L476.19,887.29 L477.84,887.35 L479.49,887.41 L481.14,887.47 L482.79,887.53 L484.44,887.59 L486.08,887.66 L487.72,887.73 L489.36,887.79 L491.00,887.86 L492.64,887.93 L494.27,888.01 L495.90,888.08 L497.53,888.15 L499.16,888.23 L500.79,888.31 L502.41,888.39 L504.03,888.47 L505.65,888.55 L507.27,888.63 L508.89,888.71 L510.51,888.79 L512.12,888.88 L513.74,888.96 L515.35,889.05 L516.96,889.14 L518.57,889.23 L520.18,889.31 L521.79,889.40 L523.40,889.49 L525.00,889.58 L526.61,889.68 L528.22,889.77 L529.82,889.86 L531.42,889.95 L533.03,890.05 L534.63,890.14 L536.23,890.23 L537.83,890.33 L539.43,890.42 L541.03,890.52 L542.63,890.61 L544.23,890.71 L545.83,890.80 L547.43,890.90 L549.03,890.99 L550.63,891.09 L552.23,891.18 L553.83,891.28 L555.44,891.37 L557.04,891.47 L558.64,891.56 L560.24,891.66 L561.84,891.75 L563.44,891.84 L565.04,891.94 L566.65,892.03 L568.25,892.12 L569.86,892.21 L571.46,892.31 L573.07,892.40 L574.67,892.49 L576.28,892.58 L577.89,892.67 L579.50,892.75 L581.11,892.84 L582.72,892.93 L584.34,893.02 L585.95,893.10 L587.57,893.18 L589.18,893.27 L590.80,893.35 L592.42,893.43 L594.05,893.51 L595.67,893.59 L597.29,893.67 L598.92,893.75 L600.55,893.82 L602.18,893.90 L603.81,893.97 L605.45,894.04 L607.08,894.11 L608.72,894.18 L610.36,894.25" fill="none" stroke="#d43b47" stroke-width="1.3" stroke-dasharray="3.6,3.8"/><path d="M336.11,770.90 L337.00,771.46 L337.96,772.03 L339.00,772.61 L340.10,773.18 L341.25,773.73 L342.45,774.27 L343.69,774.77 L344.96,775.24 L346.25,775.67 L347.56,776.04 L348.88,776.35 L350.19,776.60 L351.49,776.77 L352.77,776.85 L354.03,776.84 L355.26,776.74 L356.44,776.53 L357.58,776.21 L358.68,775.80 L359.74,775.31 L360.77,774.73 L361.76,774.08 L362.72,773.37 L363.64,772.59 L364.54,771.76 L365.41,770.88 L366.25,769.97 L367.07,769.02 L367.86,768.05 L368.63,767.06 L369.38,766.06 L370.11,765.05 L370.82,764.02 L371.52,762.98 L372.19,761.93 L372.85,760.86 L373.48,759.79 L374.10,758.71 L374.71,757.61 L375.29,756.51 L375.86,755.40 L376.42,754.27 L376.96,753.14 L377.48,752.01 L377.99,750.86 L378.49,749.71 L378.97,748.55 L379.44,747.38 L379.90,746.21 L380.35,745.04 L380.78,743.85 L381.21,742.67 L381.62,741.48 L382.02,740.29 L382.41,739.09 L382.79,737.89 L383.17,736.69 L383.53,735.49 L383.89,734.28 L384.24,733.07 L384.58,731.87 L384.92,730.66 L385.24,729.46 L385.57,728.25 L385.88,727.04 L386.20,725.84 L386.50,724.64 L386.81,723.44 L387.11,722.25 L387.40,721.05 L387.70,719.86 L387.99,718.68 L388.28,717.50 L388.57,716.32 L388.85,715.14 L389.14,713.97 L389.42,712.80 L389.71,711.63 L389.99,710.46 L390.28,709.29 L390.57,708.11 L390.86,706.94 L391.15,705.77 L391.44,704.60 L391.74,703.42 L392.04,702.24 L392.35,701.06 L392.66,699.88 L392.97,698.69 L393.29,697.49 L393.61,696.29 L393.94,695.09 L394.28,693.88 L394.62,692.66 L394.97,691.44 L395.33,690.21 L395.69,688.97 L396.07,687.72 L396.45,686.46 L396.84,685.20 L397.24,683.92 L397.65,682.63 L398.07,681.34 L398.50,680.03 L398.95,678.73 L399.42,677.45 L399.92,676.20 L400.44,675.00 L401.00,673.86 L401.60,672.80 L402.24,671.83 L402.93,670.97 L403.68,670.23 L404.49,669.63 L405.36,669.18 L406.29,668.90 L407.31,668.80 L408.39,668.89 L409.52,669.15 L410.68,669.57 L411.84,670.13 L412.99,670.81 L414.09,671.61 L415.14,672.50 L416.11,673.47 L417.02,674.48 L417.90,675.51 L418.76,676.53 L419.62,677.52 L420.51,678.43 L421.45,679.24 L422.45,679.93 L423.54,680.47 L424.69,680.87 L425.89,681.14 L427.13,681.30 L428.37,681.36 L429.62,681.34 L430.84,681.24 L432.03,681.08 L433.20,680.87 L434.34,680.59 L435.46,680.25 L436.56,679.87 L437.64,679.43 L438.70,678.94 L439.74,678.40 L440.77,677.83 L441.78,677.21 L442.78,676.55 L443.76,675.86 L444.74,675.14 L445.70,674.38 L446.66,673.60 L447.61,672.79 L448.55,671.95 L449.49,671.10 L450.43,670.23 L451.36,669.34 L452.30,668.44 L453.23,667.53 L454.17,666.62 L455.10,665.69 L456.04,664.76 L456.98,663.83 L457.93,662.90 L458.87,661.97 L459.82,661.04 L460.77,660.12 L461.73,659.21 L462.69,658.31 L463.66,657.42 L464.63,656.55 L465.61,655.69 L466.60,654.85 L467.59,654.02 L468.59,653.23 L469.60,652.45 L470.62,651.70 L471.64,650.99 L472.68,650.30 L473.72,649.64 L474.78,649.02 L475.84,648.44 L476.92,647.90 L478.01,647.39 L479.11,646.93 L480.23,646.52 L481.35,646.15 L482.49,645.82 L483.64,645.54 L484.80,645.30 L485.97,645.11 L487.14,644.96 L488.33,644.84 L489.52,644.77 L490.71,644.73 L491.91,644.74 L493.12,644.78 L494.32,644.86 L495.53,644.97 L496.75,645.11 L497.96,645.29 L499.17,645.51 L500.38,645.75 L501.59,646.03 L502.79,646.34 L503.99,646.67 L505.19,647.04 L506.38,647.43 L507.57,647.85 L508.75,648.29 L509.92,648.76 L511.08,649.25 L512.23,649.77 L513.37,650.31 L514.50,650.87 L515.62,651.45 L516.72,652.05 L517.81,652.68 L518.89,653.31 L519.95,653.97 L521.00,654.64 L522.03,655.33 L523.05,656.04 L524.05,656.76 L525.05,657.50 L526.03,658.25 L526.99,659.02 L527.95,659.80 L528.89,660.60 L529.82,661.41 L530.74,662.23 L531.65,663.06 L532.55,663.91 L533.44,664.77 L534.31,665.64 L535.18,666.52 L536.04,667.41 L536.89,668.32 L537.73,669.23 L538.57,670.15 L539.39,671.08 L540.21,672.02 L541.02,672.97 L541.83,673.92 L542.62,674.88 L543.41,675.85 L544.20,676.83 L544.98,677.81 L545.75,678.80 L546.52,679.79 L547.28,680.79 L548.04,681.79 L548.80,682.80 L549.55,683.81 L550.30,684.82 L551.04,685.84 L551.79,686.86 L552.53,687.88 L553.26,688.90 L554.00,689.92 L554.73,690.95 L555.47,691.97 L556.20,693.00 L556.93,694.02 L557.66,695.04 L558.40,696.07 L559.13,697.09 L559.86,698.11 L560.60,699.12 L561.33,700.14 L562.07,701.15 L562.81,702.15 L563.55,703.16 L564.30,704.16 L565.04,705.15 L565.79,706.15 L566.54,707.14 L567.29,708.13 L568.04,709.11 L568.79,710.10 L569.55,711.08 L570.30,712.06 L571.06,713.03 L571.82,714.01 L572.58,714.98 L573.35,715.95 L574.11,716.92 L574.88,717.88 L575.64,718.85 L576.41,719.81 L577.18,720.77 L577.95,721.73 L578.73,722.69 L579.50,723.65 L580.27,724.60 L581.05,725.56 L581.83,726.51 L582.61,727.47 L583.38,728.42 L584.17,729.37 L584.95,730.32 L585.73,731.27 L586.51,732.22 L587.30,733.17 L588.08,734.12 L588.87,735.07 L589.65,736.02 L590.44,736.97 L591.23,737.92 L592.02,738.87 L592.81,739.82 L593.60,740.78 L594.39,741.73 L595.18,742.68 L595.97,743.63 L596.76,744.59 L597.56,745.54 L598.35,746.50 L599.14,747.46 L599.94,748.42 L600.73,749.38 L601.53,750.34 L602.32,751.30 L603.12,752.27 L603.91,753.23 L604.71,754.20 L605.51,755.17 L606.30,756.14 L607.10,757.12 L607.90,758.10 L608.69,759.07 L609.49,760.06 L610.29,761.04" fill="none" stroke="#3434b8" stroke-width="1.3"/><path d="M336.10,818.40 L337.60,818.50 L339.11,818.63 L340.65,818.77 L342.20,818.92 L343.76,819.08 L345.34,819.23 L346.92,819.38 L348.51,819.52 L350.11,819.65 L351.70,819.75 L353.30,819.83 L354.89,819.87 L356.48,819.88 L358.07,819.85 L359.64,819.77 L361.20,819.64 L362.75,819.46 L364.28,819.21 L365.79,818.91 L367.28,818.53 L368.75,818.09 L370.19,817.59 L371.61,817.01 L372.99,816.36 L374.35,815.63 L375.68,814.83 L376.98,813.97 L378.27,813.06 L379.55,812.10 L380.83,811.10 L382.12,810.08 L383.41,809.05 L384.72,808.00 L386.06,806.96 L387.42,805.93 L388.81,804.94 L390.21,804.00 L391.62,803.14 L393.04,802.38 L394.45,801.74 L395.85,801.24 L397.23,800.92 L398.58,800.78 L399.91,800.85 L401.19,801.13 L402.43,801.62 L403.60,802.29 L404.70,803.13 L405.73,804.14 L406.68,805.29 L407.56,806.56 L408.38,807.94 L409.15,809.41 L409.87,810.94 L410.56,812.53 L411.23,814.13 L411.87,815.75 L412.51,817.36 L413.14,818.93 L413.77,820.47 L414.41,821.97 L415.06,823.43 L415.70,824.86 L416.36,826.27 L417.02,827.65 L417.69,829.02 L418.36,830.37 L419.04,831.72 L419.73,833.05 L420.43,834.39 L421.14,835.72 L421.86,837.06 L422.59,838.42 L423.33,839.78 L424.08,841.15 L424.85,842.53 L425.63,843.90 L426.43,845.28 L427.24,846.65 L428.07,848.02 L428.92,849.38 L429.79,850.73 L430.68,852.06 L431.59,853.37 L432.52,854.66 L433.48,855.93 L434.46,857.18 L435.47,858.39 L436.51,859.58 L437.57,860.73 L438.66,861.84 L439.78,862.91 L440.94,863.94 L442.12,864.92 L443.34,865.85 L444.60,866.73 L445.88,867.56 L447.21,868.33 L448.57,869.04 L449.97,869.69 L451.41,870.27 L452.88,870.80 L454.37,871.28 L455.89,871.71 L457.44,872.10 L458.99,872.44 L460.57,872.75 L462.15,873.03 L463.73,873.28 L465.32,873.51 L466.90,873.72 L468.48,873.91 L470.06,874.09 L471.63,874.25 L473.20,874.40 L474.77,874.54 L476.33,874.67 L477.89,874.79 L479.45,874.91 L481.01,875.02 L482.56,875.12 L484.12,875.22 L485.67,875.32 L487.22,875.42 L488.78,875.52 L490.33,875.61 L491.89,875.71 L493.44,875.82 L494.99,875.92 L496.55,876.02 L498.10,876.13 L499.66,876.24 L501.22,876.35 L502.77,876.46 L504.33,876.57 L505.89,876.68 L507.44,876.80 L509.00,876.91 L510.56,877.03 L512.12,877.15 L513.67,877.27 L515.23,877.39 L516.79,877.51 L518.35,877.64 L519.91,877.76 L521.47,877.89 L523.03,878.01 L524.58,878.14 L526.14,878.27 L527.70,878.40 L529.26,878.53 L530.82,878.66 L532.38,878.80 L533.94,878.93 L535.50,879.07 L537.06,879.20 L538.62,879.34 L540.18,879.48 L541.74,879.62 L543.30,879.75 L544.86,879.90 L546.42,880.04 L547.98,880.18 L549.54,880.32 L551.10,880.46 L552.67,880.61 L554.23,880.75 L555.79,880.90 L557.35,881.04 L558.91,881.19 L560.47,881.34 L562.03,881.49 L563.59,881.63 L565.15,881.78 L566.70,881.93 L568.26,882.08 L569.82,882.23 L571.38,882.38 L572.94,882.54 L574.50,882.69 L576.06,882.84 L577.62,882.99 L579.18,883.14 L580.73,883.30 L582.29,883.45 L583.85,883.60 L585.41,883.76 L586.97,883.91 L588.52,884.07 L590.08,884.22 L591.64,884.37 L593.19,884.53 L594.75,884.68 L596.30,884.84 L597.86,884.99 L599.41,885.15 L600.97,885.30 L602.52,885.46 L604.08,885.61 L605.63,885.77 L607.18,885.92 L608.74,886.08 L610.29,886.23" fill="none" stroke="#3434b8" stroke-width="1.3" stroke-dasharray="3.6,3.8"/></g><rect x="336.00" y="619.70" width="274.30" height="282.00" fill="none" stroke="#303030" stroke-width="1.2"/><text x="336.00" y="912.40" text-anchor="middle" font-size="7.7" textLength="11.84" lengthAdjust="spacingAndGlyphs" fill="#222" stroke="#222" stroke-width="0.12">450</text><text x="366.48" y="912.40" text-anchor="middle" font-size="7.7" textLength="11.84" lengthAdjust="spacingAndGlyphs" fill="#222" stroke="#222" stroke-width="0.12">500</text><text x="396.96" y="912.40" text-anchor="middle" font-size="7.7" textLength="11.84" lengthAdjust="spacingAndGlyphs" fill="#222" stroke="#222" stroke-width="0.12">550</text><text x="427.43" y="912.40" text-anchor="middle" font-size="7.7" textLength="11.84" lengthAdjust="spacingAndGlyphs" fill="#222" stroke="#222" stroke-width="0.12">600</text><text x="457.91" y="912.40" text-anchor="middle" font-size="7.7" textLength="11.84" lengthAdjust="spacingAndGlyphs" fill="#222" stroke="#222" stroke-width="0.12">650</text><text x="488.39" y="912.40" text-anchor="middle" font-size="7.7" textLength="11.84" lengthAdjust="spacingAndGlyphs" fill="#222" stroke="#222" stroke-width="0.12">700</text><text x="518.87" y="912.40" text-anchor="middle" font-size="7.7" textLength="11.84" lengthAdjust="spacingAndGlyphs" fill="#222" stroke="#222" stroke-width="0.12">750</text><text x="549.34" y="912.40" text-anchor="middle" font-size="7.7" textLength="11.84" lengthAdjust="spacingAndGlyphs" fill="#222" stroke="#222" stroke-width="0.12">800</text><text x="579.82" y="912.40" text-anchor="middle" font-size="7.7" textLength="11.84" lengthAdjust="spacingAndGlyphs" fill="#222" stroke="#222" stroke-width="0.12">850</text><text x="610.30" y="912.40" text-anchor="middle" font-size="7.7" textLength="11.84" lengthAdjust="spacingAndGlyphs" fill="#222" stroke="#222" stroke-width="0.12">900</text><text x="333.20" y="904.10" text-anchor="end" font-size="7.7" textLength="3.95" lengthAdjust="spacingAndGlyphs" fill="#222" stroke="#222" stroke-width="0.12">0</text><text x="333.20" y="852.83" text-anchor="end" font-size="7.7" textLength="9.87" lengthAdjust="spacingAndGlyphs" fill="#222" stroke="#222" stroke-width="0.12">0.2</text><text x="333.20" y="801.55" text-anchor="end" font-size="7.7" textLength="9.87" lengthAdjust="spacingAndGlyphs" fill="#222" stroke="#222" stroke-width="0.12">0.4</text><text x="333.20" y="750.28" text-anchor="end" font-size="7.7" textLength="9.87" lengthAdjust="spacingAndGlyphs" fill="#222" stroke="#222" stroke-width="0.12">0.6</text><text x="333.20" y="699.01" text-anchor="end" font-size="7.7" textLength="9.87" lengthAdjust="spacingAndGlyphs" fill="#222" stroke="#222" stroke-width="0.12">0.8</text><text x="333.20" y="647.74" text-anchor="end" font-size="7.7" textLength="3.95" lengthAdjust="spacingAndGlyphs" fill="#222" stroke="#222" stroke-width="0.12">1</text><path d="M366.48,901.70v-3.00 M366.48,619.70v3.00 M396.96,901.70v-3.00 M396.96,619.70v3.00 M427.43,901.70v-3.00 M427.43,619.70v3.00 M457.91,901.70v-3.00 M457.91,619.70v3.00 M488.39,901.70v-3.00 M488.39,619.70v3.00 M518.87,901.70v-3.00 M518.87,619.70v3.00 M549.34,901.70v-3.00 M549.34,619.70v3.00 M579.82,901.70v-3.00 M579.82,619.70v3.00 M336.00,850.43h3.00 M610.30,850.43h-3.00 M336.00,799.15h3.00 M610.30,799.15h-3.00 M336.00,747.88h3.00 M610.30,747.88h-3.00 M336.00,696.61h3.00 M610.30,696.61h-3.00 M336.00,645.34h3.00 M610.30,645.34h-3.00" stroke="#303030" stroke-width="1" fill="none"/><text x="473.15" y="925.90" text-anchor="middle" font-size="11.6" fill="#1a1a1a" stroke="#1a1a1a" stroke-width="0.18">Wavelength (nm)</text><text transform="translate(319.00,760.70) rotate(-90)" text-anchor="middle" font-size="11.5" fill="#1a1a1a" stroke="#1a1a1a" stroke-width="0.15">Normalized efficiency (80nm Core)@(35nm Shell)</text><text x="575.80" y="643.40" font-size="19.2" fill="#111">(f)</text><rect x="414.00" y="732.40" width="141.00" height="44.40" fill="#fff" stroke="#303030" stroke-width="1"/><path d="M416.30,739.50H430.20" stroke="#d43b47" stroke-width="1.1"/><text x="432.30" y="742.10" font-size="8.5" textLength="117.95" lengthAdjust="spacingAndGlyphs" fill="#111" stroke="#111" stroke-width="0.12">Ext without surface scattering</text><path d="M416.30,750.20H430.20" stroke="#d43b47" stroke-width="1.1" stroke-dasharray="3.6,3.8"/><text x="432.30" y="752.80" font-size="8.5" textLength="120.70" lengthAdjust="spacingAndGlyphs" fill="#111" stroke="#111" stroke-width="0.12">Abs without surface scattering</text><path d="M416.30,760.60H430.20" stroke="#3434b8" stroke-width="1.1"/><text x="432.30" y="763.20" font-size="8.5" textLength="105.11" lengthAdjust="spacingAndGlyphs" fill="#111" stroke="#111" stroke-width="0.12">Ext with surface scattering</text><path d="M416.30,770.70H430.20" stroke="#3434b8" stroke-width="1.1" stroke-dasharray="3.6,3.8"/><text x="432.30" y="773.30" font-size="8.5" textLength="107.86" lengthAdjust="spacingAndGlyphs" fill="#111" stroke="#111" stroke-width="0.12">Abs with surface scattering</text></g>
<g><clipPath id="clipg"><rect x="20.60" y="930.50" width="279.90" height="280.50"/></clipPath><g clip-path="url(#clipg)"><path d="M20.61,1084.68 L21.49,1084.77 L22.43,1084.94 L23.40,1085.16 L24.41,1085.43 L25.45,1085.74 L26.51,1086.08 L27.60,1086.45 L28.71,1086.82 L29.82,1087.20 L30.95,1087.57 L32.09,1087.92 L33.22,1088.25 L34.35,1088.54 L35.48,1088.79 L36.59,1088.98 L37.68,1089.11 L38.75,1089.17 L39.80,1089.15 L40.82,1089.03 L41.81,1088.83 L42.78,1088.55 L43.72,1088.20 L44.63,1087.78 L45.51,1087.29 L46.38,1086.75 L47.21,1086.16 L48.03,1085.51 L48.82,1084.83 L49.59,1084.11 L50.34,1083.36 L51.07,1082.59 L51.78,1081.79 L52.48,1080.98 L53.15,1080.16 L53.81,1079.33 L54.44,1078.48 L55.07,1077.62 L55.67,1076.76 L56.26,1075.88 L56.84,1074.99 L57.40,1074.09 L57.94,1073.18 L58.47,1072.26 L58.99,1071.33 L59.50,1070.39 L59.99,1069.45 L60.46,1068.49 L60.93,1067.53 L61.39,1066.56 L61.83,1065.59 L62.26,1064.61 L62.69,1063.62 L63.10,1062.63 L63.51,1061.63 L63.90,1060.63 L64.29,1059.62 L64.67,1058.61 L65.04,1057.59 L65.40,1056.57 L65.76,1055.55 L66.11,1054.53 L66.46,1053.50 L66.79,1052.47 L67.13,1051.44 L67.46,1050.41 L67.79,1049.37 L68.11,1048.34 L68.43,1047.31 L68.74,1046.27 L69.06,1045.24 L69.37,1044.21 L69.68,1043.17 L69.99,1042.14 L70.30,1041.11 L70.60,1040.08 L70.90,1039.06 L71.21,1038.03 L71.50,1037.00 L71.80,1035.97 L72.10,1034.95 L72.39,1033.92 L72.69,1032.90 L72.98,1031.87 L73.27,1030.85 L73.56,1029.82 L73.84,1028.80 L74.13,1027.78 L74.41,1026.75 L74.69,1025.73 L74.98,1024.71 L75.26,1023.68 L75.54,1022.66 L75.81,1021.64 L76.09,1020.61 L76.37,1019.59 L76.64,1018.57 L76.91,1017.54 L77.18,1016.52 L77.46,1015.50 L77.73,1014.47 L78.00,1013.45 L78.26,1012.42 L78.53,1011.40 L78.80,1010.37 L79.06,1009.35 L79.33,1008.32 L79.59,1007.29 L79.86,1006.26 L80.12,1005.24 L80.38,1004.21 L80.64,1003.18 L80.90,1002.15 L81.16,1001.12 L81.42,1000.08 L81.68,999.05 L81.94,998.02 L82.20,996.98 L82.46,995.95 L82.72,994.91 L82.97,993.87 L83.23,992.83 L83.49,991.79 L83.74,990.75 L84.00,989.71 L84.26,988.66 L84.51,987.62 L84.77,986.57 L85.03,985.52 L85.28,984.47 L85.54,983.42 L85.80,982.37 L86.05,981.32 L86.31,980.26 L86.56,979.20 L86.82,978.14 L87.08,977.08 L87.34,976.02 L87.60,974.96 L87.88,973.90 L88.17,972.83 L88.47,971.77 L88.79,970.71 L89.13,969.65 L89.50,968.60 L89.89,967.54 L90.32,966.50 L90.78,965.45 L91.28,964.41 L91.82,963.38 L92.39,962.35 L93.01,961.36 L93.65,960.42 L94.32,959.55 L95.00,958.78 L95.70,958.11 L96.40,957.56 L97.09,957.17 L97.79,956.95 L98.47,956.90 L99.14,957.03 L99.79,957.33 L100.43,957.76 L101.06,958.33 L101.67,959.01 L102.28,959.80 L102.86,960.68 L103.44,961.63 L104.00,962.64 L104.54,963.69 L105.07,964.78 L105.59,965.88 L106.09,966.98 L106.57,968.08 L107.05,969.15 L107.50,970.21 L107.95,971.26 L108.38,972.29 L108.81,973.30 L109.22,974.31 L109.63,975.30 L110.02,976.29 L110.41,977.27 L110.80,978.24 L111.17,979.21 L111.55,980.17 L111.92,981.13 L112.29,982.09 L112.65,983.05 L113.02,984.01 L113.38,984.97 L113.75,985.94 L114.12,986.91 L114.49,987.89 L114.87,988.87 L115.25,989.86 L115.63,990.87 L116.03,991.88 L116.43,992.90 L116.84,993.92 L117.26,994.95 L117.69,995.97 L118.14,996.99 L118.60,998.00 L119.08,999.01 L119.58,1000.00 L120.09,1000.99 L120.63,1001.95 L121.19,1002.90 L121.77,1003.83 L122.37,1004.73 L123.01,1005.61 L123.66,1006.47 L124.35,1007.29 L125.07,1008.08 L125.82,1008.83 L126.60,1009.55 L127.41,1010.22 L128.26,1010.86 L129.14,1011.45 L130.04,1012.00 L130.97,1012.51 L131.92,1012.97 L132.88,1013.39 L133.87,1013.76 L134.86,1014.08 L135.87,1014.35 L136.88,1014.58 L137.90,1014.76 L138.92,1014.89 L139.94,1014.96 L140.96,1014.99 L141.97,1014.97 L142.98,1014.90 L143.99,1014.78 L145.00,1014.62 L146.00,1014.43 L147.00,1014.19 L148.00,1013.93 L148.99,1013.63 L149.99,1013.30 L150.98,1012.95 L151.98,1012.57 L152.97,1012.17 L153.96,1011.75 L154.96,1011.32 L155.95,1010.87 L156.94,1010.41 L157.94,1009.95 L158.94,1009.47 L159.94,1009.00 L160.94,1008.52 L161.94,1008.05 L162.94,1007.58 L163.95,1007.11 L164.96,1006.66 L165.98,1006.21 L166.99,1005.78 L168.01,1005.36 L169.04,1004.95 L170.06,1004.55 L171.09,1004.16 L172.12,1003.78 L173.15,1003.41 L174.19,1003.05 L175.23,1002.70 L176.26,1002.37 L177.31,1002.04 L178.35,1001.73 L179.39,1001.43 L180.44,1001.14 L181.49,1000.86 L182.54,1000.59 L183.59,1000.33 L184.64,1000.09 L185.70,999.85 L186.75,999.63 L187.81,999.42 L188.87,999.22 L189.92,999.03 L190.98,998.85 L192.04,998.69 L193.10,998.53 L194.16,998.39 L195.22,998.26 L196.28,998.14 L197.34,998.04 L198.40,997.94 L199.46,997.86 L200.52,997.79 L201.58,997.73 L202.64,997.69 L203.70,997.65 L204.76,997.63 L205.82,997.62 L206.87,997.62 L207.93,997.64 L208.99,997.67 L210.04,997.71 L211.09,997.76 L212.14,997.82 L213.19,997.90 L214.24,997.99 L215.29,998.09 L216.33,998.21 L217.38,998.34 L218.42,998.48 L219.46,998.63 L220.50,998.80 L221.53,998.97 L222.56,999.17 L223.59,999.37 L224.62,999.59 L225.65,999.82 L226.67,1000.06 L227.69,1000.32 L228.71,1000.59 L229.72,1000.87 L230.73,1001.17 L231.74,1001.48 L232.75,1001.80 L233.75,1002.13 L234.75,1002.47 L235.75,1002.83 L236.74,1003.20 L237.73,1003.58 L238.72,1003.97 L239.71,1004.37 L240.69,1004.78 L241.67,1005.20 L242.65,1005.63 L243.62,1006.07 L244.59,1006.52 L245.56,1006.98 L246.53,1007.45 L247.49,1007.93 L248.45,1008.41 L249.41,1008.91 L250.36,1009.41 L251.32,1009.92 L252.27,1010.44 L253.21,1010.97 L254.16,1011.50 L255.10,1012.04 L256.04,1012.59 L256.97,1013.14 L257.91,1013.70 L258.84,1014.27 L259.77,1014.84 L260.69,1015.42 L261.61,1016.00 L262.53,1016.59 L263.45,1017.19 L264.37,1017.79 L265.28,1018.39 L266.19,1019.00 L267.09,1019.61 L268.00,1020.23 L268.90,1020.85 L269.80,1021.47 L270.70,1022.10 L271.59,1022.73 L272.48,1023.36 L273.37,1024.00 L274.26,1024.64 L275.14,1025.28 L276.02,1025.92 L276.90,1026.56 L277.77,1027.21 L278.65,1027.85 L279.52,1028.50 L280.39,1029.15 L281.25,1029.80 L282.12,1030.45 L282.98,1031.10 L283.83,1031.75 L284.69,1032.40 L285.54,1033.04 L286.39,1033.69 L287.24,1034.34 L288.09,1034.98 L288.93,1035.63 L289.77,1036.27 L290.61,1036.91 L291.45,1037.55 L292.28,1038.18 L293.11,1038.82 L293.94,1039.45 L294.77,1040.08 L295.59,1040.70 L296.41,1041.32 L297.23,1041.94 L298.05,1042.55 L298.87,1043.16 L299.68,1043.77 L300.49,1044.37" fill="none" stroke="#d43b47" stroke-width="1.3"/><path d="M20.58,1135.88 L22.06,1136.03 L23.54,1136.19 L25.02,1136.36 L26.49,1136.53 L27.96,1136.71 L29.43,1136.88 L30.89,1137.05 L32.35,1137.22 L33.81,1137.38 L35.27,1137.54 L36.72,1137.68 L38.18,1137.82 L39.63,1137.94 L41.08,1138.06 L42.53,1138.15 L43.98,1138.23 L45.42,1138.29 L46.87,1138.32 L48.32,1138.34 L49.76,1138.33 L51.21,1138.29 L52.65,1138.23 L54.10,1138.14 L55.55,1138.01 L56.99,1137.85 L58.44,1137.66 L59.89,1137.43 L61.34,1137.16 L62.79,1136.85 L64.25,1136.50 L65.70,1136.11 L67.16,1135.69 L68.62,1135.25 L70.08,1134.79 L71.55,1134.32 L73.03,1133.85 L74.50,1133.39 L75.99,1132.94 L77.48,1132.51 L78.97,1132.13 L80.45,1131.79 L81.92,1131.51 L83.37,1131.32 L84.80,1131.21 L86.19,1131.22 L87.53,1131.34 L88.84,1131.60 L90.09,1131.99 L91.29,1132.51 L92.45,1133.14 L93.57,1133.88 L94.64,1134.73 L95.67,1135.66 L96.66,1136.67 L97.62,1137.75 L98.54,1138.89 L99.43,1140.09 L100.29,1141.33 L101.11,1142.61 L101.91,1143.91 L102.68,1145.22 L103.43,1146.55 L104.16,1147.88 L104.86,1149.21 L105.55,1150.55 L106.22,1151.90 L106.88,1153.24 L107.52,1154.59 L108.15,1155.94 L108.78,1157.29 L109.40,1158.64 L110.01,1159.99 L110.62,1161.34 L111.23,1162.68 L111.84,1164.02 L112.46,1165.36 L113.08,1166.69 L113.71,1168.02 L114.35,1169.33 L115.00,1170.64 L115.66,1171.95 L116.34,1173.24 L117.03,1174.52 L117.75,1175.79 L118.48,1177.05 L119.24,1178.30 L120.03,1179.54 L120.84,1180.76 L121.68,1181.96 L122.56,1183.15 L123.46,1184.32 L124.40,1185.47 L125.37,1186.59 L126.37,1187.68 L127.41,1188.74 L128.47,1189.76 L129.58,1190.73 L130.71,1191.67 L131.88,1192.55 L133.09,1193.38 L134.32,1194.15 L135.60,1194.86 L136.90,1195.52 L138.23,1196.12 L139.59,1196.68 L140.97,1197.18 L142.36,1197.65 L143.78,1198.07 L145.20,1198.46 L146.64,1198.82 L148.08,1199.15 L149.53,1199.46 L150.97,1199.74 L152.42,1200.00 L153.88,1200.24 L155.33,1200.46 L156.79,1200.66 L158.24,1200.84 L159.70,1201.00 L161.16,1201.16 L162.62,1201.29 L164.09,1201.42 L165.55,1201.53 L167.01,1201.63 L168.48,1201.73 L169.95,1201.81 L171.41,1201.89 L172.88,1201.96 L174.35,1202.02 L175.81,1202.08 L177.28,1202.14 L178.75,1202.20 L180.21,1202.25 L181.68,1202.30 L183.15,1202.35 L184.61,1202.40 L186.08,1202.44 L187.55,1202.49 L189.02,1202.53 L190.48,1202.57 L191.95,1202.60 L193.42,1202.64 L194.88,1202.67 L196.35,1202.70 L197.82,1202.73 L199.28,1202.76 L200.75,1202.79 L202.22,1202.81 L203.68,1202.84 L205.15,1202.86 L206.62,1202.88 L208.09,1202.90 L209.55,1202.92 L211.02,1202.94 L212.49,1202.95 L213.95,1202.97 L215.42,1202.99 L216.89,1203.00 L218.35,1203.01 L219.82,1203.03 L221.29,1203.04 L222.75,1203.05 L224.22,1203.06 L225.69,1203.07 L227.15,1203.08 L228.62,1203.09 L230.09,1203.10 L231.55,1203.11 L233.02,1203.11 L234.49,1203.12 L235.95,1203.13 L237.42,1203.14 L238.89,1203.15 L240.36,1203.16 L241.82,1203.16 L243.29,1203.17 L244.76,1203.18 L246.22,1203.19 L247.69,1203.20 L249.16,1203.21 L250.62,1203.22 L252.09,1203.23 L253.56,1203.25 L255.02,1203.26 L256.49,1203.27 L257.96,1203.29 L259.42,1203.30 L260.89,1203.32 L262.36,1203.33 L263.82,1203.35 L265.29,1203.37 L266.76,1203.39 L268.23,1203.41 L269.69,1203.44 L271.16,1203.46 L272.63,1203.49 L274.09,1203.51 L275.56,1203.54 L277.03,1203.57 L278.49,1203.60 L279.96,1203.64 L281.43,1203.67 L282.90,1203.71 L284.36,1203.75 L285.83,1203.79 L287.30,1203.83 L288.76,1203.88 L290.23,1203.93 L291.70,1203.98 L293.17,1204.03 L294.63,1204.08 L296.10,1204.14 L297.57,1204.20 L299.03,1204.26 L300.50,1204.32" fill="none" stroke="#d43b47" stroke-width="1.3" stroke-dasharray="3.6,3.8"/><path d="M20.61,1083.39 L21.44,1083.50 L22.31,1083.67 L23.23,1083.89 L24.18,1084.15 L25.16,1084.44 L26.17,1084.76 L27.21,1085.09 L28.26,1085.44 L29.33,1085.79 L30.41,1086.13 L31.50,1086.46 L32.60,1086.77 L33.69,1087.05 L34.78,1087.30 L35.86,1087.50 L36.93,1087.66 L37.98,1087.75 L39.01,1087.78 L40.01,1087.73 L40.99,1087.61 L41.95,1087.41 L42.87,1087.14 L43.78,1086.81 L44.65,1086.42 L45.51,1085.97 L46.34,1085.47 L47.14,1084.93 L47.93,1084.34 L48.69,1083.71 L49.44,1083.05 L50.16,1082.36 L50.86,1081.64 L51.55,1080.90 L52.22,1080.15 L52.87,1079.38 L53.50,1078.60 L54.12,1077.81 L54.72,1077.00 L55.31,1076.19 L55.88,1075.36 L56.44,1074.52 L56.98,1073.66 L57.51,1072.80 L58.02,1071.93 L58.52,1071.05 L59.01,1070.15 L59.49,1069.25 L59.95,1068.34 L60.41,1067.43 L60.85,1066.50 L61.28,1065.57 L61.70,1064.63 L62.11,1063.68 L62.52,1062.73 L62.91,1061.78 L63.29,1060.81 L63.67,1059.85 L64.04,1058.88 L64.40,1057.90 L64.76,1056.92 L65.11,1055.94 L65.45,1054.96 L65.79,1053.97 L66.12,1052.98 L66.45,1051.99 L66.78,1051.00 L67.10,1050.01 L67.41,1049.01 L67.73,1048.02 L68.04,1047.03 L68.35,1046.04 L68.66,1045.05 L68.96,1044.07 L69.27,1043.08 L69.57,1042.10 L69.88,1041.12 L70.18,1040.14 L70.49,1039.17 L70.79,1038.19 L71.09,1037.22 L71.40,1036.25 L71.70,1035.29 L72.00,1034.32 L72.30,1033.36 L72.61,1032.39 L72.91,1031.43 L73.21,1030.47 L73.52,1029.52 L73.82,1028.56 L74.13,1027.60 L74.43,1026.64 L74.73,1025.69 L75.04,1024.73 L75.35,1023.78 L75.65,1022.83 L75.96,1021.87 L76.27,1020.92 L76.57,1019.97 L76.88,1019.01 L77.19,1018.06 L77.50,1017.10 L77.82,1016.15 L78.13,1015.20 L78.44,1014.24 L78.76,1013.28 L79.08,1012.33 L79.39,1011.37 L79.71,1010.41 L80.03,1009.45 L80.35,1008.49 L80.68,1007.52 L81.00,1006.56 L81.33,1005.59 L81.66,1004.63 L81.99,1003.66 L82.32,1002.68 L82.65,1001.71 L82.98,1000.74 L83.32,999.76 L83.66,998.78 L84.00,997.79 L84.34,996.81 L84.69,995.82 L85.04,994.83 L85.38,993.83 L85.74,992.84 L86.09,991.84 L86.45,990.83 L86.81,989.83 L87.17,988.82 L87.53,987.80 L87.90,986.79 L88.27,985.76 L88.64,984.74 L89.03,983.73 L89.43,982.73 L89.85,981.74 L90.29,980.77 L90.77,979.83 L91.27,978.91 L91.81,978.04 L92.39,977.20 L93.02,976.41 L93.69,975.68 L94.41,975.00 L95.16,974.41 L95.94,973.90 L96.73,973.50 L97.53,973.21 L98.34,973.05 L99.14,973.04 L99.93,973.16 L100.71,973.41 L101.48,973.78 L102.24,974.25 L102.98,974.82 L103.71,975.47 L104.43,976.20 L105.13,976.99 L105.81,977.84 L106.47,978.72 L107.12,979.64 L107.74,980.58 L108.35,981.53 L108.93,982.48 L109.49,983.42 L110.04,984.35 L110.56,985.28 L111.07,986.20 L111.56,987.11 L112.04,988.02 L112.51,988.92 L112.98,989.82 L113.43,990.71 L113.89,991.60 L114.34,992.49 L114.79,993.37 L115.24,994.25 L115.70,995.13 L116.16,996.01 L116.63,996.88 L117.12,997.76 L117.61,998.63 L118.12,999.50 L118.64,1000.38 L119.18,1001.25 L119.74,1002.13 L120.32,1003.00 L120.93,1003.88 L121.55,1004.74 L122.19,1005.60 L122.86,1006.45 L123.54,1007.28 L124.24,1008.09 L124.96,1008.88 L125.70,1009.65 L126.45,1010.39 L127.22,1011.10 L128.01,1011.77 L128.82,1012.41 L129.64,1013.01 L130.48,1013.57 L131.34,1014.08 L132.20,1014.54 L133.09,1014.95 L133.99,1015.31 L134.90,1015.61 L135.82,1015.85 L136.76,1016.05 L137.71,1016.20 L138.66,1016.30 L139.63,1016.36 L140.60,1016.37 L141.58,1016.35 L142.56,1016.30 L143.54,1016.21 L144.53,1016.10 L145.52,1015.95 L146.51,1015.78 L147.50,1015.59 L148.48,1015.38 L149.47,1015.15 L150.46,1014.89 L151.45,1014.62 L152.43,1014.34 L153.42,1014.03 L154.41,1013.71 L155.39,1013.38 L156.38,1013.04 L157.36,1012.68 L158.35,1012.31 L159.34,1011.93 L160.32,1011.55 L161.31,1011.16 L162.29,1010.76 L163.28,1010.35 L164.27,1009.95 L165.25,1009.54 L166.24,1009.12 L167.23,1008.71 L168.22,1008.30 L169.20,1007.89 L170.19,1007.48 L171.18,1007.07 L172.17,1006.68 L173.16,1006.28 L174.15,1005.90 L175.14,1005.52 L176.13,1005.15 L177.12,1004.79 L178.12,1004.44 L179.11,1004.11 L180.10,1003.79 L181.10,1003.48 L182.09,1003.19 L183.09,1002.91 L184.08,1002.65 L185.08,1002.40 L186.08,1002.16 L187.07,1001.94 L188.07,1001.73 L189.07,1001.53 L190.07,1001.35 L191.07,1001.18 L192.07,1001.02 L193.07,1000.88 L194.07,1000.75 L195.07,1000.63 L196.07,1000.52 L197.07,1000.43 L198.07,1000.35 L199.07,1000.28 L200.06,1000.22 L201.06,1000.18 L202.06,1000.14 L203.06,1000.12 L204.06,1000.11 L205.06,1000.12 L206.06,1000.13 L207.06,1000.16 L208.05,1000.19 L209.05,1000.24 L210.05,1000.30 L211.04,1000.37 L212.04,1000.45 L213.03,1000.54 L214.03,1000.65 L215.02,1000.76 L216.01,1000.88 L217.00,1001.02 L218.00,1001.16 L218.99,1001.32 L219.97,1001.48 L220.96,1001.66 L221.95,1001.84 L222.94,1002.04 L223.92,1002.24 L224.91,1002.45 L225.89,1002.68 L226.87,1002.91 L227.85,1003.15 L228.83,1003.40 L229.81,1003.66 L230.79,1003.93 L231.76,1004.21 L232.73,1004.49 L233.71,1004.79 L234.68,1005.09 L235.65,1005.40 L236.61,1005.72 L237.58,1006.05 L238.55,1006.38 L239.51,1006.73 L240.47,1007.08 L241.43,1007.44 L242.39,1007.81 L243.34,1008.18 L244.29,1008.56 L245.25,1008.95 L246.20,1009.35 L247.14,1009.75 L248.09,1010.16 L249.03,1010.58 L249.97,1011.01 L250.91,1011.44 L251.85,1011.88 L252.78,1012.32 L253.72,1012.77 L254.64,1013.23 L255.57,1013.69 L256.50,1014.16 L257.42,1014.64 L258.34,1015.12 L259.26,1015.60 L260.17,1016.10 L261.08,1016.59 L261.99,1017.10 L262.90,1017.61 L263.80,1018.12 L264.70,1018.64 L265.60,1019.16 L266.50,1019.69 L267.39,1020.22 L268.28,1020.76 L269.17,1021.31 L270.05,1021.85 L270.93,1022.41 L271.81,1022.96 L272.68,1023.52 L273.55,1024.09 L274.42,1024.65 L275.28,1025.23 L276.14,1025.80 L277.00,1026.38 L277.86,1026.96 L278.71,1027.55 L279.55,1028.14 L280.40,1028.73 L281.24,1029.33 L282.07,1029.93 L282.91,1030.53 L283.74,1031.14 L284.56,1031.74 L285.38,1032.35 L286.20,1032.97 L287.01,1033.58 L287.82,1034.20 L288.63,1034.82 L289.43,1035.44 L290.23,1036.06 L291.02,1036.69 L291.81,1037.31 L292.60,1037.94 L293.38,1038.57 L294.16,1039.20 L294.93,1039.84 L295.70,1040.47 L296.46,1041.11 L297.22,1041.74 L297.98,1042.38 L298.73,1043.02 L299.47,1043.66 L300.22,1044.29" fill="none" stroke="#3434b8" stroke-width="1.3"/><path d="M20.60,1135.41 L22.02,1135.51 L23.45,1135.61 L24.88,1135.71 L26.32,1135.82 L27.76,1135.92 L29.21,1136.02 L30.65,1136.12 L32.10,1136.21 L33.56,1136.30 L35.01,1136.38 L36.47,1136.45 L37.92,1136.52 L39.38,1136.57 L40.83,1136.62 L42.28,1136.65 L43.73,1136.67 L45.18,1136.67 L46.62,1136.66 L48.06,1136.63 L49.50,1136.59 L50.93,1136.53 L52.35,1136.44 L53.77,1136.34 L55.19,1136.21 L56.60,1136.05 L58.00,1135.86 L59.41,1135.64 L60.81,1135.38 L62.22,1135.09 L63.62,1134.75 L65.03,1134.37 L66.43,1133.95 L67.84,1133.50 L69.26,1133.02 L70.67,1132.53 L72.10,1132.02 L73.53,1131.51 L74.96,1131.00 L76.40,1130.49 L77.85,1130.00 L79.30,1129.54 L80.74,1129.13 L82.18,1128.77 L83.60,1128.50 L84.99,1128.31 L86.37,1128.23 L87.71,1128.27 L89.02,1128.45 L90.29,1128.76 L91.52,1129.20 L92.71,1129.75 L93.88,1130.41 L95.00,1131.17 L96.10,1132.02 L97.16,1132.94 L98.19,1133.93 L99.19,1134.98 L100.16,1136.08 L101.10,1137.23 L102.01,1138.40 L102.89,1139.59 L103.75,1140.80 L104.58,1142.02 L105.39,1143.25 L106.18,1144.49 L106.95,1145.74 L107.71,1147.00 L108.45,1148.26 L109.19,1149.53 L109.91,1150.80 L110.63,1152.08 L111.34,1153.35 L112.04,1154.63 L112.75,1155.90 L113.46,1157.17 L114.17,1158.44 L114.89,1159.70 L115.61,1160.96 L116.35,1162.20 L117.10,1163.44 L117.86,1164.67 L118.64,1165.88 L119.43,1167.09 L120.25,1168.28 L121.09,1169.45 L121.95,1170.60 L122.85,1171.74 L123.76,1172.86 L124.70,1173.96 L125.67,1175.04 L126.66,1176.09 L127.67,1177.13 L128.71,1178.14 L129.77,1179.13 L130.85,1180.09 L131.95,1181.03 L133.08,1181.94 L134.22,1182.83 L135.38,1183.69 L136.57,1184.51 L137.77,1185.32 L138.99,1186.09 L140.22,1186.83 L141.47,1187.53 L142.74,1188.21 L144.03,1188.85 L145.33,1189.46 L146.64,1190.03 L147.97,1190.57 L149.32,1191.07 L150.67,1191.54 L152.04,1191.97 L153.42,1192.37 L154.81,1192.74 L156.21,1193.08 L157.62,1193.39 L159.03,1193.67 L160.46,1193.93 L161.89,1194.17 L163.32,1194.39 L164.77,1194.58 L166.21,1194.76 L167.67,1194.92 L169.12,1195.07 L170.58,1195.20 L172.03,1195.32 L173.49,1195.43 L174.95,1195.53 L176.41,1195.63 L177.86,1195.72 L179.32,1195.80 L180.77,1195.88 L182.22,1195.96 L183.67,1196.03 L185.12,1196.09 L186.57,1196.15 L188.02,1196.21 L189.46,1196.26 L190.91,1196.31 L192.35,1196.35 L193.79,1196.40 L195.24,1196.43 L196.68,1196.47 L198.12,1196.50 L199.56,1196.53 L201.00,1196.56 L202.44,1196.58 L203.88,1196.60 L205.31,1196.62 L206.75,1196.64 L208.19,1196.66 L209.62,1196.67 L211.06,1196.69 L212.50,1196.70 L213.93,1196.71 L215.37,1196.72 L216.80,1196.73 L218.24,1196.74 L219.68,1196.75 L221.11,1196.75 L222.55,1196.76 L223.99,1196.77 L225.42,1196.78 L226.86,1196.79 L228.30,1196.80 L229.74,1196.81 L231.17,1196.83 L232.61,1196.84 L234.05,1196.85 L235.49,1196.87 L236.94,1196.89 L238.38,1196.91 L239.82,1196.93 L241.26,1196.96 L242.71,1196.98 L244.15,1197.01 L245.60,1197.04 L247.05,1197.08 L248.49,1197.11 L249.94,1197.14 L251.39,1197.18 L252.84,1197.22 L254.29,1197.26 L255.73,1197.30 L257.18,1197.34 L258.63,1197.39 L260.08,1197.43 L261.53,1197.48 L262.98,1197.52 L264.43,1197.57 L265.88,1197.62 L267.33,1197.67 L268.78,1197.72 L270.22,1197.77 L271.67,1197.82 L273.12,1197.88 L274.57,1197.93 L276.01,1197.98 L277.46,1198.04 L278.91,1198.09 L280.35,1198.14 L281.80,1198.20 L283.24,1198.25 L284.69,1198.31 L286.13,1198.36 L287.57,1198.42 L289.01,1198.47 L290.45,1198.53 L291.89,1198.58 L293.33,1198.63 L294.76,1198.69 L296.20,1198.74 L297.63,1198.79 L299.07,1198.84 L300.50,1198.90" fill="none" stroke="#3434b8" stroke-width="1.3" stroke-dasharray="3.6,3.8"/></g><rect x="20.60" y="930.50" width="279.90" height="280.50" fill="none" stroke="#303030" stroke-width="1.2"/><text x="20.60" y="1221.70" text-anchor="middle" font-size="7.7" textLength="11.84" lengthAdjust="spacingAndGlyphs" fill="#222" stroke="#222" stroke-width="0.12">450</text><text x="51.70" y="1221.70" text-anchor="middle" font-size="7.7" textLength="11.84" lengthAdjust="spacingAndGlyphs" fill="#222" stroke="#222" stroke-width="0.12">500</text><text x="82.80" y="1221.70" text-anchor="middle" font-size="7.7" textLength="11.84" lengthAdjust="spacingAndGlyphs" fill="#222" stroke="#222" stroke-width="0.12">550</text><text x="113.90" y="1221.70" text-anchor="middle" font-size="7.7" textLength="11.84" lengthAdjust="spacingAndGlyphs" fill="#222" stroke="#222" stroke-width="0.12">600</text><text x="145.00" y="1221.70" text-anchor="middle" font-size="7.7" textLength="11.84" lengthAdjust="spacingAndGlyphs" fill="#222" stroke="#222" stroke-width="0.12">650</text><text x="176.10" y="1221.70" text-anchor="middle" font-size="7.7" textLength="11.84" lengthAdjust="spacingAndGlyphs" fill="#222" stroke="#222" stroke-width="0.12">700</text><text x="207.20" y="1221.70" text-anchor="middle" font-size="7.7" textLength="11.84" lengthAdjust="spacingAndGlyphs" fill="#222" stroke="#222" stroke-width="0.12">750</text><text x="238.30" y="1221.70" text-anchor="middle" font-size="7.7" textLength="11.84" lengthAdjust="spacingAndGlyphs" fill="#222" stroke="#222" stroke-width="0.12">800</text><text x="269.40" y="1221.70" text-anchor="middle" font-size="7.7" textLength="11.84" lengthAdjust="spacingAndGlyphs" fill="#222" stroke="#222" stroke-width="0.12">850</text><text x="300.50" y="1221.70" text-anchor="middle" font-size="7.7" textLength="11.84" lengthAdjust="spacingAndGlyphs" fill="#222" stroke="#222" stroke-width="0.12">900</text><text x="17.80" y="1213.40" text-anchor="end" font-size="7.7" textLength="3.95" lengthAdjust="spacingAndGlyphs" fill="#222" stroke="#222" stroke-width="0.12">0</text><text x="17.80" y="1167.20" text-anchor="end" font-size="7.7" textLength="3.95" lengthAdjust="spacingAndGlyphs" fill="#222" stroke="#222" stroke-width="0.12">1</text><text x="17.80" y="1121.00" text-anchor="end" font-size="7.7" textLength="3.95" lengthAdjust="spacingAndGlyphs" fill="#222" stroke="#222" stroke-width="0.12">2</text><text x="17.80" y="1074.80" text-anchor="end" font-size="7.7" textLength="3.95" lengthAdjust="spacingAndGlyphs" fill="#222" stroke="#222" stroke-width="0.12">3</text><text x="17.80" y="1028.60" text-anchor="end" font-size="7.7" textLength="3.95" lengthAdjust="spacingAndGlyphs" fill="#222" stroke="#222" stroke-width="0.12">4</text><text x="17.80" y="982.40" text-anchor="end" font-size="7.7" textLength="3.95" lengthAdjust="spacingAndGlyphs" fill="#222" stroke="#222" stroke-width="0.12">5</text><text x="17.80" y="936.20" text-anchor="end" font-size="7.7" textLength="3.95" lengthAdjust="spacingAndGlyphs" fill="#222" stroke="#222" stroke-width="0.12">6</text><path d="M51.70,1211.00v-3.00 M51.70,930.50v3.00 M82.80,1211.00v-3.00 M82.80,930.50v3.00 M113.90,1211.00v-3.00 M113.90,930.50v3.00 M145.00,1211.00v-3.00 M145.00,930.50v3.00 M176.10,1211.00v-3.00 M176.10,930.50v3.00 M207.20,1211.00v-3.00 M207.20,930.50v3.00 M238.30,1211.00v-3.00 M238.30,930.50v3.00 M269.40,1211.00v-3.00 M269.40,930.50v3.00 M20.60,1164.80h3.00 M300.50,1164.80h-3.00 M20.60,1118.60h3.00 M300.50,1118.60h-3.00 M20.60,1072.40h3.00 M300.50,1072.40h-3.00 M20.60,1026.20h3.00 M300.50,1026.20h-3.00 M20.60,980.00h3.00 M300.50,980.00h-3.00 M20.60,933.80h3.00 M300.50,933.80h-3.00" stroke="#303030" stroke-width="1" fill="none"/><text x="160.55" y="1235.20" text-anchor="middle" font-size="11.6" fill="#1a1a1a" stroke="#1a1a1a" stroke-width="0.18">Wavelength (nm)</text><text transform="translate(9.00,1070.75) rotate(-90)" text-anchor="middle" font-size="11.5" fill="#1a1a1a" stroke="#1a1a1a" stroke-width="0.15">Efficiency (80nm Core)@(45nm Shell)</text><text x="267.60" y="950.40" font-size="19.2" fill="#111">(g)</text><rect x="113.50" y="1048.80" width="146.50" height="43.80" fill="#fff" stroke="#303030" stroke-width="1"/><path d="M115.80,1055.40H129.70" stroke="#d43b47" stroke-width="1.1"/><text x="131.80" y="1058.00" font-size="8.5" textLength="123.46" lengthAdjust="spacingAndGlyphs" fill="#111" stroke="#111" stroke-width="0.12">Qext without surface scattering</text><path d="M115.80,1065.80H129.70" stroke="#d43b47" stroke-width="1.1" stroke-dasharray="3.6,3.8"/><text x="131.80" y="1068.40" font-size="8.5" textLength="125.75" lengthAdjust="spacingAndGlyphs" fill="#111" stroke="#111" stroke-width="0.12">Qabs without surface scattering</text><path d="M115.80,1076.50H129.70" stroke="#3434b8" stroke-width="1.1"/><text x="131.80" y="1079.10" font-size="8.5" textLength="110.62" lengthAdjust="spacingAndGlyphs" fill="#111" stroke="#111" stroke-width="0.12">Qext with surface scattering</text><path d="M115.80,1087.10H129.70" stroke="#3434b8" stroke-width="1.1" stroke-dasharray="3.6,3.8"/><text x="131.80" y="1089.70" font-size="8.5" textLength="112.91" lengthAdjust="spacingAndGlyphs" fill="#111" stroke="#111" stroke-width="0.12">Qabs with surface scattering</text></g>
<g><clipPath id="cliph"><rect x="336.00" y="928.90" width="274.30" height="281.90"/></clipPath><g clip-path="url(#cliph)"><path d="M336.15,1084.60 L336.92,1084.87 L337.74,1085.16 L338.61,1085.44 L339.52,1085.73 L340.45,1086.01 L341.43,1086.29 L342.42,1086.56 L343.44,1086.81 L344.48,1087.05 L345.54,1087.26 L346.60,1087.46 L347.67,1087.62 L348.74,1087.76 L349.81,1087.86 L350.88,1087.92 L351.94,1087.95 L352.98,1087.92 L354.00,1087.86 L355.01,1087.73 L355.98,1087.56 L356.93,1087.33 L357.84,1087.03 L358.72,1086.68 L359.57,1086.27 L360.38,1085.80 L361.17,1085.29 L361.93,1084.73 L362.66,1084.12 L363.36,1083.47 L364.04,1082.79 L364.70,1082.07 L365.34,1081.32 L365.95,1080.54 L366.55,1079.74 L367.12,1078.91 L367.69,1078.06 L368.23,1077.20 L368.77,1076.33 L369.29,1075.45 L369.80,1074.56 L370.30,1073.66 L370.79,1072.77 L371.27,1071.87 L371.74,1070.97 L372.21,1070.07 L372.66,1069.17 L373.11,1068.26 L373.55,1067.35 L373.98,1066.44 L374.41,1065.53 L374.82,1064.62 L375.23,1063.71 L375.63,1062.79 L376.03,1061.87 L376.42,1060.95 L376.80,1060.03 L377.17,1059.11 L377.54,1058.18 L377.91,1057.26 L378.26,1056.33 L378.61,1055.40 L378.96,1054.47 L379.30,1053.53 L379.63,1052.60 L379.96,1051.67 L380.29,1050.73 L380.61,1049.79 L380.92,1048.85 L381.23,1047.91 L381.54,1046.97 L381.84,1046.03 L382.14,1045.08 L382.44,1044.14 L382.73,1043.19 L383.02,1042.24 L383.30,1041.29 L383.58,1040.35 L383.86,1039.39 L384.14,1038.44 L384.41,1037.49 L384.69,1036.54 L384.95,1035.58 L385.22,1034.63 L385.49,1033.67 L385.75,1032.71 L386.02,1031.76 L386.28,1030.80 L386.54,1029.84 L386.80,1028.88 L387.06,1027.92 L387.32,1026.96 L387.57,1026.00 L387.83,1025.04 L388.09,1024.07 L388.35,1023.11 L388.61,1022.15 L388.87,1021.18 L389.13,1020.22 L389.39,1019.25 L389.65,1018.29 L389.91,1017.32 L390.17,1016.36 L390.44,1015.39 L390.71,1014.43 L390.98,1013.46 L391.25,1012.49 L391.52,1011.53 L391.80,1010.56 L392.08,1009.59 L392.36,1008.63 L392.64,1007.66 L392.93,1006.69 L393.22,1005.73 L393.51,1004.76 L393.81,1003.80 L394.11,1002.83 L394.41,1001.86 L394.71,1000.90 L395.01,999.94 L395.31,998.97 L395.61,998.01 L395.91,997.05 L396.21,996.09 L396.51,995.13 L396.81,994.18 L397.10,993.22 L397.39,992.27 L397.67,991.32 L397.95,990.37 L398.23,989.42 L398.50,988.48 L398.77,987.53 L399.03,986.59 L399.28,985.66 L399.53,984.72 L399.77,983.79 L400.00,982.86 L400.22,981.93 L400.43,981.01 L400.64,980.09 L400.84,979.17 L401.04,978.25 L401.24,977.32 L401.44,976.39 L401.64,975.46 L401.85,974.52 L402.06,973.58 L402.28,972.62 L402.51,971.66 L402.74,970.68 L403.00,969.69 L403.26,968.69 L403.55,967.67 L403.85,966.64 L404.17,965.59 L404.51,964.52 L404.87,963.44 L405.27,962.35 L405.69,961.27 L406.15,960.21 L406.65,959.20 L407.19,958.25 L407.77,957.36 L408.40,956.56 L409.09,955.87 L409.82,955.30 L410.59,954.89 L411.35,954.69 L412.10,954.73 L412.81,955.04 L413.49,955.56 L414.14,956.23 L414.76,956.99 L415.36,957.77 L415.94,958.56 L416.50,959.35 L417.05,960.15 L417.57,960.96 L418.08,961.77 L418.57,962.60 L419.05,963.43 L419.51,964.27 L419.96,965.11 L420.39,965.97 L420.81,966.83 L421.22,967.71 L421.62,968.59 L422.01,969.48 L422.38,970.38 L422.75,971.29 L423.11,972.21 L423.45,973.14 L423.80,974.07 L424.13,975.02 L424.46,975.98 L424.78,976.95 L425.10,977.93 L425.42,978.92 L425.73,979.92 L426.04,980.92 L426.35,981.93 L426.66,982.94 L426.97,983.96 L427.28,984.97 L427.60,985.99 L427.92,987.00 L428.25,988.01 L428.59,989.02 L428.93,990.02 L429.28,991.02 L429.64,992.00 L430.01,992.98 L430.39,993.95 L430.79,994.91 L431.19,995.86 L431.62,996.79 L432.06,997.70 L432.51,998.60 L432.98,999.48 L433.48,1000.35 L433.99,1001.19 L434.52,1002.01 L435.08,1002.81 L435.65,1003.58 L436.25,1004.33 L436.88,1005.05 L437.53,1005.75 L438.21,1006.41 L438.92,1007.05 L439.65,1007.65 L440.42,1008.22 L441.21,1008.76 L442.02,1009.27 L442.86,1009.74 L443.71,1010.18 L444.59,1010.59 L445.48,1010.97 L446.39,1011.32 L447.31,1011.63 L448.24,1011.91 L449.19,1012.16 L450.14,1012.38 L451.09,1012.56 L452.05,1012.71 L453.02,1012.83 L453.98,1012.91 L454.94,1012.96 L455.91,1012.98 L456.86,1012.97 L457.82,1012.93 L458.77,1012.86 L459.72,1012.75 L460.67,1012.63 L461.61,1012.47 L462.56,1012.29 L463.50,1012.09 L464.44,1011.86 L465.38,1011.62 L466.32,1011.35 L467.25,1011.06 L468.19,1010.75 L469.12,1010.43 L470.05,1010.09 L470.98,1009.74 L471.91,1009.37 L472.84,1008.99 L473.77,1008.60 L474.70,1008.20 L475.63,1007.79 L476.56,1007.37 L477.49,1006.95 L478.42,1006.51 L479.35,1006.08 L480.28,1005.64 L481.21,1005.20 L482.14,1004.76 L483.08,1004.31 L484.01,1003.87 L484.95,1003.43 L485.88,1003.00 L486.82,1002.57 L487.76,1002.14 L488.70,1001.72 L489.64,1001.31 L490.59,1000.91 L491.53,1000.52 L492.48,1000.14 L493.44,999.77 L494.39,999.42 L495.35,999.08 L496.31,998.75 L497.27,998.45 L498.23,998.16 L499.20,997.89 L500.17,997.63 L501.14,997.39 L502.12,997.17 L503.10,996.96 L504.07,996.77 L505.05,996.59 L506.04,996.43 L507.02,996.29 L508.01,996.16 L508.99,996.04 L509.98,995.95 L510.97,995.86 L511.96,995.79 L512.95,995.74 L513.94,995.70 L514.93,995.68 L515.92,995.67 L516.91,995.67 L517.90,995.69 L518.89,995.72 L519.88,995.77 L520.87,995.83 L521.86,995.90 L522.85,995.99 L523.84,996.09 L524.83,996.20 L525.81,996.32 L526.80,996.46 L527.78,996.61 L528.76,996.78 L529.74,996.95 L530.72,997.14 L531.69,997.34 L532.67,997.56 L533.64,997.78 L534.61,998.02 L535.57,998.26 L536.54,998.52 L537.50,998.79 L538.46,999.07 L539.41,999.37 L540.36,999.67 L541.31,999.98 L542.26,1000.31 L543.20,1000.64 L544.13,1000.99 L545.07,1001.35 L546.00,1001.71 L546.92,1002.09 L547.84,1002.47 L548.76,1002.87 L549.67,1003.27 L550.58,1003.69 L551.48,1004.11 L552.37,1004.54 L553.27,1004.98 L554.15,1005.43 L555.03,1005.89 L555.91,1006.35 L556.78,1006.83 L557.65,1007.31 L558.51,1007.80 L559.37,1008.30 L560.23,1008.80 L561.08,1009.31 L561.93,1009.82 L562.77,1010.35 L563.61,1010.88 L564.45,1011.41 L565.29,1011.95 L566.12,1012.50 L566.94,1013.05 L567.77,1013.60 L568.59,1014.16 L569.41,1014.73 L570.23,1015.29 L571.05,1015.87 L571.86,1016.44 L572.67,1017.02 L573.48,1017.60 L574.29,1018.19 L575.10,1018.78 L575.91,1019.37 L576.71,1019.96 L577.51,1020.55 L578.32,1021.15 L579.12,1021.75 L579.92,1022.35 L580.72,1022.95 L581.52,1023.55 L582.32,1024.15 L583.12,1024.75 L583.92,1025.35 L584.72,1025.95 L585.52,1026.55 L586.32,1027.15 L587.12,1027.75 L587.92,1028.35 L588.73,1028.95 L589.53,1029.54 L590.33,1030.14 L591.14,1030.73 L591.95,1031.32 L592.76,1031.90 L593.57,1032.48 L594.38,1033.06 L595.20,1033.64 L596.01,1034.21 L596.83,1034.78 L597.66,1035.35 L598.48,1035.91 L599.31,1036.47 L600.14,1037.02 L600.97,1037.57 L601.81,1038.11 L602.65,1038.64 L603.49,1039.17 L604.33,1039.70 L605.18,1040.22 L606.04,1040.73 L606.90,1041.23 L607.76,1041.73 L608.62,1042.22 L609.49,1042.71 L610.37,1043.18" fill="none" stroke="#d43b47" stroke-width="1.3"/><path d="M336.10,1135.19 L337.60,1135.14 L339.10,1135.14 L340.62,1135.19 L342.13,1135.29 L343.66,1135.42 L345.19,1135.58 L346.72,1135.76 L348.25,1135.96 L349.79,1136.18 L351.33,1136.39 L352.86,1136.61 L354.40,1136.82 L355.93,1137.01 L357.47,1137.18 L358.99,1137.33 L360.52,1137.44 L362.04,1137.51 L363.55,1137.53 L365.06,1137.50 L366.55,1137.42 L368.05,1137.29 L369.54,1137.12 L371.02,1136.90 L372.50,1136.66 L373.98,1136.38 L375.46,1136.07 L376.95,1135.74 L378.43,1135.39 L379.92,1135.02 L381.41,1134.65 L382.90,1134.27 L384.41,1133.89 L385.92,1133.51 L387.43,1133.13 L388.96,1132.77 L390.50,1132.42 L392.05,1132.09 L393.61,1131.79 L395.17,1131.53 L396.72,1131.32 L398.26,1131.17 L399.79,1131.09 L401.29,1131.09 L402.76,1131.18 L404.20,1131.38 L405.59,1131.69 L406.94,1132.12 L408.23,1132.68 L409.46,1133.40 L410.63,1134.26 L411.73,1135.27 L412.77,1136.40 L413.75,1137.64 L414.69,1138.95 L415.58,1140.32 L416.43,1141.73 L417.24,1143.15 L418.02,1144.56 L418.77,1145.95 L419.50,1147.32 L420.21,1148.68 L420.90,1150.02 L421.58,1151.35 L422.24,1152.67 L422.89,1153.99 L423.54,1155.30 L424.18,1156.62 L424.82,1157.94 L425.47,1159.26 L426.11,1160.59 L426.77,1161.94 L427.44,1163.30 L428.11,1164.67 L428.81,1166.06 L429.51,1167.45 L430.23,1168.85 L430.96,1170.24 L431.71,1171.64 L432.48,1173.03 L433.26,1174.42 L434.06,1175.80 L434.88,1177.16 L435.72,1178.51 L436.59,1179.84 L437.47,1181.16 L438.37,1182.44 L439.30,1183.70 L440.25,1184.93 L441.22,1186.13 L442.22,1187.29 L443.25,1188.42 L444.30,1189.50 L445.38,1190.54 L446.48,1191.54 L447.62,1192.48 L448.79,1193.37 L449.98,1194.21 L451.21,1194.99 L452.46,1195.72 L453.75,1196.39 L455.06,1197.02 L456.39,1197.59 L457.75,1198.12 L459.13,1198.61 L460.54,1199.06 L461.96,1199.46 L463.40,1199.83 L464.86,1200.16 L466.34,1200.46 L467.83,1200.73 L469.34,1200.97 L470.85,1201.18 L472.38,1201.37 L473.92,1201.53 L475.47,1201.67 L477.03,1201.79 L478.59,1201.90 L480.16,1201.99 L481.73,1202.06 L483.31,1202.13 L484.88,1202.19 L486.46,1202.24 L488.04,1202.28 L489.61,1202.32 L491.18,1202.36 L492.74,1202.40 L494.31,1202.44 L495.87,1202.48 L497.43,1202.51 L498.98,1202.54 L500.53,1202.57 L502.08,1202.60 L503.63,1202.63 L505.18,1202.66 L506.72,1202.68 L508.26,1202.71 L509.80,1202.73 L511.34,1202.75 L512.87,1202.77 L514.41,1202.79 L515.94,1202.81 L517.47,1202.83 L518.99,1202.84 L520.52,1202.86 L522.05,1202.87 L523.57,1202.89 L525.09,1202.90 L526.61,1202.92 L528.13,1202.93 L529.65,1202.94 L531.17,1202.95 L532.68,1202.96 L534.20,1202.97 L535.71,1202.98 L537.22,1202.99 L538.74,1203.00 L540.25,1203.01 L541.76,1203.02 L543.27,1203.03 L544.78,1203.03 L546.29,1203.04 L547.80,1203.05 L549.31,1203.06 L550.82,1203.07 L552.33,1203.08 L553.84,1203.09 L555.35,1203.10 L556.86,1203.10 L558.37,1203.11 L559.88,1203.12 L561.39,1203.14 L562.90,1203.15 L564.41,1203.16 L565.93,1203.17 L567.44,1203.18 L568.95,1203.20 L570.47,1203.21 L571.98,1203.23 L573.50,1203.24 L575.02,1203.26 L576.53,1203.28 L578.05,1203.30 L579.57,1203.32 L581.10,1203.34 L582.62,1203.36 L584.15,1203.38 L585.67,1203.41 L587.20,1203.43 L588.73,1203.46 L590.26,1203.49 L591.80,1203.52 L593.33,1203.55 L594.87,1203.58 L596.41,1203.61 L597.95,1203.65 L599.50,1203.69 L601.04,1203.73 L602.59,1203.77 L604.14,1203.81 L605.70,1203.85 L607.25,1203.90 L608.81,1203.95 L610.37,1204.00" fill="none" stroke="#d43b47" stroke-width="1.3" stroke-dasharray="3.6,3.8"/><path d="M336.10,1073.87 L336.81,1073.74 L337.59,1073.76 L338.45,1073.90 L339.38,1074.15 L340.36,1074.49 L341.38,1074.90 L342.44,1075.35 L343.53,1075.84 L344.64,1076.34 L345.76,1076.83 L346.88,1077.29 L348.00,1077.70 L349.10,1078.06 L350.18,1078.32 L351.23,1078.49 L352.24,1078.54 L353.22,1078.50 L354.17,1078.37 L355.09,1078.16 L355.98,1077.86 L356.85,1077.49 L357.69,1077.06 L358.50,1076.57 L359.29,1076.03 L360.06,1075.44 L360.82,1074.81 L361.55,1074.15 L362.26,1073.47 L362.96,1072.76 L363.65,1072.05 L364.32,1071.32 L364.97,1070.58 L365.61,1069.83 L366.24,1069.07 L366.86,1068.30 L367.46,1067.52 L368.05,1066.73 L368.63,1065.93 L369.19,1065.12 L369.75,1064.30 L370.29,1063.48 L370.82,1062.64 L371.34,1061.80 L371.84,1060.95 L372.34,1060.09 L372.83,1059.22 L373.30,1058.35 L373.77,1057.46 L374.22,1056.57 L374.67,1055.68 L375.11,1054.78 L375.54,1053.87 L375.96,1052.95 L376.37,1052.03 L376.77,1051.11 L377.16,1050.18 L377.55,1049.24 L377.93,1048.30 L378.30,1047.35 L378.66,1046.40 L379.02,1045.44 L379.37,1044.49 L379.71,1043.52 L380.05,1042.56 L380.38,1041.59 L380.71,1040.61 L381.03,1039.64 L381.34,1038.66 L381.65,1037.68 L381.96,1036.70 L382.26,1035.71 L382.56,1034.72 L382.85,1033.74 L383.14,1032.75 L383.42,1031.76 L383.70,1030.77 L383.98,1029.77 L384.26,1028.78 L384.53,1027.79 L384.80,1026.80 L385.07,1025.80 L385.34,1024.81 L385.61,1023.82 L385.87,1022.83 L386.13,1021.84 L386.39,1020.86 L386.66,1019.87 L386.92,1018.89 L387.18,1017.91 L387.44,1016.93 L387.70,1015.95 L387.96,1014.98 L388.22,1014.01 L388.49,1013.04 L388.75,1012.07 L389.01,1011.10 L389.28,1010.14 L389.54,1009.18 L389.81,1008.22 L390.07,1007.26 L390.34,1006.30 L390.61,1005.34 L390.88,1004.39 L391.15,1003.44 L391.43,1002.48 L391.70,1001.53 L391.98,1000.58 L392.26,999.63 L392.54,998.69 L392.82,997.74 L393.10,996.79 L393.39,995.84 L393.68,994.90 L393.97,993.95 L394.26,993.01 L394.55,992.06 L394.85,991.12 L395.15,990.17 L395.45,989.22 L395.76,988.28 L396.06,987.33 L396.37,986.39 L396.69,985.44 L397.00,984.49 L397.32,983.54 L397.65,982.59 L397.97,981.65 L398.30,980.69 L398.64,979.74 L398.97,978.79 L399.31,977.84 L399.66,976.88 L400.00,975.92 L400.36,974.97 L400.71,974.01 L401.07,973.05 L401.44,972.08 L401.80,971.12 L402.18,970.15 L402.55,969.18 L402.94,968.21 L403.32,967.24 L403.71,966.26 L404.11,965.28 L404.51,964.30 L404.91,963.32 L405.32,962.34 L405.74,961.35 L406.17,960.38 L406.61,959.43 L407.07,958.53 L407.56,957.68 L408.08,956.90 L408.63,956.21 L409.22,955.61 L409.86,955.13 L410.55,954.78 L411.30,954.56 L412.10,954.51 L412.95,954.61 L413.83,954.86 L414.72,955.23 L415.59,955.73 L416.43,956.34 L417.23,957.04 L418.00,957.82 L418.73,958.66 L419.42,959.56 L420.09,960.49 L420.73,961.43 L421.34,962.38 L421.93,963.33 L422.50,964.25 L423.05,965.17 L423.58,966.08 L424.09,966.98 L424.58,967.87 L425.06,968.75 L425.53,969.62 L425.99,970.49 L426.43,971.35 L426.87,972.21 L427.30,973.07 L427.73,973.92 L428.15,974.78 L428.57,975.63 L428.98,976.49 L429.40,977.35 L429.82,978.21 L430.25,979.07 L430.68,979.94 L431.11,980.81 L431.55,981.69 L432.01,982.58 L432.47,983.48 L432.94,984.39 L433.43,985.30 L433.94,986.22 L434.45,987.14 L434.99,988.06 L435.53,988.97 L436.10,989.87 L436.68,990.76 L437.28,991.64 L437.90,992.50 L438.54,993.33 L439.20,994.15 L439.88,994.93 L440.58,995.68 L441.30,996.40 L442.05,997.07 L442.82,997.71 L443.61,998.30 L444.43,998.85 L445.27,999.34 L446.14,999.78 L447.04,1000.17 L447.96,1000.50 L448.89,1000.78 L449.85,1001.02 L450.83,1001.20 L451.81,1001.35 L452.81,1001.45 L453.82,1001.52 L454.84,1001.54 L455.86,1001.54 L456.89,1001.50 L457.91,1001.43 L458.94,1001.34 L459.96,1001.22 L460.97,1001.07 L461.98,1000.91 L462.98,1000.72 L463.97,1000.52 L464.95,1000.30 L465.93,1000.06 L466.90,999.81 L467.86,999.54 L468.81,999.26 L469.76,998.96 L470.71,998.65 L471.65,998.33 L472.58,998.00 L473.51,997.66 L474.44,997.31 L475.37,996.95 L476.29,996.58 L477.21,996.20 L478.13,995.82 L479.04,995.44 L479.96,995.05 L480.87,994.65 L481.79,994.26 L482.70,993.86 L483.61,993.46 L484.53,993.06 L485.45,992.66 L486.37,992.26 L487.29,991.87 L488.21,991.48 L489.14,991.09 L490.07,990.71 L491.00,990.33 L491.94,989.96 L492.88,989.60 L493.83,989.24 L494.78,988.90 L495.74,988.56 L496.70,988.24 L497.68,987.92 L498.65,987.62 L499.63,987.33 L500.62,987.05 L501.61,986.78 L502.61,986.53 L503.61,986.29 L504.62,986.06 L505.62,985.84 L506.63,985.64 L507.65,985.45 L508.66,985.27 L509.68,985.11 L510.70,984.96 L511.72,984.83 L512.74,984.71 L513.76,984.60 L514.78,984.51 L515.80,984.44 L516.82,984.38 L517.84,984.34 L518.86,984.31 L519.87,984.30 L520.89,984.30 L521.90,984.32 L522.91,984.36 L523.92,984.41 L524.92,984.49 L525.92,984.57 L526.91,984.68 L527.90,984.80 L528.89,984.94 L529.88,985.09 L530.86,985.26 L531.84,985.45 L532.81,985.65 L533.78,985.86 L534.75,986.09 L535.71,986.33 L536.67,986.58 L537.63,986.85 L538.58,987.13 L539.53,987.42 L540.48,987.72 L541.42,988.04 L542.36,988.37 L543.30,988.70 L544.23,989.05 L545.17,989.41 L546.09,989.78 L547.02,990.16 L547.94,990.54 L548.85,990.94 L549.77,991.35 L550.68,991.76 L551.59,992.18 L552.49,992.61 L553.39,993.04 L554.29,993.49 L555.19,993.94 L556.08,994.39 L556.97,994.86 L557.86,995.33 L558.74,995.81 L559.63,996.29 L560.50,996.78 L561.38,997.27 L562.25,997.77 L563.13,998.28 L563.99,998.79 L564.86,999.31 L565.72,999.83 L566.59,1000.35 L567.45,1000.88 L568.30,1001.42 L569.16,1001.96 L570.01,1002.50 L570.86,1003.05 L571.71,1003.61 L572.56,1004.16 L573.40,1004.72 L574.25,1005.29 L575.09,1005.85 L575.93,1006.42 L576.77,1006.99 L577.60,1007.57 L578.44,1008.15 L579.27,1008.73 L580.10,1009.31 L580.93,1009.90 L581.76,1010.49 L582.59,1011.07 L583.42,1011.67 L584.24,1012.26 L585.07,1012.85 L585.89,1013.45 L586.71,1014.04 L587.53,1014.64 L588.36,1015.24 L589.17,1015.83 L589.99,1016.43 L590.81,1017.03 L591.63,1017.63 L592.45,1018.23 L593.26,1018.83 L594.08,1019.43 L594.89,1020.02 L595.71,1020.62 L596.52,1021.22 L597.34,1021.81 L598.15,1022.41 L598.96,1023.00 L599.78,1023.59 L600.59,1024.18 L601.40,1024.77 L602.21,1025.35 L603.03,1025.93 L603.84,1026.51 L604.65,1027.09 L605.47,1027.67 L606.28,1028.24 L607.09,1028.81 L607.91,1029.38 L608.72,1029.94 L609.54,1030.50 L610.36,1031.06" fill="none" stroke="#3434b8" stroke-width="1.3"/><path d="M336.10,1129.10 L337.60,1128.95 L339.10,1128.88 L340.62,1128.86 L342.14,1128.89 L343.67,1128.97 L345.21,1129.08 L346.76,1129.23 L348.30,1129.40 L349.85,1129.58 L351.40,1129.76 L352.96,1129.95 L354.51,1130.13 L356.06,1130.29 L357.60,1130.43 L359.14,1130.53 L360.68,1130.60 L362.21,1130.62 L363.73,1130.59 L365.24,1130.49 L366.74,1130.34 L368.23,1130.13 L369.72,1129.87 L371.20,1129.57 L372.68,1129.22 L374.16,1128.85 L375.63,1128.44 L377.10,1128.01 L378.57,1127.56 L380.04,1127.09 L381.52,1126.62 L383.00,1126.14 L384.48,1125.66 L385.97,1125.19 L387.47,1124.72 L388.97,1124.28 L390.48,1123.85 L392.01,1123.45 L393.54,1123.09 L395.07,1122.77 L396.59,1122.50 L398.11,1122.30 L399.61,1122.17 L401.09,1122.13 L402.55,1122.18 L403.97,1122.33 L405.36,1122.60 L406.70,1122.99 L407.99,1123.51 L409.24,1124.17 L410.42,1124.99 L411.54,1125.95 L412.61,1127.04 L413.63,1128.23 L414.60,1129.51 L415.53,1130.84 L416.42,1132.21 L417.28,1133.60 L418.12,1134.99 L418.92,1136.37 L419.71,1137.73 L420.47,1139.09 L421.22,1140.44 L421.94,1141.79 L422.65,1143.13 L423.35,1144.47 L424.04,1145.81 L424.72,1147.16 L425.38,1148.51 L426.05,1149.86 L426.70,1151.23 L427.36,1152.60 L428.01,1153.99 L428.67,1155.38 L429.33,1156.78 L429.99,1158.19 L430.66,1159.60 L431.34,1161.01 L432.03,1162.42 L432.73,1163.82 L433.45,1165.21 L434.18,1166.59 L434.92,1167.96 L435.69,1169.32 L436.48,1170.65 L437.29,1171.97 L438.13,1173.26 L438.99,1174.53 L439.88,1175.77 L440.80,1176.98 L441.75,1178.15 L442.73,1179.29 L443.75,1180.40 L444.81,1181.46 L445.91,1182.48 L447.05,1183.45 L448.23,1184.38 L449.45,1185.25 L450.72,1186.08 L452.03,1186.85 L453.37,1187.58 L454.75,1188.25 L456.16,1188.88 L457.60,1189.46 L459.05,1190.01 L460.52,1190.50 L462.01,1190.96 L463.50,1191.38 L465.00,1191.76 L466.50,1192.10 L468.01,1192.41 L469.52,1192.69 L471.04,1192.94 L472.55,1193.17 L474.08,1193.36 L475.60,1193.54 L477.12,1193.69 L478.65,1193.83 L480.18,1193.94 L481.71,1194.05 L483.24,1194.14 L484.77,1194.22 L486.31,1194.30 L487.84,1194.36 L489.37,1194.43 L490.91,1194.49 L492.44,1194.55 L493.97,1194.61 L495.51,1194.66 L497.04,1194.72 L498.57,1194.77 L500.10,1194.82 L501.64,1194.87 L503.17,1194.92 L504.70,1194.96 L506.23,1195.01 L507.76,1195.05 L509.29,1195.09 L510.83,1195.13 L512.36,1195.17 L513.89,1195.21 L515.42,1195.25 L516.95,1195.28 L518.48,1195.31 L520.01,1195.35 L521.54,1195.38 L523.07,1195.41 L524.60,1195.44 L526.13,1195.47 L527.67,1195.50 L529.20,1195.53 L530.73,1195.55 L532.26,1195.58 L533.79,1195.61 L535.32,1195.63 L536.85,1195.66 L538.38,1195.68 L539.91,1195.71 L541.44,1195.73 L542.97,1195.76 L544.50,1195.78 L546.03,1195.80 L547.56,1195.83 L549.09,1195.85 L550.62,1195.88 L552.15,1195.90 L553.67,1195.93 L555.20,1195.95 L556.73,1195.98 L558.26,1196.00 L559.79,1196.03 L561.32,1196.05 L562.85,1196.08 L564.38,1196.11 L565.91,1196.14 L567.44,1196.17 L568.97,1196.20 L570.50,1196.23 L572.03,1196.26 L573.56,1196.29 L575.09,1196.33 L576.62,1196.36 L578.15,1196.40 L579.68,1196.44 L581.21,1196.47 L582.74,1196.51 L584.27,1196.56 L585.80,1196.60 L587.33,1196.64 L588.87,1196.69 L590.40,1196.73 L591.93,1196.78 L593.46,1196.83 L594.99,1196.89 L596.52,1196.94 L598.05,1197.00 L599.58,1197.05 L601.11,1197.11 L602.64,1197.18 L604.18,1197.24 L605.71,1197.31 L607.24,1197.38 L608.77,1197.45 L610.30,1197.52" fill="none" stroke="#3434b8" stroke-width="1.3" stroke-dasharray="3.6,3.8"/></g><rect x="336.00" y="928.90" width="274.30" height="281.90" fill="none" stroke="#303030" stroke-width="1.2"/><text x="336.00" y="1221.50" text-anchor="middle" font-size="7.7" textLength="11.84" lengthAdjust="spacingAndGlyphs" fill="#222" stroke="#222" stroke-width="0.12">450</text><text x="366.48" y="1221.50" text-anchor="middle" font-size="7.7" textLength="11.84" lengthAdjust="spacingAndGlyphs" fill="#222" stroke="#222" stroke-width="0.12">500</text><text x="396.96" y="1221.50" text-anchor="middle" font-size="7.7" textLength="11.84" lengthAdjust="spacingAndGlyphs" fill="#222" stroke="#222" stroke-width="0.12">550</text><text x="427.43" y="1221.50" text-anchor="middle" font-size="7.7" textLength="11.84" lengthAdjust="spacingAndGlyphs" fill="#222" stroke="#222" stroke-width="0.12">600</text><text x="457.91" y="1221.50" text-anchor="middle" font-size="7.7" textLength="11.84" lengthAdjust="spacingAndGlyphs" fill="#222" stroke="#222" stroke-width="0.12">650</text><text x="488.39" y="1221.50" text-anchor="middle" font-size="7.7" textLength="11.84" lengthAdjust="spacingAndGlyphs" fill="#222" stroke="#222" stroke-width="0.12">700</text><text x="518.87" y="1221.50" text-anchor="middle" font-size="7.7" textLength="11.84" lengthAdjust="spacingAndGlyphs" fill="#222" stroke="#222" stroke-width="0.12">750</text><text x="549.34" y="1221.50" text-anchor="middle" font-size="7.7" textLength="11.84" lengthAdjust="spacingAndGlyphs" fill="#222" stroke="#222" stroke-width="0.12">800</text><text x="579.82" y="1221.50" text-anchor="middle" font-size="7.7" textLength="11.84" lengthAdjust="spacingAndGlyphs" fill="#222" stroke="#222" stroke-width="0.12">850</text><text x="610.30" y="1221.50" text-anchor="middle" font-size="7.7" textLength="11.84" lengthAdjust="spacingAndGlyphs" fill="#222" stroke="#222" stroke-width="0.12">900</text><text x="333.20" y="1213.20" text-anchor="end" font-size="7.7" textLength="3.95" lengthAdjust="spacingAndGlyphs" fill="#222" stroke="#222" stroke-width="0.12">0</text><text x="333.20" y="1161.95" text-anchor="end" font-size="7.7" textLength="9.87" lengthAdjust="spacingAndGlyphs" fill="#222" stroke="#222" stroke-width="0.12">0.2</text><text x="333.20" y="1110.69" text-anchor="end" font-size="7.7" textLength="9.87" lengthAdjust="spacingAndGlyphs" fill="#222" stroke="#222" stroke-width="0.12">0.4</text><text x="333.20" y="1059.44" text-anchor="end" font-size="7.7" textLength="9.87" lengthAdjust="spacingAndGlyphs" fill="#222" stroke="#222" stroke-width="0.12">0.6</text><text x="333.20" y="1008.18" text-anchor="end" font-size="7.7" textLength="9.87" lengthAdjust="spacingAndGlyphs" fill="#222" stroke="#222" stroke-width="0.12">0.8</text><text x="333.20" y="956.93" text-anchor="end" font-size="7.7" textLength="3.95" lengthAdjust="spacingAndGlyphs" fill="#222" stroke="#222" stroke-width="0.12">1</text><path d="M366.48,1210.80v-3.00 M366.48,928.90v3.00 M396.96,1210.80v-3.00 M396.96,928.90v3.00 M427.43,1210.80v-3.00 M427.43,928.90v3.00 M457.91,1210.80v-3.00 M457.91,928.90v3.00 M488.39,1210.80v-3.00 M488.39,928.90v3.00 M518.87,1210.80v-3.00 M518.87,928.90v3.00 M549.34,1210.80v-3.00 M549.34,928.90v3.00 M579.82,1210.80v-3.00 M579.82,928.90v3.00 M336.00,1159.55h3.00 M610.30,1159.55h-3.00 M336.00,1108.29h3.00 M610.30,1108.29h-3.00 M336.00,1057.04h3.00 M610.30,1057.04h-3.00 M336.00,1005.78h3.00 M610.30,1005.78h-3.00 M336.00,954.53h3.00 M610.30,954.53h-3.00" stroke="#303030" stroke-width="1" fill="none"/><text x="473.15" y="1235.00" text-anchor="middle" font-size="11.6" fill="#1a1a1a" stroke="#1a1a1a" stroke-width="0.18">Wavelength (nm)</text><text transform="translate(319.00,1069.85) rotate(-90)" text-anchor="middle" font-size="11.5" fill="#1a1a1a" stroke="#1a1a1a" stroke-width="0.15">Normalized efficiency (80nm Core)@(45nm Shell)</text><text x="575.80" y="950.40" font-size="19.2" fill="#111">(h)</text><rect x="423.30" y="1050.70" width="142.00" height="42.80" fill="#fff" stroke="#303030" stroke-width="1"/><path d="M425.30,1056.20H438.90" stroke="#d43b47" stroke-width="1.1"/><text x="441.00" y="1058.80" font-size="8.5" textLength="117.95" lengthAdjust="spacingAndGlyphs" fill="#111" stroke="#111" stroke-width="0.12">Ext without surface scattering</text><path d="M425.30,1067.20H438.90" stroke="#d43b47" stroke-width="1.1" stroke-dasharray="3.6,3.8"/><text x="441.00" y="1069.80" font-size="8.5" textLength="120.70" lengthAdjust="spacingAndGlyphs" fill="#111" stroke="#111" stroke-width="0.12">Abs without surface scattering</text><path d="M425.30,1077.90H438.90" stroke="#3434b8" stroke-width="1.1"/><text x="441.00" y="1080.50" font-size="8.5" textLength="105.11" lengthAdjust="spacingAndGlyphs" fill="#111" stroke="#111" stroke-width="0.12">Ext with surface scattering</text><path d="M425.30,1088.60H438.90" stroke="#3434b8" stroke-width="1.1" stroke-dasharray="3.6,3.8"/><text x="441.00" y="1091.20" font-size="8.5" textLength="107.86" lengthAdjust="spacingAndGlyphs" fill="#111" stroke="#111" stroke-width="0.12">Abs with surface scattering</text></g>
</svg></body></html>
